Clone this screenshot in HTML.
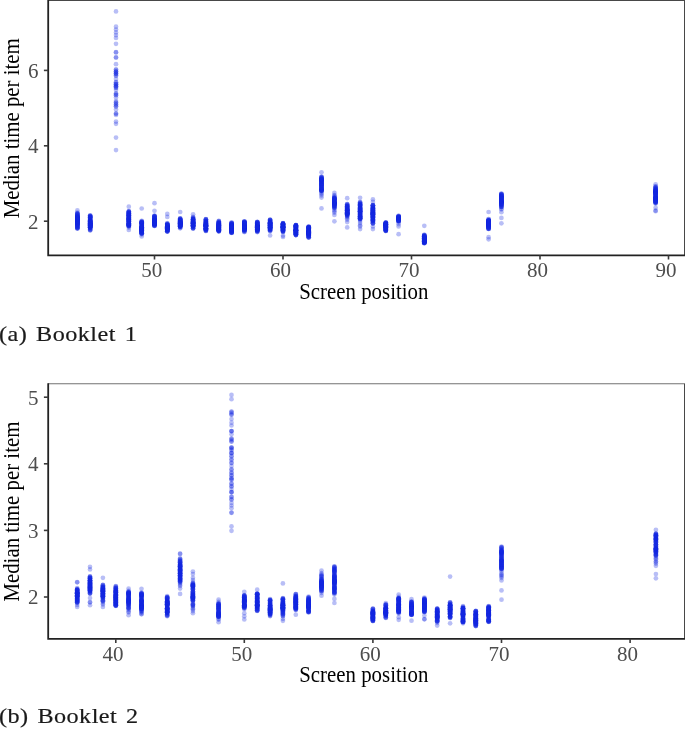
<!DOCTYPE html>
<html><head><meta charset="utf-8"><title>Median time per item by screen position</title>
<style>
html,body{margin:0;padding:0;background:#fff;}
body{width:685px;height:730px;overflow:hidden;position:relative;font-family:"Liberation Serif",serif;}
svg{position:absolute;left:0;top:0;display:block;}
.tk{font-family:"Liberation Serif",serif;font-size:21.65px;fill:#4d4d4d;}
.tt{font-family:"Liberation Serif",serif;font-size:22.6px;fill:#000;}
.cap{position:absolute;left:-1px;font-family:"Liberation Serif","DejaVu Serif",serif;font-size:22px;color:#1a1a1a;white-space:nowrap;line-height:1;-webkit-text-stroke:0.2px #1a1a1a;letter-spacing:0.4px;word-spacing:2.2px;transform:scaleX(1.10);transform-origin:0 0;}
</style></head><body>
<svg width="685" height="730" viewBox="0 0 685 730">
<g fill="#1428e2" fill-opacity="0.3">
<circle cx="77.4" cy="210.4" r="2.35"/>
<circle cx="77.4" cy="228.6" r="2.35"/>
<circle cx="77.4" cy="212.7" r="2.35"/>
<circle cx="77.4" cy="226.1" r="2.35"/>
<circle cx="77.4" cy="228.2" r="2.35"/>
<circle cx="77.4" cy="227.8" r="2.35"/>
<circle cx="77.4" cy="224.3" r="2.35"/>
<circle cx="77.4" cy="219.6" r="2.35"/>
<circle cx="77.4" cy="222.6" r="2.35"/>
<circle cx="77.4" cy="219.3" r="2.35"/>
<circle cx="77.4" cy="220.9" r="2.35"/>
<circle cx="77.4" cy="218.9" r="2.35"/>
<circle cx="77.4" cy="221.9" r="2.35"/>
<circle cx="77.4" cy="226.4" r="2.35"/>
<circle cx="77.4" cy="224.4" r="2.35"/>
<circle cx="77.4" cy="222.5" r="2.35"/>
<circle cx="77.4" cy="218.2" r="2.35"/>
<circle cx="77.4" cy="222.4" r="2.35"/>
<circle cx="77.4" cy="228.6" r="2.35"/>
<circle cx="77.4" cy="218.4" r="2.35"/>
<circle cx="77.4" cy="224.5" r="2.35"/>
<circle cx="77.4" cy="220.2" r="2.35"/>
<circle cx="77.4" cy="224.3" r="2.35"/>
<circle cx="77.4" cy="224.9" r="2.35"/>
<circle cx="77.4" cy="224.5" r="2.35"/>
<circle cx="77.4" cy="222.5" r="2.35"/>
<circle cx="77.4" cy="217.5" r="2.35"/>
<circle cx="77.4" cy="213.4" r="2.35"/>
<circle cx="77.4" cy="216.7" r="2.35"/>
<circle cx="77.4" cy="215.7" r="2.35"/>
<circle cx="77.4" cy="226.5" r="2.35"/>
<circle cx="77.4" cy="223.0" r="2.35"/>
<circle cx="77.4" cy="221.8" r="2.35"/>
<circle cx="77.4" cy="223.5" r="2.35"/>
<circle cx="77.4" cy="216.3" r="2.35"/>
<circle cx="77.4" cy="223.3" r="2.35"/>
<circle cx="77.4" cy="215.3" r="2.35"/>
<circle cx="77.4" cy="217.6" r="2.35"/>
<circle cx="77.4" cy="217.7" r="2.35"/>
<circle cx="77.4" cy="219.6" r="2.35"/>
<circle cx="77.4" cy="216.7" r="2.35"/>
<circle cx="77.4" cy="214.4" r="2.35"/>
<circle cx="77.4" cy="217.7" r="2.35"/>
<circle cx="77.4" cy="228.0" r="2.35"/>
<circle cx="77.4" cy="214.1" r="2.35"/>
<circle cx="77.4" cy="217.0" r="2.35"/>
<circle cx="77.4" cy="225.7" r="2.35"/>
<circle cx="77.4" cy="225.3" r="2.35"/>
<circle cx="77.4" cy="221.2" r="2.35"/>
<circle cx="77.4" cy="217.5" r="2.35"/>
<circle cx="77.4" cy="219.3" r="2.35"/>
<circle cx="77.4" cy="221.1" r="2.35"/>
<circle cx="77.4" cy="215.9" r="2.35"/>
<circle cx="77.4" cy="215.5" r="2.35"/>
<circle cx="77.4" cy="217.3" r="2.35"/>
<circle cx="77.4" cy="214.4" r="2.35"/>
<circle cx="77.4" cy="216.5" r="2.35"/>
<circle cx="77.4" cy="224.2" r="2.35"/>
<circle cx="77.4" cy="227.5" r="2.35"/>
<circle cx="77.4" cy="218.7" r="2.35"/>
<circle cx="77.4" cy="219.9" r="2.35"/>
<circle cx="77.4" cy="219.2" r="2.35"/>
<circle cx="77.4" cy="218.4" r="2.35"/>
<circle cx="77.4" cy="220.5" r="2.35"/>
<circle cx="77.4" cy="219.7" r="2.35"/>
<circle cx="77.4" cy="226.9" r="2.35"/>
<circle cx="77.4" cy="220.4" r="2.35"/>
<circle cx="77.4" cy="219.9" r="2.35"/>
<circle cx="77.4" cy="217.4" r="2.35"/>
<circle cx="77.4" cy="221.9" r="2.35"/>
<circle cx="77.4" cy="222.6" r="2.35"/>
<circle cx="77.4" cy="222.4" r="2.35"/>
<circle cx="77.4" cy="221.4" r="2.35"/>
<circle cx="77.4" cy="217.8" r="2.35"/>
<circle cx="77.4" cy="221.1" r="2.35"/>
<circle cx="77.4" cy="227.1" r="2.35"/>
<circle cx="77.4" cy="222.7" r="2.35"/>
<circle cx="77.4" cy="219.2" r="2.35"/>
<circle cx="77.4" cy="213.7" r="2.35"/>
<circle cx="77.4" cy="223.4" r="2.35"/>
<circle cx="77.4" cy="213.5" r="2.35"/>
<circle cx="90.2" cy="215.3" r="2.35"/>
<circle cx="90.2" cy="230.4" r="2.35"/>
<circle cx="90.2" cy="226.1" r="2.35"/>
<circle cx="90.2" cy="219.2" r="2.35"/>
<circle cx="90.2" cy="217.9" r="2.35"/>
<circle cx="90.2" cy="225.7" r="2.35"/>
<circle cx="90.2" cy="225.0" r="2.35"/>
<circle cx="90.2" cy="225.9" r="2.35"/>
<circle cx="90.2" cy="223.3" r="2.35"/>
<circle cx="90.2" cy="227.2" r="2.35"/>
<circle cx="90.2" cy="223.6" r="2.35"/>
<circle cx="90.2" cy="222.8" r="2.35"/>
<circle cx="90.2" cy="223.4" r="2.35"/>
<circle cx="90.2" cy="217.8" r="2.35"/>
<circle cx="90.2" cy="225.7" r="2.35"/>
<circle cx="90.2" cy="216.8" r="2.35"/>
<circle cx="90.2" cy="220.2" r="2.35"/>
<circle cx="90.2" cy="216.1" r="2.35"/>
<circle cx="90.2" cy="216.1" r="2.35"/>
<circle cx="90.2" cy="216.7" r="2.35"/>
<circle cx="90.2" cy="227.2" r="2.35"/>
<circle cx="90.2" cy="225.2" r="2.35"/>
<circle cx="90.2" cy="224.6" r="2.35"/>
<circle cx="90.2" cy="217.1" r="2.35"/>
<circle cx="90.2" cy="220.6" r="2.35"/>
<circle cx="90.2" cy="224.5" r="2.35"/>
<circle cx="90.2" cy="221.4" r="2.35"/>
<circle cx="90.2" cy="221.2" r="2.35"/>
<circle cx="90.2" cy="226.6" r="2.35"/>
<circle cx="90.2" cy="224.5" r="2.35"/>
<circle cx="90.2" cy="225.7" r="2.35"/>
<circle cx="90.2" cy="227.5" r="2.35"/>
<circle cx="90.2" cy="223.0" r="2.35"/>
<circle cx="90.2" cy="222.9" r="2.35"/>
<circle cx="90.2" cy="224.5" r="2.35"/>
<circle cx="90.2" cy="225.1" r="2.35"/>
<circle cx="90.2" cy="222.0" r="2.35"/>
<circle cx="90.2" cy="223.9" r="2.35"/>
<circle cx="90.2" cy="228.7" r="2.35"/>
<circle cx="90.2" cy="216.9" r="2.35"/>
<circle cx="90.2" cy="225.6" r="2.35"/>
<circle cx="90.2" cy="226.6" r="2.35"/>
<circle cx="90.2" cy="219.5" r="2.35"/>
<circle cx="90.2" cy="227.6" r="2.35"/>
<circle cx="90.2" cy="229.6" r="2.35"/>
<circle cx="90.2" cy="222.6" r="2.35"/>
<circle cx="90.2" cy="220.3" r="2.35"/>
<circle cx="90.2" cy="223.1" r="2.35"/>
<circle cx="90.2" cy="227.3" r="2.35"/>
<circle cx="90.2" cy="226.2" r="2.35"/>
<circle cx="90.2" cy="221.8" r="2.35"/>
<circle cx="90.2" cy="223.5" r="2.35"/>
<circle cx="90.2" cy="224.0" r="2.35"/>
<circle cx="90.2" cy="229.9" r="2.35"/>
<circle cx="90.2" cy="220.6" r="2.35"/>
<circle cx="90.2" cy="227.4" r="2.35"/>
<circle cx="90.2" cy="228.9" r="2.35"/>
<circle cx="90.2" cy="230.1" r="2.35"/>
<circle cx="90.2" cy="224.1" r="2.35"/>
<circle cx="90.2" cy="221.2" r="2.35"/>
<circle cx="90.2" cy="221.3" r="2.35"/>
<circle cx="90.2" cy="218.4" r="2.35"/>
<circle cx="90.2" cy="220.4" r="2.35"/>
<circle cx="90.2" cy="225.6" r="2.35"/>
<circle cx="90.2" cy="223.9" r="2.35"/>
<circle cx="90.2" cy="215.5" r="2.35"/>
<circle cx="90.2" cy="223.8" r="2.35"/>
<circle cx="90.2" cy="217.5" r="2.35"/>
<circle cx="90.2" cy="224.7" r="2.35"/>
<circle cx="90.2" cy="221.7" r="2.35"/>
<circle cx="90.2" cy="226.7" r="2.35"/>
<circle cx="90.2" cy="222.6" r="2.35"/>
<circle cx="90.2" cy="218.5" r="2.35"/>
<circle cx="90.2" cy="217.2" r="2.35"/>
<circle cx="90.2" cy="222.2" r="2.35"/>
<circle cx="90.2" cy="224.3" r="2.35"/>
<circle cx="90.2" cy="223.1" r="2.35"/>
<circle cx="90.2" cy="222.0" r="2.35"/>
<circle cx="90.2" cy="227.4" r="2.35"/>
<circle cx="90.2" cy="217.5" r="2.35"/>
<circle cx="90.2" cy="227.5" r="2.35"/>
<circle cx="90.2" cy="221.7" r="2.35"/>
<circle cx="90.2" cy="220.0" r="2.35"/>
<circle cx="90.2" cy="226.1" r="2.35"/>
<circle cx="90.2" cy="223.4" r="2.35"/>
<circle cx="90.2" cy="226.8" r="2.35"/>
<circle cx="90.2" cy="225.2" r="2.35"/>
<circle cx="90.2" cy="216.1" r="2.35"/>
<circle cx="128.8" cy="211.3" r="2.35"/>
<circle cx="128.8" cy="230.0" r="2.35"/>
<circle cx="128.8" cy="227.6" r="2.35"/>
<circle cx="128.8" cy="212.7" r="2.35"/>
<circle cx="128.8" cy="223.8" r="2.35"/>
<circle cx="128.8" cy="213.3" r="2.35"/>
<circle cx="128.8" cy="219.2" r="2.35"/>
<circle cx="128.8" cy="212.0" r="2.35"/>
<circle cx="128.8" cy="224.0" r="2.35"/>
<circle cx="128.8" cy="213.6" r="2.35"/>
<circle cx="128.8" cy="225.4" r="2.35"/>
<circle cx="128.8" cy="218.0" r="2.35"/>
<circle cx="128.8" cy="218.5" r="2.35"/>
<circle cx="128.8" cy="215.4" r="2.35"/>
<circle cx="128.8" cy="221.7" r="2.35"/>
<circle cx="128.8" cy="221.7" r="2.35"/>
<circle cx="128.8" cy="212.7" r="2.35"/>
<circle cx="128.8" cy="226.3" r="2.35"/>
<circle cx="128.8" cy="218.0" r="2.35"/>
<circle cx="128.8" cy="214.5" r="2.35"/>
<circle cx="128.8" cy="225.5" r="2.35"/>
<circle cx="128.8" cy="219.9" r="2.35"/>
<circle cx="128.8" cy="219.9" r="2.35"/>
<circle cx="128.8" cy="217.5" r="2.35"/>
<circle cx="128.8" cy="216.7" r="2.35"/>
<circle cx="128.8" cy="224.3" r="2.35"/>
<circle cx="128.8" cy="221.1" r="2.35"/>
<circle cx="128.8" cy="215.3" r="2.35"/>
<circle cx="128.8" cy="219.1" r="2.35"/>
<circle cx="128.8" cy="224.4" r="2.35"/>
<circle cx="128.8" cy="219.6" r="2.35"/>
<circle cx="128.8" cy="218.8" r="2.35"/>
<circle cx="128.8" cy="225.7" r="2.35"/>
<circle cx="128.8" cy="214.9" r="2.35"/>
<circle cx="128.8" cy="224.7" r="2.35"/>
<circle cx="128.8" cy="212.3" r="2.35"/>
<circle cx="128.8" cy="225.9" r="2.35"/>
<circle cx="128.8" cy="211.4" r="2.35"/>
<circle cx="128.8" cy="219.1" r="2.35"/>
<circle cx="128.8" cy="217.9" r="2.35"/>
<circle cx="128.8" cy="219.0" r="2.35"/>
<circle cx="128.8" cy="215.4" r="2.35"/>
<circle cx="128.8" cy="220.6" r="2.35"/>
<circle cx="128.8" cy="219.4" r="2.35"/>
<circle cx="128.8" cy="222.5" r="2.35"/>
<circle cx="128.8" cy="225.4" r="2.35"/>
<circle cx="128.8" cy="217.9" r="2.35"/>
<circle cx="128.8" cy="215.7" r="2.35"/>
<circle cx="128.8" cy="225.9" r="2.35"/>
<circle cx="128.8" cy="215.4" r="2.35"/>
<circle cx="128.8" cy="225.5" r="2.35"/>
<circle cx="128.8" cy="224.1" r="2.35"/>
<circle cx="128.8" cy="219.2" r="2.35"/>
<circle cx="128.8" cy="224.2" r="2.35"/>
<circle cx="128.8" cy="220.2" r="2.35"/>
<circle cx="128.8" cy="211.7" r="2.35"/>
<circle cx="128.8" cy="215.1" r="2.35"/>
<circle cx="128.8" cy="224.9" r="2.35"/>
<circle cx="128.8" cy="215.6" r="2.35"/>
<circle cx="128.8" cy="213.5" r="2.35"/>
<circle cx="128.8" cy="214.3" r="2.35"/>
<circle cx="128.8" cy="218.4" r="2.35"/>
<circle cx="128.8" cy="211.7" r="2.35"/>
<circle cx="128.8" cy="221.4" r="2.35"/>
<circle cx="128.8" cy="221.2" r="2.35"/>
<circle cx="128.8" cy="215.1" r="2.35"/>
<circle cx="128.8" cy="223.7" r="2.35"/>
<circle cx="128.8" cy="217.4" r="2.35"/>
<circle cx="128.8" cy="213.7" r="2.35"/>
<circle cx="128.8" cy="221.0" r="2.35"/>
<circle cx="128.8" cy="216.3" r="2.35"/>
<circle cx="128.8" cy="224.0" r="2.35"/>
<circle cx="128.8" cy="223.8" r="2.35"/>
<circle cx="128.8" cy="223.3" r="2.35"/>
<circle cx="128.8" cy="221.2" r="2.35"/>
<circle cx="128.8" cy="223.3" r="2.35"/>
<circle cx="128.8" cy="222.0" r="2.35"/>
<circle cx="128.8" cy="224.8" r="2.35"/>
<circle cx="128.8" cy="217.3" r="2.35"/>
<circle cx="128.8" cy="216.2" r="2.35"/>
<circle cx="128.8" cy="222.1" r="2.35"/>
<circle cx="128.8" cy="213.3" r="2.35"/>
<circle cx="128.8" cy="223.5" r="2.35"/>
<circle cx="128.8" cy="206.7" r="2.35"/>
<circle cx="141.7" cy="220.9" r="2.35"/>
<circle cx="141.7" cy="234.4" r="2.35"/>
<circle cx="141.7" cy="227.0" r="2.35"/>
<circle cx="141.7" cy="230.7" r="2.35"/>
<circle cx="141.7" cy="232.5" r="2.35"/>
<circle cx="141.7" cy="222.8" r="2.35"/>
<circle cx="141.7" cy="227.2" r="2.35"/>
<circle cx="141.7" cy="229.2" r="2.35"/>
<circle cx="141.7" cy="232.1" r="2.35"/>
<circle cx="141.7" cy="227.5" r="2.35"/>
<circle cx="141.7" cy="226.6" r="2.35"/>
<circle cx="141.7" cy="222.2" r="2.35"/>
<circle cx="141.7" cy="225.7" r="2.35"/>
<circle cx="141.7" cy="232.5" r="2.35"/>
<circle cx="141.7" cy="228.2" r="2.35"/>
<circle cx="141.7" cy="223.0" r="2.35"/>
<circle cx="141.7" cy="223.1" r="2.35"/>
<circle cx="141.7" cy="233.8" r="2.35"/>
<circle cx="141.7" cy="231.1" r="2.35"/>
<circle cx="141.7" cy="231.0" r="2.35"/>
<circle cx="141.7" cy="230.2" r="2.35"/>
<circle cx="141.7" cy="230.0" r="2.35"/>
<circle cx="141.7" cy="227.3" r="2.35"/>
<circle cx="141.7" cy="230.5" r="2.35"/>
<circle cx="141.7" cy="233.2" r="2.35"/>
<circle cx="141.7" cy="229.4" r="2.35"/>
<circle cx="141.7" cy="223.9" r="2.35"/>
<circle cx="141.7" cy="224.1" r="2.35"/>
<circle cx="141.7" cy="229.2" r="2.35"/>
<circle cx="141.7" cy="228.6" r="2.35"/>
<circle cx="141.7" cy="225.5" r="2.35"/>
<circle cx="141.7" cy="222.4" r="2.35"/>
<circle cx="141.7" cy="233.3" r="2.35"/>
<circle cx="141.7" cy="221.2" r="2.35"/>
<circle cx="141.7" cy="233.0" r="2.35"/>
<circle cx="141.7" cy="232.0" r="2.35"/>
<circle cx="141.7" cy="222.9" r="2.35"/>
<circle cx="141.7" cy="229.1" r="2.35"/>
<circle cx="141.7" cy="223.6" r="2.35"/>
<circle cx="141.7" cy="227.3" r="2.35"/>
<circle cx="141.7" cy="230.5" r="2.35"/>
<circle cx="141.7" cy="223.7" r="2.35"/>
<circle cx="141.7" cy="227.0" r="2.35"/>
<circle cx="141.7" cy="230.1" r="2.35"/>
<circle cx="141.7" cy="229.7" r="2.35"/>
<circle cx="141.7" cy="231.1" r="2.35"/>
<circle cx="141.7" cy="228.8" r="2.35"/>
<circle cx="141.7" cy="225.9" r="2.35"/>
<circle cx="141.7" cy="231.9" r="2.35"/>
<circle cx="141.7" cy="227.9" r="2.35"/>
<circle cx="141.7" cy="223.2" r="2.35"/>
<circle cx="141.7" cy="224.3" r="2.35"/>
<circle cx="141.7" cy="227.6" r="2.35"/>
<circle cx="141.7" cy="227.1" r="2.35"/>
<circle cx="141.7" cy="228.5" r="2.35"/>
<circle cx="141.7" cy="227.6" r="2.35"/>
<circle cx="141.7" cy="228.6" r="2.35"/>
<circle cx="141.7" cy="226.9" r="2.35"/>
<circle cx="141.7" cy="229.9" r="2.35"/>
<circle cx="141.7" cy="233.3" r="2.35"/>
<circle cx="141.7" cy="230.0" r="2.35"/>
<circle cx="141.7" cy="226.6" r="2.35"/>
<circle cx="141.7" cy="230.1" r="2.35"/>
<circle cx="141.7" cy="222.4" r="2.35"/>
<circle cx="141.7" cy="228.0" r="2.35"/>
<circle cx="141.7" cy="222.6" r="2.35"/>
<circle cx="141.7" cy="231.6" r="2.35"/>
<circle cx="141.7" cy="221.8" r="2.35"/>
<circle cx="141.7" cy="222.0" r="2.35"/>
<circle cx="141.7" cy="225.6" r="2.35"/>
<circle cx="141.7" cy="223.5" r="2.35"/>
<circle cx="141.7" cy="230.5" r="2.35"/>
<circle cx="141.7" cy="230.3" r="2.35"/>
<circle cx="141.7" cy="228.6" r="2.35"/>
<circle cx="141.7" cy="231.5" r="2.35"/>
<circle cx="141.7" cy="227.5" r="2.35"/>
<circle cx="141.7" cy="230.9" r="2.35"/>
<circle cx="141.7" cy="232.9" r="2.35"/>
<circle cx="141.7" cy="233.2" r="2.35"/>
<circle cx="141.7" cy="221.8" r="2.35"/>
<circle cx="141.7" cy="208.5" r="2.35"/>
<circle cx="141.7" cy="236.5" r="2.35"/>
<circle cx="154.5" cy="215.7" r="2.35"/>
<circle cx="154.5" cy="226.0" r="2.35"/>
<circle cx="154.5" cy="220.2" r="2.35"/>
<circle cx="154.5" cy="223.9" r="2.35"/>
<circle cx="154.5" cy="219.6" r="2.35"/>
<circle cx="154.5" cy="225.3" r="2.35"/>
<circle cx="154.5" cy="223.3" r="2.35"/>
<circle cx="154.5" cy="224.6" r="2.35"/>
<circle cx="154.5" cy="220.0" r="2.35"/>
<circle cx="154.5" cy="226.0" r="2.35"/>
<circle cx="154.5" cy="220.0" r="2.35"/>
<circle cx="154.5" cy="221.2" r="2.35"/>
<circle cx="154.5" cy="219.4" r="2.35"/>
<circle cx="154.5" cy="224.5" r="2.35"/>
<circle cx="154.5" cy="224.9" r="2.35"/>
<circle cx="154.5" cy="220.9" r="2.35"/>
<circle cx="154.5" cy="216.0" r="2.35"/>
<circle cx="154.5" cy="221.6" r="2.35"/>
<circle cx="154.5" cy="222.3" r="2.35"/>
<circle cx="154.5" cy="225.5" r="2.35"/>
<circle cx="154.5" cy="224.1" r="2.35"/>
<circle cx="154.5" cy="221.0" r="2.35"/>
<circle cx="154.5" cy="224.4" r="2.35"/>
<circle cx="154.5" cy="223.1" r="2.35"/>
<circle cx="154.5" cy="221.7" r="2.35"/>
<circle cx="154.5" cy="221.1" r="2.35"/>
<circle cx="154.5" cy="219.8" r="2.35"/>
<circle cx="154.5" cy="223.7" r="2.35"/>
<circle cx="154.5" cy="216.5" r="2.35"/>
<circle cx="154.5" cy="218.3" r="2.35"/>
<circle cx="154.5" cy="220.9" r="2.35"/>
<circle cx="154.5" cy="219.1" r="2.35"/>
<circle cx="154.5" cy="218.0" r="2.35"/>
<circle cx="154.5" cy="223.2" r="2.35"/>
<circle cx="154.5" cy="223.2" r="2.35"/>
<circle cx="154.5" cy="220.6" r="2.35"/>
<circle cx="154.5" cy="219.9" r="2.35"/>
<circle cx="154.5" cy="223.0" r="2.35"/>
<circle cx="154.5" cy="225.4" r="2.35"/>
<circle cx="154.5" cy="217.2" r="2.35"/>
<circle cx="154.5" cy="220.1" r="2.35"/>
<circle cx="154.5" cy="224.1" r="2.35"/>
<circle cx="154.5" cy="224.7" r="2.35"/>
<circle cx="154.5" cy="220.6" r="2.35"/>
<circle cx="154.5" cy="223.4" r="2.35"/>
<circle cx="154.5" cy="216.5" r="2.35"/>
<circle cx="154.5" cy="218.3" r="2.35"/>
<circle cx="154.5" cy="221.0" r="2.35"/>
<circle cx="154.5" cy="221.9" r="2.35"/>
<circle cx="154.5" cy="223.5" r="2.35"/>
<circle cx="154.5" cy="223.7" r="2.35"/>
<circle cx="154.5" cy="225.6" r="2.35"/>
<circle cx="154.5" cy="218.8" r="2.35"/>
<circle cx="154.5" cy="216.5" r="2.35"/>
<circle cx="154.5" cy="216.4" r="2.35"/>
<circle cx="154.5" cy="220.5" r="2.35"/>
<circle cx="154.5" cy="220.9" r="2.35"/>
<circle cx="154.5" cy="222.9" r="2.35"/>
<circle cx="154.5" cy="215.8" r="2.35"/>
<circle cx="154.5" cy="220.8" r="2.35"/>
<circle cx="154.5" cy="220.0" r="2.35"/>
<circle cx="154.5" cy="219.6" r="2.35"/>
<circle cx="154.5" cy="220.6" r="2.35"/>
<circle cx="154.5" cy="217.7" r="2.35"/>
<circle cx="154.5" cy="223.7" r="2.35"/>
<circle cx="154.5" cy="222.3" r="2.35"/>
<circle cx="154.5" cy="220.5" r="2.35"/>
<circle cx="154.5" cy="218.1" r="2.35"/>
<circle cx="154.5" cy="220.1" r="2.35"/>
<circle cx="154.5" cy="216.8" r="2.35"/>
<circle cx="154.5" cy="221.0" r="2.35"/>
<circle cx="154.5" cy="221.7" r="2.35"/>
<circle cx="154.5" cy="203.2" r="2.35"/>
<circle cx="154.5" cy="210.8" r="2.35"/>
<circle cx="167.3" cy="223.2" r="2.35"/>
<circle cx="167.3" cy="231.6" r="2.35"/>
<circle cx="167.3" cy="227.9" r="2.35"/>
<circle cx="167.3" cy="226.6" r="2.35"/>
<circle cx="167.3" cy="226.3" r="2.35"/>
<circle cx="167.3" cy="228.9" r="2.35"/>
<circle cx="167.3" cy="229.5" r="2.35"/>
<circle cx="167.3" cy="227.3" r="2.35"/>
<circle cx="167.3" cy="224.5" r="2.35"/>
<circle cx="167.3" cy="226.9" r="2.35"/>
<circle cx="167.3" cy="227.2" r="2.35"/>
<circle cx="167.3" cy="229.9" r="2.35"/>
<circle cx="167.3" cy="228.4" r="2.35"/>
<circle cx="167.3" cy="225.0" r="2.35"/>
<circle cx="167.3" cy="226.1" r="2.35"/>
<circle cx="167.3" cy="224.9" r="2.35"/>
<circle cx="167.3" cy="223.7" r="2.35"/>
<circle cx="167.3" cy="227.0" r="2.35"/>
<circle cx="167.3" cy="225.8" r="2.35"/>
<circle cx="167.3" cy="227.8" r="2.35"/>
<circle cx="167.3" cy="229.2" r="2.35"/>
<circle cx="167.3" cy="226.0" r="2.35"/>
<circle cx="167.3" cy="226.3" r="2.35"/>
<circle cx="167.3" cy="231.1" r="2.35"/>
<circle cx="167.3" cy="227.8" r="2.35"/>
<circle cx="167.3" cy="231.2" r="2.35"/>
<circle cx="167.3" cy="224.9" r="2.35"/>
<circle cx="167.3" cy="228.2" r="2.35"/>
<circle cx="167.3" cy="229.4" r="2.35"/>
<circle cx="167.3" cy="228.5" r="2.35"/>
<circle cx="167.3" cy="230.0" r="2.35"/>
<circle cx="167.3" cy="230.6" r="2.35"/>
<circle cx="167.3" cy="229.1" r="2.35"/>
<circle cx="167.3" cy="226.9" r="2.35"/>
<circle cx="167.3" cy="229.1" r="2.35"/>
<circle cx="167.3" cy="223.8" r="2.35"/>
<circle cx="167.3" cy="231.4" r="2.35"/>
<circle cx="167.3" cy="224.0" r="2.35"/>
<circle cx="167.3" cy="228.2" r="2.35"/>
<circle cx="167.3" cy="226.6" r="2.35"/>
<circle cx="167.3" cy="227.5" r="2.35"/>
<circle cx="167.3" cy="231.3" r="2.35"/>
<circle cx="167.3" cy="227.5" r="2.35"/>
<circle cx="167.3" cy="224.7" r="2.35"/>
<circle cx="167.3" cy="228.3" r="2.35"/>
<circle cx="167.3" cy="229.4" r="2.35"/>
<circle cx="167.3" cy="229.8" r="2.35"/>
<circle cx="167.3" cy="224.8" r="2.35"/>
<circle cx="167.3" cy="227.5" r="2.35"/>
<circle cx="167.3" cy="228.3" r="2.35"/>
<circle cx="167.3" cy="226.0" r="2.35"/>
<circle cx="167.3" cy="225.0" r="2.35"/>
<circle cx="167.3" cy="229.7" r="2.35"/>
<circle cx="167.3" cy="225.8" r="2.35"/>
<circle cx="167.3" cy="225.1" r="2.35"/>
<circle cx="167.3" cy="229.8" r="2.35"/>
<circle cx="167.3" cy="227.4" r="2.35"/>
<circle cx="167.3" cy="225.1" r="2.35"/>
<circle cx="167.3" cy="230.1" r="2.35"/>
<circle cx="167.3" cy="227.2" r="2.35"/>
<circle cx="167.3" cy="228.4" r="2.35"/>
<circle cx="167.3" cy="231.2" r="2.35"/>
<circle cx="167.3" cy="225.7" r="2.35"/>
<circle cx="167.3" cy="227.4" r="2.35"/>
<circle cx="167.3" cy="213.9" r="2.35"/>
<circle cx="167.3" cy="216.9" r="2.35"/>
<circle cx="180.2" cy="218.3" r="2.35"/>
<circle cx="180.2" cy="228.3" r="2.35"/>
<circle cx="180.2" cy="226.4" r="2.35"/>
<circle cx="180.2" cy="220.7" r="2.35"/>
<circle cx="180.2" cy="223.1" r="2.35"/>
<circle cx="180.2" cy="218.4" r="2.35"/>
<circle cx="180.2" cy="228.0" r="2.35"/>
<circle cx="180.2" cy="221.5" r="2.35"/>
<circle cx="180.2" cy="223.1" r="2.35"/>
<circle cx="180.2" cy="222.0" r="2.35"/>
<circle cx="180.2" cy="222.8" r="2.35"/>
<circle cx="180.2" cy="218.9" r="2.35"/>
<circle cx="180.2" cy="223.4" r="2.35"/>
<circle cx="180.2" cy="223.0" r="2.35"/>
<circle cx="180.2" cy="224.5" r="2.35"/>
<circle cx="180.2" cy="225.2" r="2.35"/>
<circle cx="180.2" cy="222.4" r="2.35"/>
<circle cx="180.2" cy="219.7" r="2.35"/>
<circle cx="180.2" cy="223.9" r="2.35"/>
<circle cx="180.2" cy="221.4" r="2.35"/>
<circle cx="180.2" cy="226.4" r="2.35"/>
<circle cx="180.2" cy="222.8" r="2.35"/>
<circle cx="180.2" cy="221.4" r="2.35"/>
<circle cx="180.2" cy="220.5" r="2.35"/>
<circle cx="180.2" cy="219.6" r="2.35"/>
<circle cx="180.2" cy="221.9" r="2.35"/>
<circle cx="180.2" cy="224.5" r="2.35"/>
<circle cx="180.2" cy="225.4" r="2.35"/>
<circle cx="180.2" cy="225.6" r="2.35"/>
<circle cx="180.2" cy="220.5" r="2.35"/>
<circle cx="180.2" cy="223.4" r="2.35"/>
<circle cx="180.2" cy="221.2" r="2.35"/>
<circle cx="180.2" cy="224.0" r="2.35"/>
<circle cx="180.2" cy="223.9" r="2.35"/>
<circle cx="180.2" cy="224.9" r="2.35"/>
<circle cx="180.2" cy="222.3" r="2.35"/>
<circle cx="180.2" cy="224.8" r="2.35"/>
<circle cx="180.2" cy="223.5" r="2.35"/>
<circle cx="180.2" cy="226.4" r="2.35"/>
<circle cx="180.2" cy="219.8" r="2.35"/>
<circle cx="180.2" cy="223.3" r="2.35"/>
<circle cx="180.2" cy="219.2" r="2.35"/>
<circle cx="180.2" cy="219.1" r="2.35"/>
<circle cx="180.2" cy="225.8" r="2.35"/>
<circle cx="180.2" cy="220.7" r="2.35"/>
<circle cx="180.2" cy="225.8" r="2.35"/>
<circle cx="180.2" cy="226.3" r="2.35"/>
<circle cx="180.2" cy="224.5" r="2.35"/>
<circle cx="180.2" cy="225.3" r="2.35"/>
<circle cx="180.2" cy="222.9" r="2.35"/>
<circle cx="180.2" cy="223.2" r="2.35"/>
<circle cx="180.2" cy="225.1" r="2.35"/>
<circle cx="180.2" cy="221.2" r="2.35"/>
<circle cx="180.2" cy="222.9" r="2.35"/>
<circle cx="180.2" cy="226.3" r="2.35"/>
<circle cx="180.2" cy="219.8" r="2.35"/>
<circle cx="180.2" cy="225.9" r="2.35"/>
<circle cx="180.2" cy="221.1" r="2.35"/>
<circle cx="180.2" cy="223.9" r="2.35"/>
<circle cx="180.2" cy="222.7" r="2.35"/>
<circle cx="180.2" cy="224.6" r="2.35"/>
<circle cx="180.2" cy="226.9" r="2.35"/>
<circle cx="180.2" cy="220.5" r="2.35"/>
<circle cx="180.2" cy="223.2" r="2.35"/>
<circle cx="180.2" cy="223.3" r="2.35"/>
<circle cx="180.2" cy="226.9" r="2.35"/>
<circle cx="180.2" cy="226.3" r="2.35"/>
<circle cx="180.2" cy="222.8" r="2.35"/>
<circle cx="180.2" cy="225.1" r="2.35"/>
<circle cx="180.2" cy="224.8" r="2.35"/>
<circle cx="180.2" cy="222.5" r="2.35"/>
<circle cx="180.2" cy="221.0" r="2.35"/>
<circle cx="180.2" cy="212.0" r="2.35"/>
<circle cx="193.1" cy="214.3" r="2.35"/>
<circle cx="193.1" cy="228.6" r="2.35"/>
<circle cx="193.1" cy="216.8" r="2.35"/>
<circle cx="193.1" cy="223.4" r="2.35"/>
<circle cx="193.1" cy="218.0" r="2.35"/>
<circle cx="193.1" cy="221.7" r="2.35"/>
<circle cx="193.1" cy="222.5" r="2.35"/>
<circle cx="193.1" cy="223.6" r="2.35"/>
<circle cx="193.1" cy="219.7" r="2.35"/>
<circle cx="193.1" cy="219.8" r="2.35"/>
<circle cx="193.1" cy="222.2" r="2.35"/>
<circle cx="193.1" cy="225.2" r="2.35"/>
<circle cx="193.1" cy="222.9" r="2.35"/>
<circle cx="193.1" cy="222.3" r="2.35"/>
<circle cx="193.1" cy="220.9" r="2.35"/>
<circle cx="193.1" cy="227.9" r="2.35"/>
<circle cx="193.1" cy="225.3" r="2.35"/>
<circle cx="193.1" cy="219.1" r="2.35"/>
<circle cx="193.1" cy="220.7" r="2.35"/>
<circle cx="193.1" cy="224.0" r="2.35"/>
<circle cx="193.1" cy="226.8" r="2.35"/>
<circle cx="193.1" cy="223.2" r="2.35"/>
<circle cx="193.1" cy="225.7" r="2.35"/>
<circle cx="193.1" cy="219.7" r="2.35"/>
<circle cx="193.1" cy="223.5" r="2.35"/>
<circle cx="193.1" cy="223.2" r="2.35"/>
<circle cx="193.1" cy="221.9" r="2.35"/>
<circle cx="193.1" cy="219.2" r="2.35"/>
<circle cx="193.1" cy="228.2" r="2.35"/>
<circle cx="193.1" cy="223.7" r="2.35"/>
<circle cx="193.1" cy="220.8" r="2.35"/>
<circle cx="193.1" cy="218.8" r="2.35"/>
<circle cx="193.1" cy="222.6" r="2.35"/>
<circle cx="193.1" cy="225.8" r="2.35"/>
<circle cx="193.1" cy="221.5" r="2.35"/>
<circle cx="193.1" cy="227.0" r="2.35"/>
<circle cx="193.1" cy="223.8" r="2.35"/>
<circle cx="193.1" cy="226.2" r="2.35"/>
<circle cx="193.1" cy="225.5" r="2.35"/>
<circle cx="193.1" cy="222.6" r="2.35"/>
<circle cx="193.1" cy="217.6" r="2.35"/>
<circle cx="193.1" cy="226.3" r="2.35"/>
<circle cx="193.1" cy="219.8" r="2.35"/>
<circle cx="193.1" cy="223.3" r="2.35"/>
<circle cx="193.1" cy="226.1" r="2.35"/>
<circle cx="193.1" cy="223.2" r="2.35"/>
<circle cx="193.1" cy="219.2" r="2.35"/>
<circle cx="193.1" cy="228.0" r="2.35"/>
<circle cx="193.1" cy="221.4" r="2.35"/>
<circle cx="193.1" cy="224.2" r="2.35"/>
<circle cx="193.1" cy="225.9" r="2.35"/>
<circle cx="193.1" cy="226.3" r="2.35"/>
<circle cx="193.1" cy="225.4" r="2.35"/>
<circle cx="193.1" cy="222.1" r="2.35"/>
<circle cx="193.1" cy="220.5" r="2.35"/>
<circle cx="193.1" cy="224.9" r="2.35"/>
<circle cx="193.1" cy="225.4" r="2.35"/>
<circle cx="193.1" cy="222.5" r="2.35"/>
<circle cx="193.1" cy="224.5" r="2.35"/>
<circle cx="193.1" cy="223.5" r="2.35"/>
<circle cx="193.1" cy="228.4" r="2.35"/>
<circle cx="193.1" cy="218.0" r="2.35"/>
<circle cx="193.1" cy="222.8" r="2.35"/>
<circle cx="193.1" cy="221.6" r="2.35"/>
<circle cx="193.1" cy="225.5" r="2.35"/>
<circle cx="193.1" cy="220.0" r="2.35"/>
<circle cx="193.1" cy="224.3" r="2.35"/>
<circle cx="193.1" cy="219.8" r="2.35"/>
<circle cx="193.1" cy="226.0" r="2.35"/>
<circle cx="193.1" cy="221.6" r="2.35"/>
<circle cx="193.1" cy="225.3" r="2.35"/>
<circle cx="205.9" cy="219.2" r="2.35"/>
<circle cx="205.9" cy="230.9" r="2.35"/>
<circle cx="205.9" cy="228.8" r="2.35"/>
<circle cx="205.9" cy="225.1" r="2.35"/>
<circle cx="205.9" cy="226.2" r="2.35"/>
<circle cx="205.9" cy="229.3" r="2.35"/>
<circle cx="205.9" cy="228.8" r="2.35"/>
<circle cx="205.9" cy="223.7" r="2.35"/>
<circle cx="205.9" cy="225.7" r="2.35"/>
<circle cx="205.9" cy="220.6" r="2.35"/>
<circle cx="205.9" cy="225.8" r="2.35"/>
<circle cx="205.9" cy="227.7" r="2.35"/>
<circle cx="205.9" cy="223.6" r="2.35"/>
<circle cx="205.9" cy="229.8" r="2.35"/>
<circle cx="205.9" cy="226.0" r="2.35"/>
<circle cx="205.9" cy="228.1" r="2.35"/>
<circle cx="205.9" cy="226.3" r="2.35"/>
<circle cx="205.9" cy="225.4" r="2.35"/>
<circle cx="205.9" cy="229.1" r="2.35"/>
<circle cx="205.9" cy="224.7" r="2.35"/>
<circle cx="205.9" cy="228.5" r="2.35"/>
<circle cx="205.9" cy="222.5" r="2.35"/>
<circle cx="205.9" cy="223.4" r="2.35"/>
<circle cx="205.9" cy="222.3" r="2.35"/>
<circle cx="205.9" cy="222.6" r="2.35"/>
<circle cx="205.9" cy="224.2" r="2.35"/>
<circle cx="205.9" cy="221.1" r="2.35"/>
<circle cx="205.9" cy="225.0" r="2.35"/>
<circle cx="205.9" cy="225.5" r="2.35"/>
<circle cx="205.9" cy="225.4" r="2.35"/>
<circle cx="205.9" cy="228.4" r="2.35"/>
<circle cx="205.9" cy="225.6" r="2.35"/>
<circle cx="205.9" cy="226.9" r="2.35"/>
<circle cx="205.9" cy="229.5" r="2.35"/>
<circle cx="205.9" cy="223.7" r="2.35"/>
<circle cx="205.9" cy="225.0" r="2.35"/>
<circle cx="205.9" cy="230.0" r="2.35"/>
<circle cx="205.9" cy="225.5" r="2.35"/>
<circle cx="205.9" cy="228.5" r="2.35"/>
<circle cx="205.9" cy="224.4" r="2.35"/>
<circle cx="205.9" cy="226.0" r="2.35"/>
<circle cx="205.9" cy="223.1" r="2.35"/>
<circle cx="205.9" cy="228.7" r="2.35"/>
<circle cx="205.9" cy="219.8" r="2.35"/>
<circle cx="205.9" cy="227.8" r="2.35"/>
<circle cx="205.9" cy="226.5" r="2.35"/>
<circle cx="205.9" cy="225.1" r="2.35"/>
<circle cx="205.9" cy="221.5" r="2.35"/>
<circle cx="205.9" cy="226.2" r="2.35"/>
<circle cx="205.9" cy="225.5" r="2.35"/>
<circle cx="205.9" cy="221.1" r="2.35"/>
<circle cx="205.9" cy="223.7" r="2.35"/>
<circle cx="205.9" cy="223.8" r="2.35"/>
<circle cx="205.9" cy="228.7" r="2.35"/>
<circle cx="205.9" cy="224.8" r="2.35"/>
<circle cx="205.9" cy="226.9" r="2.35"/>
<circle cx="205.9" cy="226.1" r="2.35"/>
<circle cx="205.9" cy="225.1" r="2.35"/>
<circle cx="205.9" cy="221.8" r="2.35"/>
<circle cx="205.9" cy="226.2" r="2.35"/>
<circle cx="205.9" cy="219.4" r="2.35"/>
<circle cx="205.9" cy="228.3" r="2.35"/>
<circle cx="205.9" cy="221.5" r="2.35"/>
<circle cx="205.9" cy="229.0" r="2.35"/>
<circle cx="205.9" cy="219.4" r="2.35"/>
<circle cx="205.9" cy="223.4" r="2.35"/>
<circle cx="205.9" cy="230.9" r="2.35"/>
<circle cx="205.9" cy="219.7" r="2.35"/>
<circle cx="205.9" cy="230.5" r="2.35"/>
<circle cx="205.9" cy="226.2" r="2.35"/>
<circle cx="205.9" cy="228.4" r="2.35"/>
<circle cx="205.9" cy="225.1" r="2.35"/>
<circle cx="205.9" cy="227.7" r="2.35"/>
<circle cx="205.9" cy="229.6" r="2.35"/>
<circle cx="205.9" cy="221.0" r="2.35"/>
<circle cx="205.9" cy="222.9" r="2.35"/>
<circle cx="205.9" cy="229.2" r="2.35"/>
<circle cx="205.9" cy="230.6" r="2.35"/>
<circle cx="205.9" cy="224.8" r="2.35"/>
<circle cx="205.9" cy="226.0" r="2.35"/>
<circle cx="218.8" cy="220.9" r="2.35"/>
<circle cx="218.8" cy="231.6" r="2.35"/>
<circle cx="218.8" cy="230.1" r="2.35"/>
<circle cx="218.8" cy="229.2" r="2.35"/>
<circle cx="218.8" cy="229.7" r="2.35"/>
<circle cx="218.8" cy="227.3" r="2.35"/>
<circle cx="218.8" cy="225.6" r="2.35"/>
<circle cx="218.8" cy="225.7" r="2.35"/>
<circle cx="218.8" cy="228.3" r="2.35"/>
<circle cx="218.8" cy="230.5" r="2.35"/>
<circle cx="218.8" cy="221.3" r="2.35"/>
<circle cx="218.8" cy="223.1" r="2.35"/>
<circle cx="218.8" cy="227.3" r="2.35"/>
<circle cx="218.8" cy="228.0" r="2.35"/>
<circle cx="218.8" cy="230.8" r="2.35"/>
<circle cx="218.8" cy="229.8" r="2.35"/>
<circle cx="218.8" cy="224.1" r="2.35"/>
<circle cx="218.8" cy="224.2" r="2.35"/>
<circle cx="218.8" cy="224.6" r="2.35"/>
<circle cx="218.8" cy="228.0" r="2.35"/>
<circle cx="218.8" cy="227.2" r="2.35"/>
<circle cx="218.8" cy="229.4" r="2.35"/>
<circle cx="218.8" cy="221.2" r="2.35"/>
<circle cx="218.8" cy="222.6" r="2.35"/>
<circle cx="218.8" cy="226.4" r="2.35"/>
<circle cx="218.8" cy="226.9" r="2.35"/>
<circle cx="218.8" cy="223.2" r="2.35"/>
<circle cx="218.8" cy="227.7" r="2.35"/>
<circle cx="218.8" cy="229.6" r="2.35"/>
<circle cx="218.8" cy="228.4" r="2.35"/>
<circle cx="218.8" cy="224.8" r="2.35"/>
<circle cx="218.8" cy="225.8" r="2.35"/>
<circle cx="218.8" cy="229.7" r="2.35"/>
<circle cx="218.8" cy="228.8" r="2.35"/>
<circle cx="218.8" cy="224.4" r="2.35"/>
<circle cx="218.8" cy="228.4" r="2.35"/>
<circle cx="218.8" cy="227.6" r="2.35"/>
<circle cx="218.8" cy="224.8" r="2.35"/>
<circle cx="218.8" cy="222.1" r="2.35"/>
<circle cx="218.8" cy="225.5" r="2.35"/>
<circle cx="218.8" cy="229.8" r="2.35"/>
<circle cx="218.8" cy="229.8" r="2.35"/>
<circle cx="218.8" cy="225.2" r="2.35"/>
<circle cx="218.8" cy="222.6" r="2.35"/>
<circle cx="218.8" cy="224.6" r="2.35"/>
<circle cx="218.8" cy="230.5" r="2.35"/>
<circle cx="218.8" cy="230.3" r="2.35"/>
<circle cx="218.8" cy="226.2" r="2.35"/>
<circle cx="218.8" cy="228.5" r="2.35"/>
<circle cx="218.8" cy="226.4" r="2.35"/>
<circle cx="218.8" cy="226.7" r="2.35"/>
<circle cx="218.8" cy="229.9" r="2.35"/>
<circle cx="218.8" cy="223.6" r="2.35"/>
<circle cx="218.8" cy="228.1" r="2.35"/>
<circle cx="218.8" cy="222.3" r="2.35"/>
<circle cx="218.8" cy="229.8" r="2.35"/>
<circle cx="218.8" cy="223.1" r="2.35"/>
<circle cx="218.8" cy="226.6" r="2.35"/>
<circle cx="218.8" cy="226.9" r="2.35"/>
<circle cx="218.8" cy="224.3" r="2.35"/>
<circle cx="218.8" cy="227.8" r="2.35"/>
<circle cx="218.8" cy="225.3" r="2.35"/>
<circle cx="218.8" cy="223.3" r="2.35"/>
<circle cx="218.8" cy="223.4" r="2.35"/>
<circle cx="218.8" cy="223.8" r="2.35"/>
<circle cx="218.8" cy="226.2" r="2.35"/>
<circle cx="218.8" cy="225.2" r="2.35"/>
<circle cx="218.8" cy="231.3" r="2.35"/>
<circle cx="218.8" cy="228.1" r="2.35"/>
<circle cx="218.8" cy="225.3" r="2.35"/>
<circle cx="218.8" cy="226.7" r="2.35"/>
<circle cx="218.8" cy="229.0" r="2.35"/>
<circle cx="218.8" cy="225.7" r="2.35"/>
<circle cx="218.8" cy="231.1" r="2.35"/>
<circle cx="218.8" cy="225.5" r="2.35"/>
<circle cx="218.8" cy="229.5" r="2.35"/>
<circle cx="218.8" cy="230.3" r="2.35"/>
<circle cx="218.8" cy="227.0" r="2.35"/>
<circle cx="218.8" cy="230.5" r="2.35"/>
<circle cx="218.8" cy="230.8" r="2.35"/>
<circle cx="231.6" cy="222.7" r="2.35"/>
<circle cx="231.6" cy="233.0" r="2.35"/>
<circle cx="231.6" cy="229.0" r="2.35"/>
<circle cx="231.6" cy="230.5" r="2.35"/>
<circle cx="231.6" cy="223.8" r="2.35"/>
<circle cx="231.6" cy="230.8" r="2.35"/>
<circle cx="231.6" cy="226.3" r="2.35"/>
<circle cx="231.6" cy="229.3" r="2.35"/>
<circle cx="231.6" cy="228.0" r="2.35"/>
<circle cx="231.6" cy="228.8" r="2.35"/>
<circle cx="231.6" cy="227.1" r="2.35"/>
<circle cx="231.6" cy="225.2" r="2.35"/>
<circle cx="231.6" cy="229.7" r="2.35"/>
<circle cx="231.6" cy="232.0" r="2.35"/>
<circle cx="231.6" cy="231.6" r="2.35"/>
<circle cx="231.6" cy="226.1" r="2.35"/>
<circle cx="231.6" cy="226.4" r="2.35"/>
<circle cx="231.6" cy="231.9" r="2.35"/>
<circle cx="231.6" cy="224.1" r="2.35"/>
<circle cx="231.6" cy="225.7" r="2.35"/>
<circle cx="231.6" cy="225.4" r="2.35"/>
<circle cx="231.6" cy="224.1" r="2.35"/>
<circle cx="231.6" cy="227.0" r="2.35"/>
<circle cx="231.6" cy="228.2" r="2.35"/>
<circle cx="231.6" cy="224.3" r="2.35"/>
<circle cx="231.6" cy="224.6" r="2.35"/>
<circle cx="231.6" cy="228.5" r="2.35"/>
<circle cx="231.6" cy="228.7" r="2.35"/>
<circle cx="231.6" cy="223.4" r="2.35"/>
<circle cx="231.6" cy="229.8" r="2.35"/>
<circle cx="231.6" cy="232.1" r="2.35"/>
<circle cx="231.6" cy="229.5" r="2.35"/>
<circle cx="231.6" cy="229.2" r="2.35"/>
<circle cx="231.6" cy="226.2" r="2.35"/>
<circle cx="231.6" cy="228.6" r="2.35"/>
<circle cx="231.6" cy="223.3" r="2.35"/>
<circle cx="231.6" cy="229.6" r="2.35"/>
<circle cx="231.6" cy="229.3" r="2.35"/>
<circle cx="231.6" cy="231.2" r="2.35"/>
<circle cx="231.6" cy="228.7" r="2.35"/>
<circle cx="231.6" cy="223.0" r="2.35"/>
<circle cx="231.6" cy="232.4" r="2.35"/>
<circle cx="231.6" cy="229.5" r="2.35"/>
<circle cx="231.6" cy="227.7" r="2.35"/>
<circle cx="231.6" cy="228.9" r="2.35"/>
<circle cx="231.6" cy="225.4" r="2.35"/>
<circle cx="231.6" cy="232.6" r="2.35"/>
<circle cx="231.6" cy="227.3" r="2.35"/>
<circle cx="231.6" cy="225.4" r="2.35"/>
<circle cx="231.6" cy="231.5" r="2.35"/>
<circle cx="231.6" cy="229.2" r="2.35"/>
<circle cx="231.6" cy="227.2" r="2.35"/>
<circle cx="231.6" cy="223.7" r="2.35"/>
<circle cx="231.6" cy="232.6" r="2.35"/>
<circle cx="231.6" cy="226.7" r="2.35"/>
<circle cx="231.6" cy="230.9" r="2.35"/>
<circle cx="231.6" cy="231.7" r="2.35"/>
<circle cx="231.6" cy="230.3" r="2.35"/>
<circle cx="231.6" cy="226.5" r="2.35"/>
<circle cx="231.6" cy="227.5" r="2.35"/>
<circle cx="231.6" cy="232.7" r="2.35"/>
<circle cx="231.6" cy="227.4" r="2.35"/>
<circle cx="231.6" cy="228.9" r="2.35"/>
<circle cx="231.6" cy="228.9" r="2.35"/>
<circle cx="231.6" cy="230.1" r="2.35"/>
<circle cx="231.6" cy="225.4" r="2.35"/>
<circle cx="231.6" cy="229.8" r="2.35"/>
<circle cx="231.6" cy="226.3" r="2.35"/>
<circle cx="231.6" cy="228.3" r="2.35"/>
<circle cx="231.6" cy="225.9" r="2.35"/>
<circle cx="231.6" cy="226.7" r="2.35"/>
<circle cx="231.6" cy="222.7" r="2.35"/>
<circle cx="231.6" cy="226.0" r="2.35"/>
<circle cx="231.6" cy="229.3" r="2.35"/>
<circle cx="231.6" cy="226.5" r="2.35"/>
<circle cx="231.6" cy="227.6" r="2.35"/>
<circle cx="231.6" cy="232.4" r="2.35"/>
<circle cx="231.6" cy="226.7" r="2.35"/>
<circle cx="231.6" cy="224.4" r="2.35"/>
<circle cx="231.6" cy="226.0" r="2.35"/>
<circle cx="244.4" cy="221.3" r="2.35"/>
<circle cx="244.4" cy="232.1" r="2.35"/>
<circle cx="244.4" cy="227.1" r="2.35"/>
<circle cx="244.4" cy="222.1" r="2.35"/>
<circle cx="244.4" cy="229.9" r="2.35"/>
<circle cx="244.4" cy="229.1" r="2.35"/>
<circle cx="244.4" cy="226.6" r="2.35"/>
<circle cx="244.4" cy="226.1" r="2.35"/>
<circle cx="244.4" cy="224.8" r="2.35"/>
<circle cx="244.4" cy="223.5" r="2.35"/>
<circle cx="244.4" cy="227.8" r="2.35"/>
<circle cx="244.4" cy="226.7" r="2.35"/>
<circle cx="244.4" cy="230.2" r="2.35"/>
<circle cx="244.4" cy="231.5" r="2.35"/>
<circle cx="244.4" cy="222.0" r="2.35"/>
<circle cx="244.4" cy="228.8" r="2.35"/>
<circle cx="244.4" cy="228.5" r="2.35"/>
<circle cx="244.4" cy="225.3" r="2.35"/>
<circle cx="244.4" cy="227.6" r="2.35"/>
<circle cx="244.4" cy="227.0" r="2.35"/>
<circle cx="244.4" cy="226.7" r="2.35"/>
<circle cx="244.4" cy="225.4" r="2.35"/>
<circle cx="244.4" cy="228.3" r="2.35"/>
<circle cx="244.4" cy="224.8" r="2.35"/>
<circle cx="244.4" cy="229.1" r="2.35"/>
<circle cx="244.4" cy="221.7" r="2.35"/>
<circle cx="244.4" cy="223.8" r="2.35"/>
<circle cx="244.4" cy="228.4" r="2.35"/>
<circle cx="244.4" cy="224.4" r="2.35"/>
<circle cx="244.4" cy="227.1" r="2.35"/>
<circle cx="244.4" cy="229.7" r="2.35"/>
<circle cx="244.4" cy="225.4" r="2.35"/>
<circle cx="244.4" cy="227.8" r="2.35"/>
<circle cx="244.4" cy="228.3" r="2.35"/>
<circle cx="244.4" cy="227.6" r="2.35"/>
<circle cx="244.4" cy="222.4" r="2.35"/>
<circle cx="244.4" cy="226.6" r="2.35"/>
<circle cx="244.4" cy="227.4" r="2.35"/>
<circle cx="244.4" cy="223.3" r="2.35"/>
<circle cx="244.4" cy="222.3" r="2.35"/>
<circle cx="244.4" cy="223.0" r="2.35"/>
<circle cx="244.4" cy="231.7" r="2.35"/>
<circle cx="244.4" cy="230.2" r="2.35"/>
<circle cx="244.4" cy="226.4" r="2.35"/>
<circle cx="244.4" cy="223.5" r="2.35"/>
<circle cx="244.4" cy="227.8" r="2.35"/>
<circle cx="244.4" cy="226.0" r="2.35"/>
<circle cx="244.4" cy="222.4" r="2.35"/>
<circle cx="244.4" cy="225.8" r="2.35"/>
<circle cx="244.4" cy="226.8" r="2.35"/>
<circle cx="244.4" cy="228.2" r="2.35"/>
<circle cx="244.4" cy="226.8" r="2.35"/>
<circle cx="244.4" cy="226.0" r="2.35"/>
<circle cx="244.4" cy="223.5" r="2.35"/>
<circle cx="244.4" cy="228.5" r="2.35"/>
<circle cx="244.4" cy="228.9" r="2.35"/>
<circle cx="244.4" cy="222.7" r="2.35"/>
<circle cx="244.4" cy="223.5" r="2.35"/>
<circle cx="244.4" cy="221.7" r="2.35"/>
<circle cx="244.4" cy="228.4" r="2.35"/>
<circle cx="244.4" cy="230.0" r="2.35"/>
<circle cx="244.4" cy="226.3" r="2.35"/>
<circle cx="244.4" cy="228.0" r="2.35"/>
<circle cx="244.4" cy="221.9" r="2.35"/>
<circle cx="244.4" cy="226.6" r="2.35"/>
<circle cx="244.4" cy="226.2" r="2.35"/>
<circle cx="244.4" cy="230.7" r="2.35"/>
<circle cx="244.4" cy="228.2" r="2.35"/>
<circle cx="244.4" cy="223.7" r="2.35"/>
<circle cx="244.4" cy="227.6" r="2.35"/>
<circle cx="244.4" cy="229.2" r="2.35"/>
<circle cx="244.4" cy="228.6" r="2.35"/>
<circle cx="244.4" cy="230.5" r="2.35"/>
<circle cx="244.4" cy="227.6" r="2.35"/>
<circle cx="244.4" cy="226.7" r="2.35"/>
<circle cx="244.4" cy="230.5" r="2.35"/>
<circle cx="244.4" cy="226.1" r="2.35"/>
<circle cx="244.4" cy="229.7" r="2.35"/>
<circle cx="244.4" cy="223.3" r="2.35"/>
<circle cx="244.4" cy="226.2" r="2.35"/>
<circle cx="257.3" cy="221.8" r="2.35"/>
<circle cx="257.3" cy="232.1" r="2.35"/>
<circle cx="257.3" cy="228.7" r="2.35"/>
<circle cx="257.3" cy="230.1" r="2.35"/>
<circle cx="257.3" cy="227.3" r="2.35"/>
<circle cx="257.3" cy="227.5" r="2.35"/>
<circle cx="257.3" cy="224.6" r="2.35"/>
<circle cx="257.3" cy="223.0" r="2.35"/>
<circle cx="257.3" cy="225.5" r="2.35"/>
<circle cx="257.3" cy="229.6" r="2.35"/>
<circle cx="257.3" cy="231.8" r="2.35"/>
<circle cx="257.3" cy="223.8" r="2.35"/>
<circle cx="257.3" cy="224.8" r="2.35"/>
<circle cx="257.3" cy="231.5" r="2.35"/>
<circle cx="257.3" cy="226.3" r="2.35"/>
<circle cx="257.3" cy="230.4" r="2.35"/>
<circle cx="257.3" cy="229.7" r="2.35"/>
<circle cx="257.3" cy="223.5" r="2.35"/>
<circle cx="257.3" cy="226.1" r="2.35"/>
<circle cx="257.3" cy="225.9" r="2.35"/>
<circle cx="257.3" cy="229.6" r="2.35"/>
<circle cx="257.3" cy="225.8" r="2.35"/>
<circle cx="257.3" cy="225.8" r="2.35"/>
<circle cx="257.3" cy="228.9" r="2.35"/>
<circle cx="257.3" cy="225.7" r="2.35"/>
<circle cx="257.3" cy="228.9" r="2.35"/>
<circle cx="257.3" cy="227.3" r="2.35"/>
<circle cx="257.3" cy="230.4" r="2.35"/>
<circle cx="257.3" cy="225.3" r="2.35"/>
<circle cx="257.3" cy="227.6" r="2.35"/>
<circle cx="257.3" cy="227.7" r="2.35"/>
<circle cx="257.3" cy="228.6" r="2.35"/>
<circle cx="257.3" cy="222.7" r="2.35"/>
<circle cx="257.3" cy="222.2" r="2.35"/>
<circle cx="257.3" cy="226.8" r="2.35"/>
<circle cx="257.3" cy="225.4" r="2.35"/>
<circle cx="257.3" cy="223.7" r="2.35"/>
<circle cx="257.3" cy="224.8" r="2.35"/>
<circle cx="257.3" cy="230.1" r="2.35"/>
<circle cx="257.3" cy="228.1" r="2.35"/>
<circle cx="257.3" cy="226.0" r="2.35"/>
<circle cx="257.3" cy="228.8" r="2.35"/>
<circle cx="257.3" cy="226.3" r="2.35"/>
<circle cx="257.3" cy="227.5" r="2.35"/>
<circle cx="257.3" cy="228.9" r="2.35"/>
<circle cx="257.3" cy="228.7" r="2.35"/>
<circle cx="257.3" cy="229.2" r="2.35"/>
<circle cx="257.3" cy="229.6" r="2.35"/>
<circle cx="257.3" cy="226.5" r="2.35"/>
<circle cx="257.3" cy="228.8" r="2.35"/>
<circle cx="257.3" cy="230.9" r="2.35"/>
<circle cx="257.3" cy="228.0" r="2.35"/>
<circle cx="257.3" cy="230.4" r="2.35"/>
<circle cx="257.3" cy="226.2" r="2.35"/>
<circle cx="257.3" cy="227.3" r="2.35"/>
<circle cx="257.3" cy="226.8" r="2.35"/>
<circle cx="257.3" cy="230.3" r="2.35"/>
<circle cx="257.3" cy="226.1" r="2.35"/>
<circle cx="257.3" cy="223.1" r="2.35"/>
<circle cx="257.3" cy="222.4" r="2.35"/>
<circle cx="257.3" cy="226.8" r="2.35"/>
<circle cx="257.3" cy="226.2" r="2.35"/>
<circle cx="257.3" cy="226.3" r="2.35"/>
<circle cx="257.3" cy="223.2" r="2.35"/>
<circle cx="257.3" cy="229.2" r="2.35"/>
<circle cx="257.3" cy="227.5" r="2.35"/>
<circle cx="257.3" cy="223.2" r="2.35"/>
<circle cx="257.3" cy="225.5" r="2.35"/>
<circle cx="257.3" cy="222.0" r="2.35"/>
<circle cx="257.3" cy="228.7" r="2.35"/>
<circle cx="257.3" cy="231.1" r="2.35"/>
<circle cx="257.3" cy="227.1" r="2.35"/>
<circle cx="257.3" cy="227.1" r="2.35"/>
<circle cx="257.3" cy="229.0" r="2.35"/>
<circle cx="257.3" cy="227.3" r="2.35"/>
<circle cx="257.3" cy="226.9" r="2.35"/>
<circle cx="257.3" cy="222.2" r="2.35"/>
<circle cx="257.3" cy="227.2" r="2.35"/>
<circle cx="257.3" cy="227.7" r="2.35"/>
<circle cx="257.3" cy="224.4" r="2.35"/>
<circle cx="270.1" cy="219.7" r="2.35"/>
<circle cx="270.1" cy="231.3" r="2.35"/>
<circle cx="270.1" cy="221.2" r="2.35"/>
<circle cx="270.1" cy="225.6" r="2.35"/>
<circle cx="270.1" cy="227.3" r="2.35"/>
<circle cx="270.1" cy="222.4" r="2.35"/>
<circle cx="270.1" cy="229.1" r="2.35"/>
<circle cx="270.1" cy="224.2" r="2.35"/>
<circle cx="270.1" cy="227.1" r="2.35"/>
<circle cx="270.1" cy="223.3" r="2.35"/>
<circle cx="270.1" cy="225.5" r="2.35"/>
<circle cx="270.1" cy="224.3" r="2.35"/>
<circle cx="270.1" cy="224.1" r="2.35"/>
<circle cx="270.1" cy="227.2" r="2.35"/>
<circle cx="270.1" cy="227.0" r="2.35"/>
<circle cx="270.1" cy="222.6" r="2.35"/>
<circle cx="270.1" cy="229.2" r="2.35"/>
<circle cx="270.1" cy="230.5" r="2.35"/>
<circle cx="270.1" cy="228.6" r="2.35"/>
<circle cx="270.1" cy="226.0" r="2.35"/>
<circle cx="270.1" cy="224.7" r="2.35"/>
<circle cx="270.1" cy="221.0" r="2.35"/>
<circle cx="270.1" cy="225.5" r="2.35"/>
<circle cx="270.1" cy="228.0" r="2.35"/>
<circle cx="270.1" cy="223.2" r="2.35"/>
<circle cx="270.1" cy="220.0" r="2.35"/>
<circle cx="270.1" cy="226.9" r="2.35"/>
<circle cx="270.1" cy="225.7" r="2.35"/>
<circle cx="270.1" cy="222.9" r="2.35"/>
<circle cx="270.1" cy="222.1" r="2.35"/>
<circle cx="270.1" cy="224.3" r="2.35"/>
<circle cx="270.1" cy="227.9" r="2.35"/>
<circle cx="270.1" cy="229.3" r="2.35"/>
<circle cx="270.1" cy="219.8" r="2.35"/>
<circle cx="270.1" cy="225.4" r="2.35"/>
<circle cx="270.1" cy="222.7" r="2.35"/>
<circle cx="270.1" cy="228.5" r="2.35"/>
<circle cx="270.1" cy="223.4" r="2.35"/>
<circle cx="270.1" cy="224.4" r="2.35"/>
<circle cx="270.1" cy="227.8" r="2.35"/>
<circle cx="270.1" cy="225.7" r="2.35"/>
<circle cx="270.1" cy="228.5" r="2.35"/>
<circle cx="270.1" cy="223.2" r="2.35"/>
<circle cx="270.1" cy="227.0" r="2.35"/>
<circle cx="270.1" cy="223.3" r="2.35"/>
<circle cx="270.1" cy="227.4" r="2.35"/>
<circle cx="270.1" cy="228.4" r="2.35"/>
<circle cx="270.1" cy="222.9" r="2.35"/>
<circle cx="270.1" cy="230.5" r="2.35"/>
<circle cx="270.1" cy="227.7" r="2.35"/>
<circle cx="270.1" cy="229.0" r="2.35"/>
<circle cx="270.1" cy="230.2" r="2.35"/>
<circle cx="270.1" cy="225.2" r="2.35"/>
<circle cx="270.1" cy="223.4" r="2.35"/>
<circle cx="270.1" cy="227.6" r="2.35"/>
<circle cx="270.1" cy="225.0" r="2.35"/>
<circle cx="270.1" cy="227.6" r="2.35"/>
<circle cx="270.1" cy="222.7" r="2.35"/>
<circle cx="270.1" cy="226.7" r="2.35"/>
<circle cx="270.1" cy="224.1" r="2.35"/>
<circle cx="270.1" cy="223.8" r="2.35"/>
<circle cx="270.1" cy="226.7" r="2.35"/>
<circle cx="270.1" cy="229.9" r="2.35"/>
<circle cx="270.1" cy="230.1" r="2.35"/>
<circle cx="270.1" cy="226.5" r="2.35"/>
<circle cx="270.1" cy="227.3" r="2.35"/>
<circle cx="270.1" cy="225.5" r="2.35"/>
<circle cx="270.1" cy="223.0" r="2.35"/>
<circle cx="270.1" cy="226.1" r="2.35"/>
<circle cx="270.1" cy="221.7" r="2.35"/>
<circle cx="270.1" cy="222.6" r="2.35"/>
<circle cx="270.1" cy="224.9" r="2.35"/>
<circle cx="270.1" cy="220.0" r="2.35"/>
<circle cx="270.1" cy="228.1" r="2.35"/>
<circle cx="270.1" cy="225.5" r="2.35"/>
<circle cx="270.1" cy="220.6" r="2.35"/>
<circle cx="270.1" cy="226.5" r="2.35"/>
<circle cx="270.1" cy="220.0" r="2.35"/>
<circle cx="270.1" cy="222.7" r="2.35"/>
<circle cx="270.1" cy="222.7" r="2.35"/>
<circle cx="270.1" cy="235.5" r="2.35"/>
<circle cx="283.0" cy="223.2" r="2.35"/>
<circle cx="283.0" cy="232.1" r="2.35"/>
<circle cx="283.0" cy="224.7" r="2.35"/>
<circle cx="283.0" cy="228.5" r="2.35"/>
<circle cx="283.0" cy="226.5" r="2.35"/>
<circle cx="283.0" cy="226.5" r="2.35"/>
<circle cx="283.0" cy="230.7" r="2.35"/>
<circle cx="283.0" cy="226.5" r="2.35"/>
<circle cx="283.0" cy="227.6" r="2.35"/>
<circle cx="283.0" cy="231.4" r="2.35"/>
<circle cx="283.0" cy="229.0" r="2.35"/>
<circle cx="283.0" cy="230.5" r="2.35"/>
<circle cx="283.0" cy="229.7" r="2.35"/>
<circle cx="283.0" cy="226.7" r="2.35"/>
<circle cx="283.0" cy="224.2" r="2.35"/>
<circle cx="283.0" cy="224.5" r="2.35"/>
<circle cx="283.0" cy="230.3" r="2.35"/>
<circle cx="283.0" cy="228.6" r="2.35"/>
<circle cx="283.0" cy="227.5" r="2.35"/>
<circle cx="283.0" cy="225.6" r="2.35"/>
<circle cx="283.0" cy="227.1" r="2.35"/>
<circle cx="283.0" cy="229.3" r="2.35"/>
<circle cx="283.0" cy="226.0" r="2.35"/>
<circle cx="283.0" cy="227.5" r="2.35"/>
<circle cx="283.0" cy="223.7" r="2.35"/>
<circle cx="283.0" cy="225.6" r="2.35"/>
<circle cx="283.0" cy="226.8" r="2.35"/>
<circle cx="283.0" cy="223.5" r="2.35"/>
<circle cx="283.0" cy="223.4" r="2.35"/>
<circle cx="283.0" cy="224.0" r="2.35"/>
<circle cx="283.0" cy="227.2" r="2.35"/>
<circle cx="283.0" cy="230.0" r="2.35"/>
<circle cx="283.0" cy="226.9" r="2.35"/>
<circle cx="283.0" cy="226.2" r="2.35"/>
<circle cx="283.0" cy="224.4" r="2.35"/>
<circle cx="283.0" cy="227.8" r="2.35"/>
<circle cx="283.0" cy="225.8" r="2.35"/>
<circle cx="283.0" cy="231.0" r="2.35"/>
<circle cx="283.0" cy="227.3" r="2.35"/>
<circle cx="283.0" cy="230.3" r="2.35"/>
<circle cx="283.0" cy="228.6" r="2.35"/>
<circle cx="283.0" cy="227.2" r="2.35"/>
<circle cx="283.0" cy="228.0" r="2.35"/>
<circle cx="283.0" cy="224.4" r="2.35"/>
<circle cx="283.0" cy="229.5" r="2.35"/>
<circle cx="283.0" cy="226.6" r="2.35"/>
<circle cx="283.0" cy="224.5" r="2.35"/>
<circle cx="283.0" cy="227.4" r="2.35"/>
<circle cx="283.0" cy="230.2" r="2.35"/>
<circle cx="283.0" cy="227.2" r="2.35"/>
<circle cx="283.0" cy="225.2" r="2.35"/>
<circle cx="283.0" cy="227.2" r="2.35"/>
<circle cx="283.0" cy="228.8" r="2.35"/>
<circle cx="283.0" cy="224.3" r="2.35"/>
<circle cx="283.0" cy="228.1" r="2.35"/>
<circle cx="283.0" cy="229.5" r="2.35"/>
<circle cx="283.0" cy="228.7" r="2.35"/>
<circle cx="283.0" cy="225.0" r="2.35"/>
<circle cx="283.0" cy="224.7" r="2.35"/>
<circle cx="283.0" cy="225.3" r="2.35"/>
<circle cx="283.0" cy="226.7" r="2.35"/>
<circle cx="283.0" cy="230.9" r="2.35"/>
<circle cx="283.0" cy="226.9" r="2.35"/>
<circle cx="283.0" cy="223.4" r="2.35"/>
<circle cx="283.0" cy="229.3" r="2.35"/>
<circle cx="283.0" cy="224.0" r="2.35"/>
<circle cx="283.0" cy="226.4" r="2.35"/>
<circle cx="283.0" cy="232.0" r="2.35"/>
<circle cx="283.0" cy="223.4" r="2.35"/>
<circle cx="283.0" cy="227.3" r="2.35"/>
<circle cx="283.0" cy="231.1" r="2.35"/>
<circle cx="283.0" cy="227.6" r="2.35"/>
<circle cx="283.0" cy="235.6" r="2.35"/>
<circle cx="283.0" cy="237.0" r="2.35"/>
<circle cx="295.9" cy="225.1" r="2.35"/>
<circle cx="295.9" cy="235.1" r="2.35"/>
<circle cx="295.9" cy="234.3" r="2.35"/>
<circle cx="295.9" cy="230.2" r="2.35"/>
<circle cx="295.9" cy="230.4" r="2.35"/>
<circle cx="295.9" cy="229.5" r="2.35"/>
<circle cx="295.9" cy="226.9" r="2.35"/>
<circle cx="295.9" cy="230.2" r="2.35"/>
<circle cx="295.9" cy="233.5" r="2.35"/>
<circle cx="295.9" cy="225.9" r="2.35"/>
<circle cx="295.9" cy="230.6" r="2.35"/>
<circle cx="295.9" cy="226.3" r="2.35"/>
<circle cx="295.9" cy="225.6" r="2.35"/>
<circle cx="295.9" cy="230.9" r="2.35"/>
<circle cx="295.9" cy="229.0" r="2.35"/>
<circle cx="295.9" cy="234.2" r="2.35"/>
<circle cx="295.9" cy="230.6" r="2.35"/>
<circle cx="295.9" cy="227.9" r="2.35"/>
<circle cx="295.9" cy="232.9" r="2.35"/>
<circle cx="295.9" cy="225.2" r="2.35"/>
<circle cx="295.9" cy="230.7" r="2.35"/>
<circle cx="295.9" cy="230.2" r="2.35"/>
<circle cx="295.9" cy="228.4" r="2.35"/>
<circle cx="295.9" cy="230.1" r="2.35"/>
<circle cx="295.9" cy="232.0" r="2.35"/>
<circle cx="295.9" cy="231.9" r="2.35"/>
<circle cx="295.9" cy="232.4" r="2.35"/>
<circle cx="295.9" cy="230.7" r="2.35"/>
<circle cx="295.9" cy="226.5" r="2.35"/>
<circle cx="295.9" cy="235.1" r="2.35"/>
<circle cx="295.9" cy="230.7" r="2.35"/>
<circle cx="295.9" cy="227.8" r="2.35"/>
<circle cx="295.9" cy="234.3" r="2.35"/>
<circle cx="295.9" cy="226.6" r="2.35"/>
<circle cx="295.9" cy="231.3" r="2.35"/>
<circle cx="295.9" cy="225.7" r="2.35"/>
<circle cx="295.9" cy="231.5" r="2.35"/>
<circle cx="295.9" cy="227.8" r="2.35"/>
<circle cx="295.9" cy="228.4" r="2.35"/>
<circle cx="295.9" cy="225.5" r="2.35"/>
<circle cx="295.9" cy="229.9" r="2.35"/>
<circle cx="295.9" cy="225.8" r="2.35"/>
<circle cx="295.9" cy="233.9" r="2.35"/>
<circle cx="295.9" cy="226.7" r="2.35"/>
<circle cx="295.9" cy="229.8" r="2.35"/>
<circle cx="295.9" cy="233.0" r="2.35"/>
<circle cx="295.9" cy="233.1" r="2.35"/>
<circle cx="295.9" cy="233.7" r="2.35"/>
<circle cx="295.9" cy="234.3" r="2.35"/>
<circle cx="295.9" cy="231.7" r="2.35"/>
<circle cx="295.9" cy="233.0" r="2.35"/>
<circle cx="295.9" cy="233.8" r="2.35"/>
<circle cx="295.9" cy="225.1" r="2.35"/>
<circle cx="295.9" cy="230.2" r="2.35"/>
<circle cx="295.9" cy="230.4" r="2.35"/>
<circle cx="295.9" cy="229.8" r="2.35"/>
<circle cx="295.9" cy="232.5" r="2.35"/>
<circle cx="295.9" cy="226.3" r="2.35"/>
<circle cx="295.9" cy="227.8" r="2.35"/>
<circle cx="295.9" cy="232.2" r="2.35"/>
<circle cx="295.9" cy="226.8" r="2.35"/>
<circle cx="295.9" cy="235.1" r="2.35"/>
<circle cx="295.9" cy="232.7" r="2.35"/>
<circle cx="295.9" cy="229.5" r="2.35"/>
<circle cx="295.9" cy="229.4" r="2.35"/>
<circle cx="295.9" cy="225.4" r="2.35"/>
<circle cx="295.9" cy="226.2" r="2.35"/>
<circle cx="295.9" cy="233.4" r="2.35"/>
<circle cx="295.9" cy="228.6" r="2.35"/>
<circle cx="295.9" cy="234.9" r="2.35"/>
<circle cx="295.9" cy="229.6" r="2.35"/>
<circle cx="295.9" cy="230.9" r="2.35"/>
<circle cx="295.9" cy="231.4" r="2.35"/>
<circle cx="295.9" cy="227.5" r="2.35"/>
<circle cx="295.9" cy="227.5" r="2.35"/>
<circle cx="295.9" cy="232.6" r="2.35"/>
<circle cx="295.9" cy="227.2" r="2.35"/>
<circle cx="295.9" cy="225.3" r="2.35"/>
<circle cx="295.9" cy="230.9" r="2.35"/>
<circle cx="295.9" cy="230.5" r="2.35"/>
<circle cx="308.7" cy="226.6" r="2.35"/>
<circle cx="308.7" cy="237.5" r="2.35"/>
<circle cx="308.7" cy="229.1" r="2.35"/>
<circle cx="308.7" cy="227.9" r="2.35"/>
<circle cx="308.7" cy="233.9" r="2.35"/>
<circle cx="308.7" cy="229.3" r="2.35"/>
<circle cx="308.7" cy="229.9" r="2.35"/>
<circle cx="308.7" cy="227.8" r="2.35"/>
<circle cx="308.7" cy="235.0" r="2.35"/>
<circle cx="308.7" cy="231.3" r="2.35"/>
<circle cx="308.7" cy="237.2" r="2.35"/>
<circle cx="308.7" cy="231.1" r="2.35"/>
<circle cx="308.7" cy="233.1" r="2.35"/>
<circle cx="308.7" cy="228.3" r="2.35"/>
<circle cx="308.7" cy="230.5" r="2.35"/>
<circle cx="308.7" cy="235.4" r="2.35"/>
<circle cx="308.7" cy="226.8" r="2.35"/>
<circle cx="308.7" cy="228.9" r="2.35"/>
<circle cx="308.7" cy="232.3" r="2.35"/>
<circle cx="308.7" cy="230.8" r="2.35"/>
<circle cx="308.7" cy="230.5" r="2.35"/>
<circle cx="308.7" cy="230.7" r="2.35"/>
<circle cx="308.7" cy="231.7" r="2.35"/>
<circle cx="308.7" cy="231.9" r="2.35"/>
<circle cx="308.7" cy="232.5" r="2.35"/>
<circle cx="308.7" cy="235.7" r="2.35"/>
<circle cx="308.7" cy="227.1" r="2.35"/>
<circle cx="308.7" cy="228.0" r="2.35"/>
<circle cx="308.7" cy="234.4" r="2.35"/>
<circle cx="308.7" cy="227.4" r="2.35"/>
<circle cx="308.7" cy="228.2" r="2.35"/>
<circle cx="308.7" cy="227.3" r="2.35"/>
<circle cx="308.7" cy="227.2" r="2.35"/>
<circle cx="308.7" cy="226.6" r="2.35"/>
<circle cx="308.7" cy="228.3" r="2.35"/>
<circle cx="308.7" cy="233.6" r="2.35"/>
<circle cx="308.7" cy="234.0" r="2.35"/>
<circle cx="308.7" cy="234.3" r="2.35"/>
<circle cx="308.7" cy="233.7" r="2.35"/>
<circle cx="308.7" cy="233.8" r="2.35"/>
<circle cx="308.7" cy="228.8" r="2.35"/>
<circle cx="308.7" cy="233.3" r="2.35"/>
<circle cx="308.7" cy="231.9" r="2.35"/>
<circle cx="308.7" cy="235.7" r="2.35"/>
<circle cx="308.7" cy="228.7" r="2.35"/>
<circle cx="308.7" cy="233.9" r="2.35"/>
<circle cx="308.7" cy="234.7" r="2.35"/>
<circle cx="308.7" cy="233.4" r="2.35"/>
<circle cx="308.7" cy="231.5" r="2.35"/>
<circle cx="308.7" cy="230.9" r="2.35"/>
<circle cx="308.7" cy="231.5" r="2.35"/>
<circle cx="308.7" cy="237.5" r="2.35"/>
<circle cx="308.7" cy="227.6" r="2.35"/>
<circle cx="308.7" cy="231.4" r="2.35"/>
<circle cx="308.7" cy="232.3" r="2.35"/>
<circle cx="308.7" cy="227.6" r="2.35"/>
<circle cx="308.7" cy="235.9" r="2.35"/>
<circle cx="308.7" cy="227.4" r="2.35"/>
<circle cx="308.7" cy="227.6" r="2.35"/>
<circle cx="308.7" cy="232.7" r="2.35"/>
<circle cx="308.7" cy="237.1" r="2.35"/>
<circle cx="308.7" cy="235.8" r="2.35"/>
<circle cx="308.7" cy="232.6" r="2.35"/>
<circle cx="308.7" cy="234.5" r="2.35"/>
<circle cx="308.7" cy="232.5" r="2.35"/>
<circle cx="308.7" cy="232.1" r="2.35"/>
<circle cx="308.7" cy="231.2" r="2.35"/>
<circle cx="308.7" cy="230.0" r="2.35"/>
<circle cx="308.7" cy="233.9" r="2.35"/>
<circle cx="308.7" cy="231.7" r="2.35"/>
<circle cx="308.7" cy="233.6" r="2.35"/>
<circle cx="308.7" cy="230.4" r="2.35"/>
<circle cx="308.7" cy="232.8" r="2.35"/>
<circle cx="308.7" cy="232.4" r="2.35"/>
<circle cx="308.7" cy="232.6" r="2.35"/>
<circle cx="308.7" cy="233.3" r="2.35"/>
<circle cx="308.7" cy="233.1" r="2.35"/>
<circle cx="308.7" cy="236.4" r="2.35"/>
<circle cx="308.7" cy="237.3" r="2.35"/>
<circle cx="308.7" cy="235.2" r="2.35"/>
<circle cx="321.5" cy="176.6" r="2.35"/>
<circle cx="321.5" cy="197.6" r="2.35"/>
<circle cx="321.5" cy="195.4" r="2.35"/>
<circle cx="321.5" cy="193.9" r="2.35"/>
<circle cx="321.5" cy="193.0" r="2.35"/>
<circle cx="321.5" cy="183.7" r="2.35"/>
<circle cx="321.5" cy="183.9" r="2.35"/>
<circle cx="321.5" cy="183.2" r="2.35"/>
<circle cx="321.5" cy="184.9" r="2.35"/>
<circle cx="321.5" cy="185.1" r="2.35"/>
<circle cx="321.5" cy="181.9" r="2.35"/>
<circle cx="321.5" cy="180.5" r="2.35"/>
<circle cx="321.5" cy="190.1" r="2.35"/>
<circle cx="321.5" cy="182.0" r="2.35"/>
<circle cx="321.5" cy="184.3" r="2.35"/>
<circle cx="321.5" cy="178.8" r="2.35"/>
<circle cx="321.5" cy="189.9" r="2.35"/>
<circle cx="321.5" cy="187.5" r="2.35"/>
<circle cx="321.5" cy="190.7" r="2.35"/>
<circle cx="321.5" cy="178.5" r="2.35"/>
<circle cx="321.5" cy="190.6" r="2.35"/>
<circle cx="321.5" cy="179.8" r="2.35"/>
<circle cx="321.5" cy="179.6" r="2.35"/>
<circle cx="321.5" cy="191.0" r="2.35"/>
<circle cx="321.5" cy="180.5" r="2.35"/>
<circle cx="321.5" cy="179.5" r="2.35"/>
<circle cx="321.5" cy="182.1" r="2.35"/>
<circle cx="321.5" cy="190.1" r="2.35"/>
<circle cx="321.5" cy="180.8" r="2.35"/>
<circle cx="321.5" cy="180.1" r="2.35"/>
<circle cx="321.5" cy="191.2" r="2.35"/>
<circle cx="321.5" cy="182.5" r="2.35"/>
<circle cx="321.5" cy="180.0" r="2.35"/>
<circle cx="321.5" cy="181.0" r="2.35"/>
<circle cx="321.5" cy="189.5" r="2.35"/>
<circle cx="321.5" cy="177.6" r="2.35"/>
<circle cx="321.5" cy="190.5" r="2.35"/>
<circle cx="321.5" cy="185.8" r="2.35"/>
<circle cx="321.5" cy="179.5" r="2.35"/>
<circle cx="321.5" cy="188.8" r="2.35"/>
<circle cx="321.5" cy="184.1" r="2.35"/>
<circle cx="321.5" cy="177.1" r="2.35"/>
<circle cx="321.5" cy="187.8" r="2.35"/>
<circle cx="321.5" cy="189.2" r="2.35"/>
<circle cx="321.5" cy="187.1" r="2.35"/>
<circle cx="321.5" cy="188.7" r="2.35"/>
<circle cx="321.5" cy="179.8" r="2.35"/>
<circle cx="321.5" cy="182.0" r="2.35"/>
<circle cx="321.5" cy="190.6" r="2.35"/>
<circle cx="321.5" cy="178.8" r="2.35"/>
<circle cx="321.5" cy="182.7" r="2.35"/>
<circle cx="321.5" cy="186.2" r="2.35"/>
<circle cx="321.5" cy="180.6" r="2.35"/>
<circle cx="321.5" cy="187.2" r="2.35"/>
<circle cx="321.5" cy="188.1" r="2.35"/>
<circle cx="321.5" cy="182.3" r="2.35"/>
<circle cx="321.5" cy="177.0" r="2.35"/>
<circle cx="321.5" cy="178.5" r="2.35"/>
<circle cx="321.5" cy="180.1" r="2.35"/>
<circle cx="321.5" cy="185.0" r="2.35"/>
<circle cx="321.5" cy="183.8" r="2.35"/>
<circle cx="321.5" cy="185.8" r="2.35"/>
<circle cx="321.5" cy="177.7" r="2.35"/>
<circle cx="321.5" cy="189.8" r="2.35"/>
<circle cx="321.5" cy="184.7" r="2.35"/>
<circle cx="321.5" cy="179.8" r="2.35"/>
<circle cx="321.5" cy="178.0" r="2.35"/>
<circle cx="321.5" cy="189.6" r="2.35"/>
<circle cx="321.5" cy="179.3" r="2.35"/>
<circle cx="321.5" cy="185.3" r="2.35"/>
<circle cx="321.5" cy="185.6" r="2.35"/>
<circle cx="321.5" cy="187.7" r="2.35"/>
<circle cx="321.5" cy="188.0" r="2.35"/>
<circle cx="321.5" cy="172.3" r="2.35"/>
<circle cx="321.5" cy="208.4" r="2.35"/>
<circle cx="334.4" cy="192.9" r="2.35"/>
<circle cx="334.4" cy="215.0" r="2.35"/>
<circle cx="334.4" cy="195.2" r="2.35"/>
<circle cx="334.4" cy="212.7" r="2.35"/>
<circle cx="334.4" cy="211.3" r="2.35"/>
<circle cx="334.4" cy="210.1" r="2.35"/>
<circle cx="334.4" cy="203.4" r="2.35"/>
<circle cx="334.4" cy="203.7" r="2.35"/>
<circle cx="334.4" cy="207.5" r="2.35"/>
<circle cx="334.4" cy="202.4" r="2.35"/>
<circle cx="334.4" cy="208.3" r="2.35"/>
<circle cx="334.4" cy="207.0" r="2.35"/>
<circle cx="334.4" cy="203.2" r="2.35"/>
<circle cx="334.4" cy="199.5" r="2.35"/>
<circle cx="334.4" cy="198.5" r="2.35"/>
<circle cx="334.4" cy="199.7" r="2.35"/>
<circle cx="334.4" cy="201.4" r="2.35"/>
<circle cx="334.4" cy="202.3" r="2.35"/>
<circle cx="334.4" cy="205.8" r="2.35"/>
<circle cx="334.4" cy="206.5" r="2.35"/>
<circle cx="334.4" cy="197.9" r="2.35"/>
<circle cx="334.4" cy="198.7" r="2.35"/>
<circle cx="334.4" cy="200.8" r="2.35"/>
<circle cx="334.4" cy="203.5" r="2.35"/>
<circle cx="334.4" cy="197.0" r="2.35"/>
<circle cx="334.4" cy="199.5" r="2.35"/>
<circle cx="334.4" cy="208.1" r="2.35"/>
<circle cx="334.4" cy="202.4" r="2.35"/>
<circle cx="334.4" cy="203.9" r="2.35"/>
<circle cx="334.4" cy="203.5" r="2.35"/>
<circle cx="334.4" cy="205.6" r="2.35"/>
<circle cx="334.4" cy="203.9" r="2.35"/>
<circle cx="334.4" cy="203.3" r="2.35"/>
<circle cx="334.4" cy="198.7" r="2.35"/>
<circle cx="334.4" cy="205.7" r="2.35"/>
<circle cx="334.4" cy="204.1" r="2.35"/>
<circle cx="334.4" cy="201.4" r="2.35"/>
<circle cx="334.4" cy="198.1" r="2.35"/>
<circle cx="334.4" cy="199.4" r="2.35"/>
<circle cx="334.4" cy="202.1" r="2.35"/>
<circle cx="334.4" cy="199.9" r="2.35"/>
<circle cx="334.4" cy="197.9" r="2.35"/>
<circle cx="334.4" cy="199.5" r="2.35"/>
<circle cx="334.4" cy="203.4" r="2.35"/>
<circle cx="334.4" cy="199.0" r="2.35"/>
<circle cx="334.4" cy="202.7" r="2.35"/>
<circle cx="334.4" cy="203.9" r="2.35"/>
<circle cx="334.4" cy="202.3" r="2.35"/>
<circle cx="334.4" cy="207.3" r="2.35"/>
<circle cx="334.4" cy="195.9" r="2.35"/>
<circle cx="334.4" cy="203.3" r="2.35"/>
<circle cx="334.4" cy="201.1" r="2.35"/>
<circle cx="334.4" cy="204.3" r="2.35"/>
<circle cx="334.4" cy="205.2" r="2.35"/>
<circle cx="334.4" cy="203.5" r="2.35"/>
<circle cx="334.4" cy="202.8" r="2.35"/>
<circle cx="334.4" cy="200.5" r="2.35"/>
<circle cx="334.4" cy="198.5" r="2.35"/>
<circle cx="334.4" cy="197.7" r="2.35"/>
<circle cx="334.4" cy="206.1" r="2.35"/>
<circle cx="334.4" cy="205.3" r="2.35"/>
<circle cx="334.4" cy="202.3" r="2.35"/>
<circle cx="334.4" cy="205.1" r="2.35"/>
<circle cx="334.4" cy="221.3" r="2.35"/>
<circle cx="347.2" cy="204.1" r="2.35"/>
<circle cx="347.2" cy="222.1" r="2.35"/>
<circle cx="347.2" cy="219.7" r="2.35"/>
<circle cx="347.2" cy="218.2" r="2.35"/>
<circle cx="347.2" cy="210.8" r="2.35"/>
<circle cx="347.2" cy="213.5" r="2.35"/>
<circle cx="347.2" cy="210.2" r="2.35"/>
<circle cx="347.2" cy="209.9" r="2.35"/>
<circle cx="347.2" cy="209.9" r="2.35"/>
<circle cx="347.2" cy="207.2" r="2.35"/>
<circle cx="347.2" cy="213.3" r="2.35"/>
<circle cx="347.2" cy="212.8" r="2.35"/>
<circle cx="347.2" cy="214.2" r="2.35"/>
<circle cx="347.2" cy="215.0" r="2.35"/>
<circle cx="347.2" cy="214.6" r="2.35"/>
<circle cx="347.2" cy="204.5" r="2.35"/>
<circle cx="347.2" cy="206.1" r="2.35"/>
<circle cx="347.2" cy="212.0" r="2.35"/>
<circle cx="347.2" cy="213.2" r="2.35"/>
<circle cx="347.2" cy="205.3" r="2.35"/>
<circle cx="347.2" cy="208.6" r="2.35"/>
<circle cx="347.2" cy="208.5" r="2.35"/>
<circle cx="347.2" cy="210.9" r="2.35"/>
<circle cx="347.2" cy="212.3" r="2.35"/>
<circle cx="347.2" cy="209.1" r="2.35"/>
<circle cx="347.2" cy="204.2" r="2.35"/>
<circle cx="347.2" cy="217.1" r="2.35"/>
<circle cx="347.2" cy="210.0" r="2.35"/>
<circle cx="347.2" cy="215.9" r="2.35"/>
<circle cx="347.2" cy="212.9" r="2.35"/>
<circle cx="347.2" cy="214.0" r="2.35"/>
<circle cx="347.2" cy="213.1" r="2.35"/>
<circle cx="347.2" cy="206.6" r="2.35"/>
<circle cx="347.2" cy="213.6" r="2.35"/>
<circle cx="347.2" cy="215.9" r="2.35"/>
<circle cx="347.2" cy="205.9" r="2.35"/>
<circle cx="347.2" cy="214.5" r="2.35"/>
<circle cx="347.2" cy="208.8" r="2.35"/>
<circle cx="347.2" cy="207.5" r="2.35"/>
<circle cx="347.2" cy="206.4" r="2.35"/>
<circle cx="347.2" cy="211.2" r="2.35"/>
<circle cx="347.2" cy="210.4" r="2.35"/>
<circle cx="347.2" cy="214.1" r="2.35"/>
<circle cx="347.2" cy="210.5" r="2.35"/>
<circle cx="347.2" cy="214.1" r="2.35"/>
<circle cx="347.2" cy="213.1" r="2.35"/>
<circle cx="347.2" cy="212.0" r="2.35"/>
<circle cx="347.2" cy="209.5" r="2.35"/>
<circle cx="347.2" cy="210.0" r="2.35"/>
<circle cx="347.2" cy="206.3" r="2.35"/>
<circle cx="347.2" cy="211.5" r="2.35"/>
<circle cx="347.2" cy="210.5" r="2.35"/>
<circle cx="347.2" cy="212.3" r="2.35"/>
<circle cx="347.2" cy="206.2" r="2.35"/>
<circle cx="347.2" cy="210.8" r="2.35"/>
<circle cx="347.2" cy="210.8" r="2.35"/>
<circle cx="347.2" cy="213.7" r="2.35"/>
<circle cx="347.2" cy="205.1" r="2.35"/>
<circle cx="347.2" cy="212.8" r="2.35"/>
<circle cx="347.2" cy="215.7" r="2.35"/>
<circle cx="347.2" cy="213.7" r="2.35"/>
<circle cx="347.2" cy="208.7" r="2.35"/>
<circle cx="347.2" cy="208.0" r="2.35"/>
<circle cx="347.2" cy="209.4" r="2.35"/>
<circle cx="347.2" cy="214.4" r="2.35"/>
<circle cx="347.2" cy="209.8" r="2.35"/>
<circle cx="347.2" cy="207.3" r="2.35"/>
<circle cx="347.2" cy="212.6" r="2.35"/>
<circle cx="347.2" cy="198.2" r="2.35"/>
<circle cx="347.2" cy="227.4" r="2.35"/>
<circle cx="360.1" cy="202.1" r="2.35"/>
<circle cx="360.1" cy="225.2" r="2.35"/>
<circle cx="360.1" cy="222.9" r="2.35"/>
<circle cx="360.1" cy="213.2" r="2.35"/>
<circle cx="360.1" cy="205.5" r="2.35"/>
<circle cx="360.1" cy="211.8" r="2.35"/>
<circle cx="360.1" cy="214.5" r="2.35"/>
<circle cx="360.1" cy="208.0" r="2.35"/>
<circle cx="360.1" cy="207.2" r="2.35"/>
<circle cx="360.1" cy="209.1" r="2.35"/>
<circle cx="360.1" cy="216.6" r="2.35"/>
<circle cx="360.1" cy="218.3" r="2.35"/>
<circle cx="360.1" cy="216.4" r="2.35"/>
<circle cx="360.1" cy="204.2" r="2.35"/>
<circle cx="360.1" cy="217.5" r="2.35"/>
<circle cx="360.1" cy="205.0" r="2.35"/>
<circle cx="360.1" cy="213.3" r="2.35"/>
<circle cx="360.1" cy="213.9" r="2.35"/>
<circle cx="360.1" cy="211.2" r="2.35"/>
<circle cx="360.1" cy="216.5" r="2.35"/>
<circle cx="360.1" cy="215.2" r="2.35"/>
<circle cx="360.1" cy="205.3" r="2.35"/>
<circle cx="360.1" cy="215.5" r="2.35"/>
<circle cx="360.1" cy="217.9" r="2.35"/>
<circle cx="360.1" cy="211.0" r="2.35"/>
<circle cx="360.1" cy="211.2" r="2.35"/>
<circle cx="360.1" cy="203.4" r="2.35"/>
<circle cx="360.1" cy="210.6" r="2.35"/>
<circle cx="360.1" cy="207.8" r="2.35"/>
<circle cx="360.1" cy="211.3" r="2.35"/>
<circle cx="360.1" cy="208.5" r="2.35"/>
<circle cx="360.1" cy="216.1" r="2.35"/>
<circle cx="360.1" cy="206.6" r="2.35"/>
<circle cx="360.1" cy="209.8" r="2.35"/>
<circle cx="360.1" cy="204.4" r="2.35"/>
<circle cx="360.1" cy="211.7" r="2.35"/>
<circle cx="360.1" cy="208.9" r="2.35"/>
<circle cx="360.1" cy="202.5" r="2.35"/>
<circle cx="360.1" cy="211.9" r="2.35"/>
<circle cx="360.1" cy="202.3" r="2.35"/>
<circle cx="360.1" cy="209.8" r="2.35"/>
<circle cx="360.1" cy="214.2" r="2.35"/>
<circle cx="360.1" cy="212.4" r="2.35"/>
<circle cx="360.1" cy="216.4" r="2.35"/>
<circle cx="360.1" cy="216.3" r="2.35"/>
<circle cx="360.1" cy="215.1" r="2.35"/>
<circle cx="360.1" cy="212.4" r="2.35"/>
<circle cx="360.1" cy="209.9" r="2.35"/>
<circle cx="360.1" cy="218.4" r="2.35"/>
<circle cx="360.1" cy="212.1" r="2.35"/>
<circle cx="360.1" cy="213.0" r="2.35"/>
<circle cx="360.1" cy="203.5" r="2.35"/>
<circle cx="360.1" cy="205.8" r="2.35"/>
<circle cx="360.1" cy="209.9" r="2.35"/>
<circle cx="360.1" cy="220.9" r="2.35"/>
<circle cx="360.1" cy="211.2" r="2.35"/>
<circle cx="360.1" cy="209.4" r="2.35"/>
<circle cx="360.1" cy="218.0" r="2.35"/>
<circle cx="360.1" cy="217.9" r="2.35"/>
<circle cx="360.1" cy="205.5" r="2.35"/>
<circle cx="360.1" cy="211.6" r="2.35"/>
<circle cx="360.1" cy="217.3" r="2.35"/>
<circle cx="360.1" cy="217.1" r="2.35"/>
<circle cx="360.1" cy="218.3" r="2.35"/>
<circle cx="360.1" cy="219.4" r="2.35"/>
<circle cx="360.1" cy="214.4" r="2.35"/>
<circle cx="360.1" cy="208.3" r="2.35"/>
<circle cx="360.1" cy="206.1" r="2.35"/>
<circle cx="360.1" cy="219.0" r="2.35"/>
<circle cx="360.1" cy="218.7" r="2.35"/>
<circle cx="360.1" cy="208.8" r="2.35"/>
<circle cx="360.1" cy="218.7" r="2.35"/>
<circle cx="360.1" cy="204.1" r="2.35"/>
<circle cx="360.1" cy="210.4" r="2.35"/>
<circle cx="360.1" cy="206.9" r="2.35"/>
<circle cx="360.1" cy="208.7" r="2.35"/>
<circle cx="360.1" cy="216.5" r="2.35"/>
<circle cx="360.1" cy="207.5" r="2.35"/>
<circle cx="360.1" cy="218.7" r="2.35"/>
<circle cx="360.1" cy="210.0" r="2.35"/>
<circle cx="360.1" cy="204.3" r="2.35"/>
<circle cx="360.1" cy="197.8" r="2.35"/>
<circle cx="360.1" cy="226.4" r="2.35"/>
<circle cx="360.1" cy="229.1" r="2.35"/>
<circle cx="372.9" cy="205.2" r="2.35"/>
<circle cx="372.9" cy="223.4" r="2.35"/>
<circle cx="372.9" cy="215.7" r="2.35"/>
<circle cx="372.9" cy="212.3" r="2.35"/>
<circle cx="372.9" cy="212.3" r="2.35"/>
<circle cx="372.9" cy="219.4" r="2.35"/>
<circle cx="372.9" cy="212.1" r="2.35"/>
<circle cx="372.9" cy="205.2" r="2.35"/>
<circle cx="372.9" cy="219.1" r="2.35"/>
<circle cx="372.9" cy="208.4" r="2.35"/>
<circle cx="372.9" cy="221.0" r="2.35"/>
<circle cx="372.9" cy="221.3" r="2.35"/>
<circle cx="372.9" cy="217.6" r="2.35"/>
<circle cx="372.9" cy="212.8" r="2.35"/>
<circle cx="372.9" cy="214.3" r="2.35"/>
<circle cx="372.9" cy="217.1" r="2.35"/>
<circle cx="372.9" cy="205.4" r="2.35"/>
<circle cx="372.9" cy="216.5" r="2.35"/>
<circle cx="372.9" cy="213.2" r="2.35"/>
<circle cx="372.9" cy="213.0" r="2.35"/>
<circle cx="372.9" cy="223.3" r="2.35"/>
<circle cx="372.9" cy="223.3" r="2.35"/>
<circle cx="372.9" cy="209.7" r="2.35"/>
<circle cx="372.9" cy="214.3" r="2.35"/>
<circle cx="372.9" cy="223.1" r="2.35"/>
<circle cx="372.9" cy="221.5" r="2.35"/>
<circle cx="372.9" cy="212.8" r="2.35"/>
<circle cx="372.9" cy="220.3" r="2.35"/>
<circle cx="372.9" cy="212.1" r="2.35"/>
<circle cx="372.9" cy="211.4" r="2.35"/>
<circle cx="372.9" cy="208.6" r="2.35"/>
<circle cx="372.9" cy="213.8" r="2.35"/>
<circle cx="372.9" cy="205.5" r="2.35"/>
<circle cx="372.9" cy="216.2" r="2.35"/>
<circle cx="372.9" cy="216.5" r="2.35"/>
<circle cx="372.9" cy="217.3" r="2.35"/>
<circle cx="372.9" cy="218.4" r="2.35"/>
<circle cx="372.9" cy="218.8" r="2.35"/>
<circle cx="372.9" cy="209.3" r="2.35"/>
<circle cx="372.9" cy="217.6" r="2.35"/>
<circle cx="372.9" cy="214.4" r="2.35"/>
<circle cx="372.9" cy="217.4" r="2.35"/>
<circle cx="372.9" cy="210.3" r="2.35"/>
<circle cx="372.9" cy="207.0" r="2.35"/>
<circle cx="372.9" cy="208.3" r="2.35"/>
<circle cx="372.9" cy="211.4" r="2.35"/>
<circle cx="372.9" cy="210.3" r="2.35"/>
<circle cx="372.9" cy="212.3" r="2.35"/>
<circle cx="372.9" cy="206.5" r="2.35"/>
<circle cx="372.9" cy="211.3" r="2.35"/>
<circle cx="372.9" cy="208.1" r="2.35"/>
<circle cx="372.9" cy="215.5" r="2.35"/>
<circle cx="372.9" cy="214.6" r="2.35"/>
<circle cx="372.9" cy="219.4" r="2.35"/>
<circle cx="372.9" cy="207.2" r="2.35"/>
<circle cx="372.9" cy="213.7" r="2.35"/>
<circle cx="372.9" cy="213.3" r="2.35"/>
<circle cx="372.9" cy="213.7" r="2.35"/>
<circle cx="372.9" cy="205.6" r="2.35"/>
<circle cx="372.9" cy="215.0" r="2.35"/>
<circle cx="372.9" cy="208.3" r="2.35"/>
<circle cx="372.9" cy="214.6" r="2.35"/>
<circle cx="372.9" cy="220.4" r="2.35"/>
<circle cx="372.9" cy="213.8" r="2.35"/>
<circle cx="372.9" cy="214.9" r="2.35"/>
<circle cx="372.9" cy="210.1" r="2.35"/>
<circle cx="372.9" cy="220.3" r="2.35"/>
<circle cx="372.9" cy="211.9" r="2.35"/>
<circle cx="372.9" cy="215.3" r="2.35"/>
<circle cx="372.9" cy="208.3" r="2.35"/>
<circle cx="372.9" cy="219.4" r="2.35"/>
<circle cx="372.9" cy="214.0" r="2.35"/>
<circle cx="372.9" cy="210.8" r="2.35"/>
<circle cx="372.9" cy="217.2" r="2.35"/>
<circle cx="372.9" cy="214.0" r="2.35"/>
<circle cx="372.9" cy="210.1" r="2.35"/>
<circle cx="372.9" cy="210.8" r="2.35"/>
<circle cx="372.9" cy="220.1" r="2.35"/>
<circle cx="372.9" cy="209.7" r="2.35"/>
<circle cx="372.9" cy="205.3" r="2.35"/>
<circle cx="372.9" cy="222.2" r="2.35"/>
<circle cx="372.9" cy="213.0" r="2.35"/>
<circle cx="372.9" cy="213.8" r="2.35"/>
<circle cx="372.9" cy="216.3" r="2.35"/>
<circle cx="372.9" cy="210.1" r="2.35"/>
<circle cx="372.9" cy="214.6" r="2.35"/>
<circle cx="372.9" cy="207.0" r="2.35"/>
<circle cx="372.9" cy="209.9" r="2.35"/>
<circle cx="372.9" cy="199.4" r="2.35"/>
<circle cx="372.9" cy="201.9" r="2.35"/>
<circle cx="372.9" cy="226.4" r="2.35"/>
<circle cx="372.9" cy="229.1" r="2.35"/>
<circle cx="385.8" cy="222.5" r="2.35"/>
<circle cx="385.8" cy="230.9" r="2.35"/>
<circle cx="385.8" cy="225.7" r="2.35"/>
<circle cx="385.8" cy="229.6" r="2.35"/>
<circle cx="385.8" cy="229.9" r="2.35"/>
<circle cx="385.8" cy="223.4" r="2.35"/>
<circle cx="385.8" cy="224.0" r="2.35"/>
<circle cx="385.8" cy="229.2" r="2.35"/>
<circle cx="385.8" cy="228.1" r="2.35"/>
<circle cx="385.8" cy="225.8" r="2.35"/>
<circle cx="385.8" cy="229.9" r="2.35"/>
<circle cx="385.8" cy="223.6" r="2.35"/>
<circle cx="385.8" cy="225.6" r="2.35"/>
<circle cx="385.8" cy="224.1" r="2.35"/>
<circle cx="385.8" cy="229.0" r="2.35"/>
<circle cx="385.8" cy="223.5" r="2.35"/>
<circle cx="385.8" cy="224.7" r="2.35"/>
<circle cx="385.8" cy="227.4" r="2.35"/>
<circle cx="385.8" cy="226.1" r="2.35"/>
<circle cx="385.8" cy="228.5" r="2.35"/>
<circle cx="385.8" cy="222.8" r="2.35"/>
<circle cx="385.8" cy="224.7" r="2.35"/>
<circle cx="385.8" cy="230.7" r="2.35"/>
<circle cx="385.8" cy="223.8" r="2.35"/>
<circle cx="385.8" cy="227.7" r="2.35"/>
<circle cx="385.8" cy="230.1" r="2.35"/>
<circle cx="385.8" cy="227.1" r="2.35"/>
<circle cx="385.8" cy="226.4" r="2.35"/>
<circle cx="385.8" cy="230.8" r="2.35"/>
<circle cx="385.8" cy="228.0" r="2.35"/>
<circle cx="385.8" cy="226.8" r="2.35"/>
<circle cx="385.8" cy="227.3" r="2.35"/>
<circle cx="385.8" cy="222.6" r="2.35"/>
<circle cx="385.8" cy="230.8" r="2.35"/>
<circle cx="385.8" cy="226.7" r="2.35"/>
<circle cx="385.8" cy="226.1" r="2.35"/>
<circle cx="385.8" cy="224.3" r="2.35"/>
<circle cx="385.8" cy="228.7" r="2.35"/>
<circle cx="385.8" cy="224.1" r="2.35"/>
<circle cx="385.8" cy="224.9" r="2.35"/>
<circle cx="385.8" cy="225.1" r="2.35"/>
<circle cx="385.8" cy="225.2" r="2.35"/>
<circle cx="385.8" cy="226.5" r="2.35"/>
<circle cx="385.8" cy="224.3" r="2.35"/>
<circle cx="385.8" cy="229.1" r="2.35"/>
<circle cx="385.8" cy="222.6" r="2.35"/>
<circle cx="385.8" cy="225.0" r="2.35"/>
<circle cx="385.8" cy="223.1" r="2.35"/>
<circle cx="385.8" cy="227.0" r="2.35"/>
<circle cx="385.8" cy="224.4" r="2.35"/>
<circle cx="385.8" cy="230.1" r="2.35"/>
<circle cx="385.8" cy="227.5" r="2.35"/>
<circle cx="385.8" cy="224.8" r="2.35"/>
<circle cx="385.8" cy="222.8" r="2.35"/>
<circle cx="385.8" cy="228.6" r="2.35"/>
<circle cx="385.8" cy="223.1" r="2.35"/>
<circle cx="385.8" cy="224.4" r="2.35"/>
<circle cx="385.8" cy="226.3" r="2.35"/>
<circle cx="385.8" cy="225.0" r="2.35"/>
<circle cx="385.8" cy="227.6" r="2.35"/>
<circle cx="385.8" cy="225.7" r="2.35"/>
<circle cx="385.8" cy="230.6" r="2.35"/>
<circle cx="385.8" cy="224.5" r="2.35"/>
<circle cx="385.8" cy="226.6" r="2.35"/>
<circle cx="385.8" cy="228.7" r="2.35"/>
<circle cx="385.8" cy="224.2" r="2.35"/>
<circle cx="385.8" cy="224.8" r="2.35"/>
<circle cx="385.8" cy="226.5" r="2.35"/>
<circle cx="385.8" cy="230.0" r="2.35"/>
<circle cx="385.8" cy="227.6" r="2.35"/>
<circle cx="385.8" cy="227.4" r="2.35"/>
<circle cx="385.8" cy="223.9" r="2.35"/>
<circle cx="398.6" cy="215.8" r="2.35"/>
<circle cx="398.6" cy="226.4" r="2.35"/>
<circle cx="398.6" cy="224.2" r="2.35"/>
<circle cx="398.6" cy="222.4" r="2.35"/>
<circle cx="398.6" cy="217.2" r="2.35"/>
<circle cx="398.6" cy="216.9" r="2.35"/>
<circle cx="398.6" cy="219.5" r="2.35"/>
<circle cx="398.6" cy="221.1" r="2.35"/>
<circle cx="398.6" cy="216.9" r="2.35"/>
<circle cx="398.6" cy="218.0" r="2.35"/>
<circle cx="398.6" cy="216.9" r="2.35"/>
<circle cx="398.6" cy="216.4" r="2.35"/>
<circle cx="398.6" cy="218.5" r="2.35"/>
<circle cx="398.6" cy="217.6" r="2.35"/>
<circle cx="398.6" cy="219.2" r="2.35"/>
<circle cx="398.6" cy="220.7" r="2.35"/>
<circle cx="398.6" cy="219.4" r="2.35"/>
<circle cx="398.6" cy="219.2" r="2.35"/>
<circle cx="398.6" cy="219.9" r="2.35"/>
<circle cx="398.6" cy="221.0" r="2.35"/>
<circle cx="398.6" cy="220.0" r="2.35"/>
<circle cx="398.6" cy="215.8" r="2.35"/>
<circle cx="398.6" cy="218.9" r="2.35"/>
<circle cx="398.6" cy="217.8" r="2.35"/>
<circle cx="398.6" cy="218.9" r="2.35"/>
<circle cx="398.6" cy="217.0" r="2.35"/>
<circle cx="398.6" cy="217.8" r="2.35"/>
<circle cx="398.6" cy="219.7" r="2.35"/>
<circle cx="398.6" cy="218.5" r="2.35"/>
<circle cx="398.6" cy="219.6" r="2.35"/>
<circle cx="398.6" cy="221.0" r="2.35"/>
<circle cx="398.6" cy="216.9" r="2.35"/>
<circle cx="398.6" cy="217.2" r="2.35"/>
<circle cx="398.6" cy="220.6" r="2.35"/>
<circle cx="398.6" cy="218.0" r="2.35"/>
<circle cx="398.6" cy="219.1" r="2.35"/>
<circle cx="398.6" cy="220.9" r="2.35"/>
<circle cx="398.6" cy="216.7" r="2.35"/>
<circle cx="398.6" cy="220.9" r="2.35"/>
<circle cx="398.6" cy="218.0" r="2.35"/>
<circle cx="398.6" cy="217.4" r="2.35"/>
<circle cx="398.6" cy="217.4" r="2.35"/>
<circle cx="398.6" cy="220.0" r="2.35"/>
<circle cx="398.6" cy="219.8" r="2.35"/>
<circle cx="398.6" cy="234.2" r="2.35"/>
<circle cx="424.3" cy="234.8" r="2.35"/>
<circle cx="424.3" cy="243.2" r="2.35"/>
<circle cx="424.3" cy="236.7" r="2.35"/>
<circle cx="424.3" cy="235.3" r="2.35"/>
<circle cx="424.3" cy="237.5" r="2.35"/>
<circle cx="424.3" cy="242.8" r="2.35"/>
<circle cx="424.3" cy="238.0" r="2.35"/>
<circle cx="424.3" cy="241.4" r="2.35"/>
<circle cx="424.3" cy="238.2" r="2.35"/>
<circle cx="424.3" cy="234.9" r="2.35"/>
<circle cx="424.3" cy="242.4" r="2.35"/>
<circle cx="424.3" cy="239.5" r="2.35"/>
<circle cx="424.3" cy="241.8" r="2.35"/>
<circle cx="424.3" cy="241.7" r="2.35"/>
<circle cx="424.3" cy="236.3" r="2.35"/>
<circle cx="424.3" cy="239.7" r="2.35"/>
<circle cx="424.3" cy="236.6" r="2.35"/>
<circle cx="424.3" cy="240.5" r="2.35"/>
<circle cx="424.3" cy="241.8" r="2.35"/>
<circle cx="424.3" cy="242.5" r="2.35"/>
<circle cx="424.3" cy="237.9" r="2.35"/>
<circle cx="424.3" cy="243.2" r="2.35"/>
<circle cx="424.3" cy="242.1" r="2.35"/>
<circle cx="424.3" cy="241.7" r="2.35"/>
<circle cx="424.3" cy="236.4" r="2.35"/>
<circle cx="424.3" cy="241.2" r="2.35"/>
<circle cx="424.3" cy="240.6" r="2.35"/>
<circle cx="424.3" cy="239.7" r="2.35"/>
<circle cx="424.3" cy="240.4" r="2.35"/>
<circle cx="424.3" cy="236.2" r="2.35"/>
<circle cx="424.3" cy="239.1" r="2.35"/>
<circle cx="424.3" cy="241.2" r="2.35"/>
<circle cx="424.3" cy="238.5" r="2.35"/>
<circle cx="424.3" cy="241.4" r="2.35"/>
<circle cx="424.3" cy="240.1" r="2.35"/>
<circle cx="424.3" cy="237.9" r="2.35"/>
<circle cx="424.3" cy="240.6" r="2.35"/>
<circle cx="424.3" cy="238.6" r="2.35"/>
<circle cx="424.3" cy="237.6" r="2.35"/>
<circle cx="424.3" cy="238.2" r="2.35"/>
<circle cx="424.3" cy="241.5" r="2.35"/>
<circle cx="424.3" cy="241.6" r="2.35"/>
<circle cx="424.3" cy="242.1" r="2.35"/>
<circle cx="424.3" cy="240.7" r="2.35"/>
<circle cx="424.3" cy="241.6" r="2.35"/>
<circle cx="424.3" cy="238.4" r="2.35"/>
<circle cx="424.3" cy="235.8" r="2.35"/>
<circle cx="424.3" cy="241.2" r="2.35"/>
<circle cx="424.3" cy="238.4" r="2.35"/>
<circle cx="424.3" cy="242.8" r="2.35"/>
<circle cx="424.3" cy="237.8" r="2.35"/>
<circle cx="424.3" cy="239.5" r="2.35"/>
<circle cx="424.3" cy="242.7" r="2.35"/>
<circle cx="424.3" cy="242.6" r="2.35"/>
<circle cx="424.3" cy="242.9" r="2.35"/>
<circle cx="424.3" cy="238.5" r="2.35"/>
<circle cx="424.3" cy="236.3" r="2.35"/>
<circle cx="424.3" cy="237.3" r="2.35"/>
<circle cx="424.3" cy="239.1" r="2.35"/>
<circle cx="424.3" cy="240.6" r="2.35"/>
<circle cx="424.3" cy="241.9" r="2.35"/>
<circle cx="424.3" cy="241.8" r="2.35"/>
<circle cx="424.3" cy="236.4" r="2.35"/>
<circle cx="424.3" cy="238.3" r="2.35"/>
<circle cx="424.3" cy="239.5" r="2.35"/>
<circle cx="424.3" cy="235.7" r="2.35"/>
<circle cx="424.3" cy="236.6" r="2.35"/>
<circle cx="424.3" cy="235.4" r="2.35"/>
<circle cx="424.3" cy="237.8" r="2.35"/>
<circle cx="424.3" cy="242.1" r="2.35"/>
<circle cx="424.3" cy="240.8" r="2.35"/>
<circle cx="424.3" cy="240.1" r="2.35"/>
<circle cx="424.3" cy="225.8" r="2.35"/>
<circle cx="488.6" cy="219.1" r="2.35"/>
<circle cx="488.6" cy="229.0" r="2.35"/>
<circle cx="488.6" cy="226.1" r="2.35"/>
<circle cx="488.6" cy="221.2" r="2.35"/>
<circle cx="488.6" cy="223.1" r="2.35"/>
<circle cx="488.6" cy="222.4" r="2.35"/>
<circle cx="488.6" cy="220.6" r="2.35"/>
<circle cx="488.6" cy="222.6" r="2.35"/>
<circle cx="488.6" cy="220.7" r="2.35"/>
<circle cx="488.6" cy="224.0" r="2.35"/>
<circle cx="488.6" cy="227.2" r="2.35"/>
<circle cx="488.6" cy="225.4" r="2.35"/>
<circle cx="488.6" cy="224.4" r="2.35"/>
<circle cx="488.6" cy="226.1" r="2.35"/>
<circle cx="488.6" cy="223.4" r="2.35"/>
<circle cx="488.6" cy="220.9" r="2.35"/>
<circle cx="488.6" cy="229.0" r="2.35"/>
<circle cx="488.6" cy="225.3" r="2.35"/>
<circle cx="488.6" cy="225.4" r="2.35"/>
<circle cx="488.6" cy="222.4" r="2.35"/>
<circle cx="488.6" cy="223.9" r="2.35"/>
<circle cx="488.6" cy="225.0" r="2.35"/>
<circle cx="488.6" cy="221.5" r="2.35"/>
<circle cx="488.6" cy="221.6" r="2.35"/>
<circle cx="488.6" cy="227.3" r="2.35"/>
<circle cx="488.6" cy="220.7" r="2.35"/>
<circle cx="488.6" cy="224.1" r="2.35"/>
<circle cx="488.6" cy="220.7" r="2.35"/>
<circle cx="488.6" cy="228.5" r="2.35"/>
<circle cx="488.6" cy="224.9" r="2.35"/>
<circle cx="488.6" cy="225.8" r="2.35"/>
<circle cx="488.6" cy="220.7" r="2.35"/>
<circle cx="488.6" cy="223.8" r="2.35"/>
<circle cx="488.6" cy="222.9" r="2.35"/>
<circle cx="488.6" cy="226.3" r="2.35"/>
<circle cx="488.6" cy="224.6" r="2.35"/>
<circle cx="488.6" cy="225.1" r="2.35"/>
<circle cx="488.6" cy="227.2" r="2.35"/>
<circle cx="488.6" cy="223.2" r="2.35"/>
<circle cx="488.6" cy="224.8" r="2.35"/>
<circle cx="488.6" cy="221.9" r="2.35"/>
<circle cx="488.6" cy="227.3" r="2.35"/>
<circle cx="488.6" cy="221.4" r="2.35"/>
<circle cx="488.6" cy="223.9" r="2.35"/>
<circle cx="488.6" cy="228.3" r="2.35"/>
<circle cx="488.6" cy="222.6" r="2.35"/>
<circle cx="488.6" cy="220.7" r="2.35"/>
<circle cx="488.6" cy="224.1" r="2.35"/>
<circle cx="488.6" cy="224.6" r="2.35"/>
<circle cx="488.6" cy="220.8" r="2.35"/>
<circle cx="488.6" cy="226.1" r="2.35"/>
<circle cx="488.6" cy="223.1" r="2.35"/>
<circle cx="488.6" cy="223.3" r="2.35"/>
<circle cx="488.6" cy="224.1" r="2.35"/>
<circle cx="488.6" cy="226.0" r="2.35"/>
<circle cx="488.6" cy="224.8" r="2.35"/>
<circle cx="488.6" cy="221.4" r="2.35"/>
<circle cx="488.6" cy="220.7" r="2.35"/>
<circle cx="488.6" cy="227.2" r="2.35"/>
<circle cx="488.6" cy="228.1" r="2.35"/>
<circle cx="488.6" cy="225.6" r="2.35"/>
<circle cx="488.6" cy="221.2" r="2.35"/>
<circle cx="488.6" cy="228.3" r="2.35"/>
<circle cx="488.6" cy="221.7" r="2.35"/>
<circle cx="488.6" cy="226.7" r="2.35"/>
<circle cx="488.6" cy="219.2" r="2.35"/>
<circle cx="488.6" cy="222.8" r="2.35"/>
<circle cx="488.6" cy="224.4" r="2.35"/>
<circle cx="488.6" cy="222.7" r="2.35"/>
<circle cx="488.6" cy="220.1" r="2.35"/>
<circle cx="488.6" cy="223.4" r="2.35"/>
<circle cx="488.6" cy="228.7" r="2.35"/>
<circle cx="488.6" cy="212.0" r="2.35"/>
<circle cx="488.6" cy="237.2" r="2.35"/>
<circle cx="488.6" cy="239.3" r="2.35"/>
<circle cx="501.4" cy="193.5" r="2.35"/>
<circle cx="501.4" cy="212.2" r="2.35"/>
<circle cx="501.4" cy="209.4" r="2.35"/>
<circle cx="501.4" cy="208.7" r="2.35"/>
<circle cx="501.4" cy="207.0" r="2.35"/>
<circle cx="501.4" cy="201.8" r="2.35"/>
<circle cx="501.4" cy="196.3" r="2.35"/>
<circle cx="501.4" cy="196.2" r="2.35"/>
<circle cx="501.4" cy="195.9" r="2.35"/>
<circle cx="501.4" cy="195.1" r="2.35"/>
<circle cx="501.4" cy="200.4" r="2.35"/>
<circle cx="501.4" cy="202.3" r="2.35"/>
<circle cx="501.4" cy="196.8" r="2.35"/>
<circle cx="501.4" cy="204.7" r="2.35"/>
<circle cx="501.4" cy="201.8" r="2.35"/>
<circle cx="501.4" cy="204.9" r="2.35"/>
<circle cx="501.4" cy="206.0" r="2.35"/>
<circle cx="501.4" cy="206.8" r="2.35"/>
<circle cx="501.4" cy="198.4" r="2.35"/>
<circle cx="501.4" cy="196.8" r="2.35"/>
<circle cx="501.4" cy="200.7" r="2.35"/>
<circle cx="501.4" cy="206.9" r="2.35"/>
<circle cx="501.4" cy="204.7" r="2.35"/>
<circle cx="501.4" cy="197.6" r="2.35"/>
<circle cx="501.4" cy="204.1" r="2.35"/>
<circle cx="501.4" cy="202.6" r="2.35"/>
<circle cx="501.4" cy="198.3" r="2.35"/>
<circle cx="501.4" cy="195.8" r="2.35"/>
<circle cx="501.4" cy="198.4" r="2.35"/>
<circle cx="501.4" cy="203.1" r="2.35"/>
<circle cx="501.4" cy="194.0" r="2.35"/>
<circle cx="501.4" cy="200.6" r="2.35"/>
<circle cx="501.4" cy="197.0" r="2.35"/>
<circle cx="501.4" cy="196.6" r="2.35"/>
<circle cx="501.4" cy="193.9" r="2.35"/>
<circle cx="501.4" cy="202.6" r="2.35"/>
<circle cx="501.4" cy="201.7" r="2.35"/>
<circle cx="501.4" cy="198.0" r="2.35"/>
<circle cx="501.4" cy="199.1" r="2.35"/>
<circle cx="501.4" cy="205.4" r="2.35"/>
<circle cx="501.4" cy="200.9" r="2.35"/>
<circle cx="501.4" cy="202.2" r="2.35"/>
<circle cx="501.4" cy="199.6" r="2.35"/>
<circle cx="501.4" cy="203.9" r="2.35"/>
<circle cx="501.4" cy="198.6" r="2.35"/>
<circle cx="501.4" cy="194.6" r="2.35"/>
<circle cx="501.4" cy="204.0" r="2.35"/>
<circle cx="501.4" cy="203.5" r="2.35"/>
<circle cx="501.4" cy="195.2" r="2.35"/>
<circle cx="501.4" cy="201.4" r="2.35"/>
<circle cx="501.4" cy="201.4" r="2.35"/>
<circle cx="501.4" cy="202.2" r="2.35"/>
<circle cx="501.4" cy="201.5" r="2.35"/>
<circle cx="501.4" cy="200.4" r="2.35"/>
<circle cx="501.4" cy="198.1" r="2.35"/>
<circle cx="501.4" cy="197.2" r="2.35"/>
<circle cx="501.4" cy="197.9" r="2.35"/>
<circle cx="501.4" cy="199.3" r="2.35"/>
<circle cx="501.4" cy="194.5" r="2.35"/>
<circle cx="501.4" cy="200.8" r="2.35"/>
<circle cx="501.4" cy="202.9" r="2.35"/>
<circle cx="501.4" cy="206.7" r="2.35"/>
<circle cx="501.4" cy="201.0" r="2.35"/>
<circle cx="501.4" cy="195.6" r="2.35"/>
<circle cx="501.4" cy="194.3" r="2.35"/>
<circle cx="501.4" cy="197.2" r="2.35"/>
<circle cx="501.4" cy="200.3" r="2.35"/>
<circle cx="501.4" cy="204.5" r="2.35"/>
<circle cx="501.4" cy="201.2" r="2.35"/>
<circle cx="501.4" cy="201.3" r="2.35"/>
<circle cx="501.4" cy="202.0" r="2.35"/>
<circle cx="501.4" cy="199.3" r="2.35"/>
<circle cx="501.4" cy="203.7" r="2.35"/>
<circle cx="501.4" cy="203.3" r="2.35"/>
<circle cx="501.4" cy="217.9" r="2.35"/>
<circle cx="501.4" cy="223.3" r="2.35"/>
<circle cx="655.6" cy="184.3" r="2.35"/>
<circle cx="655.6" cy="203.7" r="2.35"/>
<circle cx="655.6" cy="193.1" r="2.35"/>
<circle cx="655.6" cy="197.8" r="2.35"/>
<circle cx="655.6" cy="194.7" r="2.35"/>
<circle cx="655.6" cy="188.8" r="2.35"/>
<circle cx="655.6" cy="200.2" r="2.35"/>
<circle cx="655.6" cy="192.2" r="2.35"/>
<circle cx="655.6" cy="201.0" r="2.35"/>
<circle cx="655.6" cy="188.7" r="2.35"/>
<circle cx="655.6" cy="192.9" r="2.35"/>
<circle cx="655.6" cy="197.5" r="2.35"/>
<circle cx="655.6" cy="190.5" r="2.35"/>
<circle cx="655.6" cy="197.3" r="2.35"/>
<circle cx="655.6" cy="190.8" r="2.35"/>
<circle cx="655.6" cy="202.6" r="2.35"/>
<circle cx="655.6" cy="192.2" r="2.35"/>
<circle cx="655.6" cy="190.9" r="2.35"/>
<circle cx="655.6" cy="195.0" r="2.35"/>
<circle cx="655.6" cy="192.2" r="2.35"/>
<circle cx="655.6" cy="200.1" r="2.35"/>
<circle cx="655.6" cy="198.9" r="2.35"/>
<circle cx="655.6" cy="201.4" r="2.35"/>
<circle cx="655.6" cy="198.0" r="2.35"/>
<circle cx="655.6" cy="194.4" r="2.35"/>
<circle cx="655.6" cy="202.3" r="2.35"/>
<circle cx="655.6" cy="196.9" r="2.35"/>
<circle cx="655.6" cy="199.1" r="2.35"/>
<circle cx="655.6" cy="195.2" r="2.35"/>
<circle cx="655.6" cy="202.5" r="2.35"/>
<circle cx="655.6" cy="189.9" r="2.35"/>
<circle cx="655.6" cy="197.6" r="2.35"/>
<circle cx="655.6" cy="190.6" r="2.35"/>
<circle cx="655.6" cy="187.9" r="2.35"/>
<circle cx="655.6" cy="189.4" r="2.35"/>
<circle cx="655.6" cy="198.0" r="2.35"/>
<circle cx="655.6" cy="198.9" r="2.35"/>
<circle cx="655.6" cy="201.9" r="2.35"/>
<circle cx="655.6" cy="198.0" r="2.35"/>
<circle cx="655.6" cy="200.0" r="2.35"/>
<circle cx="655.6" cy="186.6" r="2.35"/>
<circle cx="655.6" cy="198.1" r="2.35"/>
<circle cx="655.6" cy="192.3" r="2.35"/>
<circle cx="655.6" cy="198.7" r="2.35"/>
<circle cx="655.6" cy="200.3" r="2.35"/>
<circle cx="655.6" cy="198.1" r="2.35"/>
<circle cx="655.6" cy="199.6" r="2.35"/>
<circle cx="655.6" cy="187.4" r="2.35"/>
<circle cx="655.6" cy="192.1" r="2.35"/>
<circle cx="655.6" cy="186.3" r="2.35"/>
<circle cx="655.6" cy="198.8" r="2.35"/>
<circle cx="655.6" cy="190.5" r="2.35"/>
<circle cx="655.6" cy="191.3" r="2.35"/>
<circle cx="655.6" cy="187.6" r="2.35"/>
<circle cx="655.6" cy="196.2" r="2.35"/>
<circle cx="655.6" cy="193.1" r="2.35"/>
<circle cx="655.6" cy="201.1" r="2.35"/>
<circle cx="655.6" cy="196.2" r="2.35"/>
<circle cx="655.6" cy="193.9" r="2.35"/>
<circle cx="655.6" cy="198.9" r="2.35"/>
<circle cx="655.6" cy="192.2" r="2.35"/>
<circle cx="655.6" cy="196.0" r="2.35"/>
<circle cx="655.6" cy="191.4" r="2.35"/>
<circle cx="655.6" cy="189.3" r="2.35"/>
<circle cx="655.6" cy="188.7" r="2.35"/>
<circle cx="655.6" cy="191.5" r="2.35"/>
<circle cx="655.6" cy="193.3" r="2.35"/>
<circle cx="655.6" cy="192.3" r="2.35"/>
<circle cx="655.6" cy="197.1" r="2.35"/>
<circle cx="655.6" cy="201.2" r="2.35"/>
<circle cx="655.6" cy="191.8" r="2.35"/>
<circle cx="655.6" cy="194.0" r="2.35"/>
<circle cx="655.6" cy="198.4" r="2.35"/>
<circle cx="655.6" cy="190.9" r="2.35"/>
<circle cx="655.6" cy="202.1" r="2.35"/>
<circle cx="655.6" cy="199.8" r="2.35"/>
<circle cx="655.6" cy="194.9" r="2.35"/>
<circle cx="655.6" cy="203.1" r="2.35"/>
<circle cx="655.6" cy="190.3" r="2.35"/>
<circle cx="655.6" cy="193.3" r="2.35"/>
<circle cx="655.6" cy="191.9" r="2.35"/>
<circle cx="655.6" cy="193.5" r="2.35"/>
<circle cx="655.6" cy="194.2" r="2.35"/>
<circle cx="655.6" cy="201.2" r="2.35"/>
<circle cx="655.6" cy="198.4" r="2.35"/>
<circle cx="655.6" cy="201.7" r="2.35"/>
<circle cx="655.6" cy="207.8" r="2.35"/>
<circle cx="655.6" cy="210.6" r="2.35"/>
<circle cx="655.6" cy="211.2" r="2.35"/>
<circle cx="116.0" cy="11.4" r="2.35"/>
<circle cx="116.0" cy="26.7" r="2.35"/>
<circle cx="116.0" cy="29.6" r="2.35"/>
<circle cx="116.0" cy="32.4" r="2.35"/>
<circle cx="116.0" cy="35.1" r="2.35"/>
<circle cx="116.0" cy="37.9" r="2.35"/>
<circle cx="116.0" cy="43.8" r="2.35"/>
<circle cx="116.0" cy="52.2" r="2.35"/>
<circle cx="116.0" cy="52.4" r="2.35"/>
<circle cx="116.0" cy="57.4" r="2.35"/>
<circle cx="116.0" cy="57.5" r="2.35"/>
<circle cx="116.0" cy="64.2" r="2.35"/>
<circle cx="116.0" cy="69.5" r="2.35"/>
<circle cx="116.0" cy="69.7" r="2.35"/>
<circle cx="116.0" cy="71.5" r="2.35"/>
<circle cx="116.0" cy="71.7" r="2.35"/>
<circle cx="116.0" cy="71.8" r="2.35"/>
<circle cx="116.0" cy="73.5" r="2.35"/>
<circle cx="116.0" cy="73.7" r="2.35"/>
<circle cx="116.0" cy="73.8" r="2.35"/>
<circle cx="116.0" cy="75.5" r="2.35"/>
<circle cx="116.0" cy="75.7" r="2.35"/>
<circle cx="116.0" cy="78.9" r="2.35"/>
<circle cx="116.0" cy="82.2" r="2.35"/>
<circle cx="116.0" cy="82.4" r="2.35"/>
<circle cx="116.0" cy="84.0" r="2.35"/>
<circle cx="116.0" cy="84.2" r="2.35"/>
<circle cx="116.0" cy="84.3" r="2.35"/>
<circle cx="116.0" cy="86.0" r="2.35"/>
<circle cx="116.0" cy="86.2" r="2.35"/>
<circle cx="116.0" cy="86.3" r="2.35"/>
<circle cx="116.0" cy="87.7" r="2.35"/>
<circle cx="116.0" cy="87.9" r="2.35"/>
<circle cx="116.0" cy="89.9" r="2.35"/>
<circle cx="116.0" cy="93.5" r="2.35"/>
<circle cx="116.0" cy="93.7" r="2.35"/>
<circle cx="116.0" cy="95.0" r="2.35"/>
<circle cx="116.0" cy="95.2" r="2.35"/>
<circle cx="116.0" cy="97.5" r="2.35"/>
<circle cx="116.0" cy="101.0" r="2.35"/>
<circle cx="116.0" cy="102.5" r="2.35"/>
<circle cx="116.0" cy="102.7" r="2.35"/>
<circle cx="116.0" cy="104.5" r="2.35"/>
<circle cx="116.0" cy="104.7" r="2.35"/>
<circle cx="116.0" cy="106.3" r="2.35"/>
<circle cx="116.0" cy="106.5" r="2.35"/>
<circle cx="116.0" cy="109.6" r="2.35"/>
<circle cx="116.0" cy="113.5" r="2.35"/>
<circle cx="116.0" cy="113.7" r="2.35"/>
<circle cx="116.0" cy="115.0" r="2.35"/>
<circle cx="116.0" cy="121.6" r="2.35"/>
<circle cx="116.0" cy="123.8" r="2.35"/>
<circle cx="116.0" cy="137.6" r="2.35"/>
<circle cx="116.0" cy="150.1" r="2.35"/>
</g>
<path d="M48.2 0.5H684.5" fill="none" stroke="#484848" stroke-width="1"/>
<path d="M684.5 0.0V255.3" fill="none" stroke="#484848" stroke-width="1"/>
<path d="M48.2 -0.3V255.3H685.5" fill="none" stroke="#222" stroke-width="1.8" stroke-linejoin="miter"/>
<path d="M154.5 255.3v4.2" stroke="#3a3a3a" stroke-width="1.6"/>
<text transform="translate(151.8 277.2) scale(0.971,1)" text-anchor="middle" class="tk">50</text>
<path d="M283.0 255.3v4.2" stroke="#3a3a3a" stroke-width="1.6"/>
<text transform="translate(280.4 277.2) scale(0.971,1)" text-anchor="middle" class="tk">60</text>
<path d="M411.5 255.3v4.2" stroke="#3a3a3a" stroke-width="1.6"/>
<text transform="translate(408.9 277.2) scale(0.971,1)" text-anchor="middle" class="tk">70</text>
<path d="M540.0 255.3v4.2" stroke="#3a3a3a" stroke-width="1.6"/>
<text transform="translate(537.4 277.2) scale(0.971,1)" text-anchor="middle" class="tk">80</text>
<path d="M668.5 255.3v4.2" stroke="#3a3a3a" stroke-width="1.6"/>
<text transform="translate(665.9 277.2) scale(0.971,1)" text-anchor="middle" class="tk">90</text>
<path d="M48.2 221.2h-4.3" stroke="#3a3a3a" stroke-width="1.6"/>
<text transform="translate(38.4 228.6) scale(0.971,1)" text-anchor="end" class="tk">2</text>
<path d="M48.2 145.8h-4.3" stroke="#3a3a3a" stroke-width="1.6"/>
<text transform="translate(38.4 153.2) scale(0.971,1)" text-anchor="end" class="tk">4</text>
<path d="M48.2 70.4h-4.3" stroke="#3a3a3a" stroke-width="1.6"/>
<text transform="translate(38.4 77.8) scale(0.971,1)" text-anchor="end" class="tk">6</text>
<text transform="translate(363.8 298.7) scale(0.9225,1)" text-anchor="middle" class="tt">Screen position</text>
<text transform="translate(19.4 128.2) rotate(-90) scale(0.9225,1)" text-anchor="middle" class="tt">Median time per item</text>
<g fill="#1428e2" fill-opacity="0.3">
<circle cx="77.2" cy="588.0" r="2.35"/>
<circle cx="77.2" cy="607.0" r="2.35"/>
<circle cx="77.2" cy="604.9" r="2.35"/>
<circle cx="77.2" cy="598.4" r="2.35"/>
<circle cx="77.2" cy="592.5" r="2.35"/>
<circle cx="77.2" cy="595.6" r="2.35"/>
<circle cx="77.2" cy="592.5" r="2.35"/>
<circle cx="77.2" cy="594.9" r="2.35"/>
<circle cx="77.2" cy="602.3" r="2.35"/>
<circle cx="77.2" cy="592.6" r="2.35"/>
<circle cx="77.2" cy="597.8" r="2.35"/>
<circle cx="77.2" cy="603.0" r="2.35"/>
<circle cx="77.2" cy="593.6" r="2.35"/>
<circle cx="77.2" cy="596.0" r="2.35"/>
<circle cx="77.2" cy="592.3" r="2.35"/>
<circle cx="77.2" cy="595.8" r="2.35"/>
<circle cx="77.2" cy="593.5" r="2.35"/>
<circle cx="77.2" cy="596.0" r="2.35"/>
<circle cx="77.2" cy="601.3" r="2.35"/>
<circle cx="77.2" cy="596.3" r="2.35"/>
<circle cx="77.2" cy="596.7" r="2.35"/>
<circle cx="77.2" cy="600.4" r="2.35"/>
<circle cx="77.2" cy="593.8" r="2.35"/>
<circle cx="77.2" cy="589.4" r="2.35"/>
<circle cx="77.2" cy="601.9" r="2.35"/>
<circle cx="77.2" cy="590.1" r="2.35"/>
<circle cx="77.2" cy="600.9" r="2.35"/>
<circle cx="77.2" cy="589.9" r="2.35"/>
<circle cx="77.2" cy="589.5" r="2.35"/>
<circle cx="77.2" cy="600.4" r="2.35"/>
<circle cx="77.2" cy="590.0" r="2.35"/>
<circle cx="77.2" cy="590.8" r="2.35"/>
<circle cx="77.2" cy="599.7" r="2.35"/>
<circle cx="77.2" cy="599.5" r="2.35"/>
<circle cx="77.2" cy="594.3" r="2.35"/>
<circle cx="77.2" cy="595.2" r="2.35"/>
<circle cx="77.2" cy="593.7" r="2.35"/>
<circle cx="77.2" cy="593.3" r="2.35"/>
<circle cx="77.2" cy="593.8" r="2.35"/>
<circle cx="77.2" cy="592.2" r="2.35"/>
<circle cx="77.2" cy="593.4" r="2.35"/>
<circle cx="77.2" cy="591.4" r="2.35"/>
<circle cx="77.2" cy="597.8" r="2.35"/>
<circle cx="77.2" cy="601.6" r="2.35"/>
<circle cx="77.2" cy="599.7" r="2.35"/>
<circle cx="77.2" cy="588.8" r="2.35"/>
<circle cx="77.2" cy="596.4" r="2.35"/>
<circle cx="77.2" cy="596.3" r="2.35"/>
<circle cx="77.2" cy="602.4" r="2.35"/>
<circle cx="77.2" cy="598.5" r="2.35"/>
<circle cx="77.2" cy="602.5" r="2.35"/>
<circle cx="77.2" cy="593.2" r="2.35"/>
<circle cx="77.2" cy="593.0" r="2.35"/>
<circle cx="77.2" cy="597.8" r="2.35"/>
<circle cx="77.2" cy="600.8" r="2.35"/>
<circle cx="77.2" cy="590.2" r="2.35"/>
<circle cx="77.2" cy="591.5" r="2.35"/>
<circle cx="77.2" cy="596.4" r="2.35"/>
<circle cx="77.2" cy="595.2" r="2.35"/>
<circle cx="77.2" cy="593.6" r="2.35"/>
<circle cx="77.2" cy="598.4" r="2.35"/>
<circle cx="77.2" cy="595.4" r="2.35"/>
<circle cx="77.2" cy="596.0" r="2.35"/>
<circle cx="77.2" cy="594.0" r="2.35"/>
<circle cx="77.2" cy="600.1" r="2.35"/>
<circle cx="77.2" cy="592.9" r="2.35"/>
<circle cx="77.2" cy="590.1" r="2.35"/>
<circle cx="77.2" cy="592.0" r="2.35"/>
<circle cx="77.2" cy="596.0" r="2.35"/>
<circle cx="77.2" cy="598.9" r="2.35"/>
<circle cx="77.2" cy="590.5" r="2.35"/>
<circle cx="77.2" cy="582.1" r="2.35"/>
<circle cx="77.2" cy="582.3" r="2.35"/>
<circle cx="90.0" cy="576.4" r="2.35"/>
<circle cx="90.0" cy="593.7" r="2.35"/>
<circle cx="90.0" cy="591.7" r="2.35"/>
<circle cx="90.0" cy="578.2" r="2.35"/>
<circle cx="90.0" cy="590.5" r="2.35"/>
<circle cx="90.0" cy="587.9" r="2.35"/>
<circle cx="90.0" cy="588.1" r="2.35"/>
<circle cx="90.0" cy="583.3" r="2.35"/>
<circle cx="90.0" cy="584.0" r="2.35"/>
<circle cx="90.0" cy="588.2" r="2.35"/>
<circle cx="90.0" cy="590.8" r="2.35"/>
<circle cx="90.0" cy="586.9" r="2.35"/>
<circle cx="90.0" cy="580.1" r="2.35"/>
<circle cx="90.0" cy="589.2" r="2.35"/>
<circle cx="90.0" cy="585.4" r="2.35"/>
<circle cx="90.0" cy="584.3" r="2.35"/>
<circle cx="90.0" cy="586.3" r="2.35"/>
<circle cx="90.0" cy="590.2" r="2.35"/>
<circle cx="90.0" cy="588.8" r="2.35"/>
<circle cx="90.0" cy="586.1" r="2.35"/>
<circle cx="90.0" cy="582.4" r="2.35"/>
<circle cx="90.0" cy="580.2" r="2.35"/>
<circle cx="90.0" cy="583.9" r="2.35"/>
<circle cx="90.0" cy="593.1" r="2.35"/>
<circle cx="90.0" cy="584.4" r="2.35"/>
<circle cx="90.0" cy="582.0" r="2.35"/>
<circle cx="90.0" cy="586.9" r="2.35"/>
<circle cx="90.0" cy="585.0" r="2.35"/>
<circle cx="90.0" cy="580.6" r="2.35"/>
<circle cx="90.0" cy="593.4" r="2.35"/>
<circle cx="90.0" cy="576.5" r="2.35"/>
<circle cx="90.0" cy="578.5" r="2.35"/>
<circle cx="90.0" cy="577.8" r="2.35"/>
<circle cx="90.0" cy="581.4" r="2.35"/>
<circle cx="90.0" cy="589.3" r="2.35"/>
<circle cx="90.0" cy="589.0" r="2.35"/>
<circle cx="90.0" cy="581.1" r="2.35"/>
<circle cx="90.0" cy="581.1" r="2.35"/>
<circle cx="90.0" cy="584.5" r="2.35"/>
<circle cx="90.0" cy="576.8" r="2.35"/>
<circle cx="90.0" cy="580.8" r="2.35"/>
<circle cx="90.0" cy="580.2" r="2.35"/>
<circle cx="90.0" cy="578.3" r="2.35"/>
<circle cx="90.0" cy="582.8" r="2.35"/>
<circle cx="90.0" cy="590.9" r="2.35"/>
<circle cx="90.0" cy="587.4" r="2.35"/>
<circle cx="90.0" cy="578.5" r="2.35"/>
<circle cx="90.0" cy="585.8" r="2.35"/>
<circle cx="90.0" cy="585.3" r="2.35"/>
<circle cx="90.0" cy="590.1" r="2.35"/>
<circle cx="90.0" cy="582.9" r="2.35"/>
<circle cx="90.0" cy="588.1" r="2.35"/>
<circle cx="90.0" cy="585.7" r="2.35"/>
<circle cx="90.0" cy="577.9" r="2.35"/>
<circle cx="90.0" cy="587.2" r="2.35"/>
<circle cx="90.0" cy="579.7" r="2.35"/>
<circle cx="90.0" cy="582.6" r="2.35"/>
<circle cx="90.0" cy="586.3" r="2.35"/>
<circle cx="90.0" cy="587.3" r="2.35"/>
<circle cx="90.0" cy="583.2" r="2.35"/>
<circle cx="90.0" cy="590.7" r="2.35"/>
<circle cx="90.0" cy="583.8" r="2.35"/>
<circle cx="90.0" cy="590.9" r="2.35"/>
<circle cx="90.0" cy="582.6" r="2.35"/>
<circle cx="90.0" cy="593.1" r="2.35"/>
<circle cx="90.0" cy="580.7" r="2.35"/>
<circle cx="90.0" cy="588.9" r="2.35"/>
<circle cx="90.0" cy="587.1" r="2.35"/>
<circle cx="90.0" cy="577.6" r="2.35"/>
<circle cx="90.0" cy="591.1" r="2.35"/>
<circle cx="90.0" cy="592.3" r="2.35"/>
<circle cx="90.0" cy="588.3" r="2.35"/>
<circle cx="90.0" cy="589.5" r="2.35"/>
<circle cx="90.0" cy="581.8" r="2.35"/>
<circle cx="90.0" cy="585.0" r="2.35"/>
<circle cx="90.0" cy="586.5" r="2.35"/>
<circle cx="90.0" cy="587.8" r="2.35"/>
<circle cx="90.0" cy="589.7" r="2.35"/>
<circle cx="90.0" cy="583.7" r="2.35"/>
<circle cx="90.0" cy="580.4" r="2.35"/>
<circle cx="90.0" cy="566.8" r="2.35"/>
<circle cx="90.0" cy="569.4" r="2.35"/>
<circle cx="90.0" cy="598.0" r="2.35"/>
<circle cx="90.0" cy="602.1" r="2.35"/>
<circle cx="90.0" cy="602.3" r="2.35"/>
<circle cx="90.0" cy="605.2" r="2.35"/>
<circle cx="102.9" cy="584.9" r="2.35"/>
<circle cx="102.9" cy="607.0" r="2.35"/>
<circle cx="102.9" cy="604.5" r="2.35"/>
<circle cx="102.9" cy="603.1" r="2.35"/>
<circle cx="102.9" cy="585.2" r="2.35"/>
<circle cx="102.9" cy="590.7" r="2.35"/>
<circle cx="102.9" cy="589.8" r="2.35"/>
<circle cx="102.9" cy="591.7" r="2.35"/>
<circle cx="102.9" cy="591.2" r="2.35"/>
<circle cx="102.9" cy="591.8" r="2.35"/>
<circle cx="102.9" cy="598.5" r="2.35"/>
<circle cx="102.9" cy="591.4" r="2.35"/>
<circle cx="102.9" cy="596.6" r="2.35"/>
<circle cx="102.9" cy="596.7" r="2.35"/>
<circle cx="102.9" cy="601.3" r="2.35"/>
<circle cx="102.9" cy="600.4" r="2.35"/>
<circle cx="102.9" cy="586.6" r="2.35"/>
<circle cx="102.9" cy="597.6" r="2.35"/>
<circle cx="102.9" cy="591.2" r="2.35"/>
<circle cx="102.9" cy="588.2" r="2.35"/>
<circle cx="102.9" cy="589.3" r="2.35"/>
<circle cx="102.9" cy="587.8" r="2.35"/>
<circle cx="102.9" cy="590.8" r="2.35"/>
<circle cx="102.9" cy="587.8" r="2.35"/>
<circle cx="102.9" cy="600.1" r="2.35"/>
<circle cx="102.9" cy="595.9" r="2.35"/>
<circle cx="102.9" cy="596.2" r="2.35"/>
<circle cx="102.9" cy="589.4" r="2.35"/>
<circle cx="102.9" cy="600.3" r="2.35"/>
<circle cx="102.9" cy="589.1" r="2.35"/>
<circle cx="102.9" cy="590.4" r="2.35"/>
<circle cx="102.9" cy="592.3" r="2.35"/>
<circle cx="102.9" cy="593.7" r="2.35"/>
<circle cx="102.9" cy="601.3" r="2.35"/>
<circle cx="102.9" cy="589.5" r="2.35"/>
<circle cx="102.9" cy="595.8" r="2.35"/>
<circle cx="102.9" cy="593.3" r="2.35"/>
<circle cx="102.9" cy="585.2" r="2.35"/>
<circle cx="102.9" cy="586.2" r="2.35"/>
<circle cx="102.9" cy="592.0" r="2.35"/>
<circle cx="102.9" cy="596.1" r="2.35"/>
<circle cx="102.9" cy="595.6" r="2.35"/>
<circle cx="102.9" cy="596.6" r="2.35"/>
<circle cx="102.9" cy="593.8" r="2.35"/>
<circle cx="102.9" cy="590.5" r="2.35"/>
<circle cx="102.9" cy="596.3" r="2.35"/>
<circle cx="102.9" cy="586.8" r="2.35"/>
<circle cx="102.9" cy="591.3" r="2.35"/>
<circle cx="102.9" cy="590.1" r="2.35"/>
<circle cx="102.9" cy="588.5" r="2.35"/>
<circle cx="102.9" cy="589.8" r="2.35"/>
<circle cx="102.9" cy="593.2" r="2.35"/>
<circle cx="102.9" cy="588.2" r="2.35"/>
<circle cx="102.9" cy="590.7" r="2.35"/>
<circle cx="102.9" cy="594.4" r="2.35"/>
<circle cx="102.9" cy="587.6" r="2.35"/>
<circle cx="102.9" cy="596.1" r="2.35"/>
<circle cx="102.9" cy="588.2" r="2.35"/>
<circle cx="102.9" cy="595.1" r="2.35"/>
<circle cx="102.9" cy="591.1" r="2.35"/>
<circle cx="102.9" cy="594.1" r="2.35"/>
<circle cx="102.9" cy="594.1" r="2.35"/>
<circle cx="102.9" cy="595.0" r="2.35"/>
<circle cx="102.9" cy="594.4" r="2.35"/>
<circle cx="102.9" cy="587.0" r="2.35"/>
<circle cx="102.9" cy="598.4" r="2.35"/>
<circle cx="102.9" cy="593.1" r="2.35"/>
<circle cx="102.9" cy="593.6" r="2.35"/>
<circle cx="102.9" cy="590.5" r="2.35"/>
<circle cx="102.9" cy="597.1" r="2.35"/>
<circle cx="102.9" cy="594.1" r="2.35"/>
<circle cx="102.9" cy="577.8" r="2.35"/>
<circle cx="115.8" cy="586.0" r="2.35"/>
<circle cx="115.8" cy="606.0" r="2.35"/>
<circle cx="115.8" cy="604.8" r="2.35"/>
<circle cx="115.8" cy="599.5" r="2.35"/>
<circle cx="115.8" cy="591.2" r="2.35"/>
<circle cx="115.8" cy="594.3" r="2.35"/>
<circle cx="115.8" cy="603.1" r="2.35"/>
<circle cx="115.8" cy="593.2" r="2.35"/>
<circle cx="115.8" cy="599.0" r="2.35"/>
<circle cx="115.8" cy="600.0" r="2.35"/>
<circle cx="115.8" cy="594.6" r="2.35"/>
<circle cx="115.8" cy="597.0" r="2.35"/>
<circle cx="115.8" cy="597.7" r="2.35"/>
<circle cx="115.8" cy="597.0" r="2.35"/>
<circle cx="115.8" cy="590.1" r="2.35"/>
<circle cx="115.8" cy="605.3" r="2.35"/>
<circle cx="115.8" cy="595.0" r="2.35"/>
<circle cx="115.8" cy="591.2" r="2.35"/>
<circle cx="115.8" cy="590.5" r="2.35"/>
<circle cx="115.8" cy="598.8" r="2.35"/>
<circle cx="115.8" cy="587.6" r="2.35"/>
<circle cx="115.8" cy="588.3" r="2.35"/>
<circle cx="115.8" cy="604.2" r="2.35"/>
<circle cx="115.8" cy="600.6" r="2.35"/>
<circle cx="115.8" cy="605.2" r="2.35"/>
<circle cx="115.8" cy="605.6" r="2.35"/>
<circle cx="115.8" cy="599.8" r="2.35"/>
<circle cx="115.8" cy="605.6" r="2.35"/>
<circle cx="115.8" cy="592.2" r="2.35"/>
<circle cx="115.8" cy="597.0" r="2.35"/>
<circle cx="115.8" cy="602.0" r="2.35"/>
<circle cx="115.8" cy="595.3" r="2.35"/>
<circle cx="115.8" cy="604.5" r="2.35"/>
<circle cx="115.8" cy="596.6" r="2.35"/>
<circle cx="115.8" cy="601.4" r="2.35"/>
<circle cx="115.8" cy="596.7" r="2.35"/>
<circle cx="115.8" cy="588.3" r="2.35"/>
<circle cx="115.8" cy="598.2" r="2.35"/>
<circle cx="115.8" cy="604.8" r="2.35"/>
<circle cx="115.8" cy="600.3" r="2.35"/>
<circle cx="115.8" cy="591.4" r="2.35"/>
<circle cx="115.8" cy="596.1" r="2.35"/>
<circle cx="115.8" cy="594.5" r="2.35"/>
<circle cx="115.8" cy="603.0" r="2.35"/>
<circle cx="115.8" cy="597.5" r="2.35"/>
<circle cx="115.8" cy="602.4" r="2.35"/>
<circle cx="115.8" cy="588.8" r="2.35"/>
<circle cx="115.8" cy="590.9" r="2.35"/>
<circle cx="115.8" cy="588.1" r="2.35"/>
<circle cx="115.8" cy="600.1" r="2.35"/>
<circle cx="115.8" cy="587.1" r="2.35"/>
<circle cx="115.8" cy="599.3" r="2.35"/>
<circle cx="115.8" cy="592.2" r="2.35"/>
<circle cx="115.8" cy="595.5" r="2.35"/>
<circle cx="115.8" cy="597.7" r="2.35"/>
<circle cx="115.8" cy="597.0" r="2.35"/>
<circle cx="115.8" cy="603.6" r="2.35"/>
<circle cx="115.8" cy="600.0" r="2.35"/>
<circle cx="115.8" cy="598.8" r="2.35"/>
<circle cx="115.8" cy="594.6" r="2.35"/>
<circle cx="115.8" cy="592.8" r="2.35"/>
<circle cx="115.8" cy="586.4" r="2.35"/>
<circle cx="115.8" cy="592.5" r="2.35"/>
<circle cx="115.8" cy="598.1" r="2.35"/>
<circle cx="115.8" cy="595.7" r="2.35"/>
<circle cx="115.8" cy="597.4" r="2.35"/>
<circle cx="115.8" cy="595.2" r="2.35"/>
<circle cx="115.8" cy="593.9" r="2.35"/>
<circle cx="115.8" cy="590.2" r="2.35"/>
<circle cx="115.8" cy="595.8" r="2.35"/>
<circle cx="115.8" cy="592.6" r="2.35"/>
<circle cx="115.8" cy="597.6" r="2.35"/>
<circle cx="115.8" cy="599.1" r="2.35"/>
<circle cx="115.8" cy="589.3" r="2.35"/>
<circle cx="115.8" cy="602.7" r="2.35"/>
<circle cx="115.8" cy="602.4" r="2.35"/>
<circle cx="115.8" cy="601.6" r="2.35"/>
<circle cx="115.8" cy="602.4" r="2.35"/>
<circle cx="115.8" cy="601.3" r="2.35"/>
<circle cx="115.8" cy="603.8" r="2.35"/>
<circle cx="115.8" cy="592.1" r="2.35"/>
<circle cx="115.8" cy="596.0" r="2.35"/>
<circle cx="115.8" cy="590.3" r="2.35"/>
<circle cx="115.8" cy="603.5" r="2.35"/>
<circle cx="115.8" cy="602.5" r="2.35"/>
<circle cx="115.8" cy="592.4" r="2.35"/>
<circle cx="115.8" cy="600.6" r="2.35"/>
<circle cx="115.8" cy="605.6" r="2.35"/>
<circle cx="128.6" cy="588.6" r="2.35"/>
<circle cx="128.6" cy="615.2" r="2.35"/>
<circle cx="128.6" cy="590.8" r="2.35"/>
<circle cx="128.6" cy="612.5" r="2.35"/>
<circle cx="128.6" cy="611.4" r="2.35"/>
<circle cx="128.6" cy="610.0" r="2.35"/>
<circle cx="128.6" cy="592.8" r="2.35"/>
<circle cx="128.6" cy="608.5" r="2.35"/>
<circle cx="128.6" cy="602.7" r="2.35"/>
<circle cx="128.6" cy="592.9" r="2.35"/>
<circle cx="128.6" cy="605.3" r="2.35"/>
<circle cx="128.6" cy="599.7" r="2.35"/>
<circle cx="128.6" cy="601.2" r="2.35"/>
<circle cx="128.6" cy="596.5" r="2.35"/>
<circle cx="128.6" cy="591.9" r="2.35"/>
<circle cx="128.6" cy="598.0" r="2.35"/>
<circle cx="128.6" cy="593.1" r="2.35"/>
<circle cx="128.6" cy="608.3" r="2.35"/>
<circle cx="128.6" cy="592.4" r="2.35"/>
<circle cx="128.6" cy="595.4" r="2.35"/>
<circle cx="128.6" cy="604.0" r="2.35"/>
<circle cx="128.6" cy="595.1" r="2.35"/>
<circle cx="128.6" cy="604.9" r="2.35"/>
<circle cx="128.6" cy="597.1" r="2.35"/>
<circle cx="128.6" cy="602.5" r="2.35"/>
<circle cx="128.6" cy="601.1" r="2.35"/>
<circle cx="128.6" cy="600.4" r="2.35"/>
<circle cx="128.6" cy="600.1" r="2.35"/>
<circle cx="128.6" cy="596.7" r="2.35"/>
<circle cx="128.6" cy="604.0" r="2.35"/>
<circle cx="128.6" cy="601.5" r="2.35"/>
<circle cx="128.6" cy="603.7" r="2.35"/>
<circle cx="128.6" cy="607.2" r="2.35"/>
<circle cx="128.6" cy="602.3" r="2.35"/>
<circle cx="128.6" cy="599.2" r="2.35"/>
<circle cx="128.6" cy="598.3" r="2.35"/>
<circle cx="128.6" cy="594.5" r="2.35"/>
<circle cx="128.6" cy="595.0" r="2.35"/>
<circle cx="128.6" cy="593.3" r="2.35"/>
<circle cx="128.6" cy="592.9" r="2.35"/>
<circle cx="128.6" cy="600.5" r="2.35"/>
<circle cx="128.6" cy="605.5" r="2.35"/>
<circle cx="128.6" cy="593.7" r="2.35"/>
<circle cx="128.6" cy="601.4" r="2.35"/>
<circle cx="128.6" cy="600.1" r="2.35"/>
<circle cx="128.6" cy="593.5" r="2.35"/>
<circle cx="128.6" cy="598.7" r="2.35"/>
<circle cx="128.6" cy="593.6" r="2.35"/>
<circle cx="128.6" cy="598.8" r="2.35"/>
<circle cx="128.6" cy="597.7" r="2.35"/>
<circle cx="128.6" cy="594.8" r="2.35"/>
<circle cx="128.6" cy="594.3" r="2.35"/>
<circle cx="128.6" cy="594.0" r="2.35"/>
<circle cx="128.6" cy="602.0" r="2.35"/>
<circle cx="128.6" cy="599.0" r="2.35"/>
<circle cx="128.6" cy="602.3" r="2.35"/>
<circle cx="128.6" cy="592.5" r="2.35"/>
<circle cx="128.6" cy="599.3" r="2.35"/>
<circle cx="128.6" cy="601.1" r="2.35"/>
<circle cx="128.6" cy="604.2" r="2.35"/>
<circle cx="128.6" cy="608.2" r="2.35"/>
<circle cx="128.6" cy="596.6" r="2.35"/>
<circle cx="128.6" cy="591.9" r="2.35"/>
<circle cx="128.6" cy="599.1" r="2.35"/>
<circle cx="128.6" cy="602.4" r="2.35"/>
<circle cx="128.6" cy="595.6" r="2.35"/>
<circle cx="128.6" cy="606.5" r="2.35"/>
<circle cx="128.6" cy="602.9" r="2.35"/>
<circle cx="128.6" cy="607.4" r="2.35"/>
<circle cx="128.6" cy="601.8" r="2.35"/>
<circle cx="141.5" cy="592.7" r="2.35"/>
<circle cx="141.5" cy="614.2" r="2.35"/>
<circle cx="141.5" cy="601.6" r="2.35"/>
<circle cx="141.5" cy="605.3" r="2.35"/>
<circle cx="141.5" cy="599.4" r="2.35"/>
<circle cx="141.5" cy="607.2" r="2.35"/>
<circle cx="141.5" cy="608.8" r="2.35"/>
<circle cx="141.5" cy="609.9" r="2.35"/>
<circle cx="141.5" cy="608.3" r="2.35"/>
<circle cx="141.5" cy="606.9" r="2.35"/>
<circle cx="141.5" cy="593.6" r="2.35"/>
<circle cx="141.5" cy="599.9" r="2.35"/>
<circle cx="141.5" cy="604.5" r="2.35"/>
<circle cx="141.5" cy="600.3" r="2.35"/>
<circle cx="141.5" cy="594.6" r="2.35"/>
<circle cx="141.5" cy="605.5" r="2.35"/>
<circle cx="141.5" cy="603.7" r="2.35"/>
<circle cx="141.5" cy="598.6" r="2.35"/>
<circle cx="141.5" cy="600.0" r="2.35"/>
<circle cx="141.5" cy="596.0" r="2.35"/>
<circle cx="141.5" cy="597.2" r="2.35"/>
<circle cx="141.5" cy="602.6" r="2.35"/>
<circle cx="141.5" cy="598.1" r="2.35"/>
<circle cx="141.5" cy="609.1" r="2.35"/>
<circle cx="141.5" cy="602.3" r="2.35"/>
<circle cx="141.5" cy="604.6" r="2.35"/>
<circle cx="141.5" cy="606.8" r="2.35"/>
<circle cx="141.5" cy="614.1" r="2.35"/>
<circle cx="141.5" cy="608.5" r="2.35"/>
<circle cx="141.5" cy="605.4" r="2.35"/>
<circle cx="141.5" cy="602.1" r="2.35"/>
<circle cx="141.5" cy="596.7" r="2.35"/>
<circle cx="141.5" cy="600.6" r="2.35"/>
<circle cx="141.5" cy="609.2" r="2.35"/>
<circle cx="141.5" cy="605.3" r="2.35"/>
<circle cx="141.5" cy="600.2" r="2.35"/>
<circle cx="141.5" cy="606.1" r="2.35"/>
<circle cx="141.5" cy="612.1" r="2.35"/>
<circle cx="141.5" cy="606.6" r="2.35"/>
<circle cx="141.5" cy="601.7" r="2.35"/>
<circle cx="141.5" cy="605.3" r="2.35"/>
<circle cx="141.5" cy="595.8" r="2.35"/>
<circle cx="141.5" cy="606.4" r="2.35"/>
<circle cx="141.5" cy="601.8" r="2.35"/>
<circle cx="141.5" cy="596.5" r="2.35"/>
<circle cx="141.5" cy="593.0" r="2.35"/>
<circle cx="141.5" cy="610.2" r="2.35"/>
<circle cx="141.5" cy="606.4" r="2.35"/>
<circle cx="141.5" cy="596.0" r="2.35"/>
<circle cx="141.5" cy="595.0" r="2.35"/>
<circle cx="141.5" cy="610.9" r="2.35"/>
<circle cx="141.5" cy="608.4" r="2.35"/>
<circle cx="141.5" cy="600.9" r="2.35"/>
<circle cx="141.5" cy="601.0" r="2.35"/>
<circle cx="141.5" cy="594.6" r="2.35"/>
<circle cx="141.5" cy="612.6" r="2.35"/>
<circle cx="141.5" cy="601.9" r="2.35"/>
<circle cx="141.5" cy="606.3" r="2.35"/>
<circle cx="141.5" cy="603.8" r="2.35"/>
<circle cx="141.5" cy="595.1" r="2.35"/>
<circle cx="141.5" cy="593.5" r="2.35"/>
<circle cx="141.5" cy="601.8" r="2.35"/>
<circle cx="141.5" cy="595.0" r="2.35"/>
<circle cx="141.5" cy="605.3" r="2.35"/>
<circle cx="141.5" cy="594.1" r="2.35"/>
<circle cx="141.5" cy="605.7" r="2.35"/>
<circle cx="141.5" cy="608.2" r="2.35"/>
<circle cx="141.5" cy="595.9" r="2.35"/>
<circle cx="141.5" cy="606.4" r="2.35"/>
<circle cx="141.5" cy="594.2" r="2.35"/>
<circle cx="141.5" cy="607.1" r="2.35"/>
<circle cx="141.5" cy="602.3" r="2.35"/>
<circle cx="141.5" cy="596.7" r="2.35"/>
<circle cx="141.5" cy="601.4" r="2.35"/>
<circle cx="141.5" cy="604.9" r="2.35"/>
<circle cx="141.5" cy="598.8" r="2.35"/>
<circle cx="141.5" cy="593.6" r="2.35"/>
<circle cx="141.5" cy="605.2" r="2.35"/>
<circle cx="141.5" cy="607.9" r="2.35"/>
<circle cx="141.5" cy="607.6" r="2.35"/>
<circle cx="141.5" cy="610.8" r="2.35"/>
<circle cx="141.5" cy="606.4" r="2.35"/>
<circle cx="141.5" cy="605.7" r="2.35"/>
<circle cx="141.5" cy="603.7" r="2.35"/>
<circle cx="141.5" cy="607.9" r="2.35"/>
<circle cx="141.5" cy="601.1" r="2.35"/>
<circle cx="141.5" cy="593.9" r="2.35"/>
<circle cx="141.5" cy="607.9" r="2.35"/>
<circle cx="141.5" cy="588.8" r="2.35"/>
<circle cx="167.2" cy="596.2" r="2.35"/>
<circle cx="167.2" cy="616.2" r="2.35"/>
<circle cx="167.2" cy="597.0" r="2.35"/>
<circle cx="167.2" cy="611.4" r="2.35"/>
<circle cx="167.2" cy="606.0" r="2.35"/>
<circle cx="167.2" cy="609.3" r="2.35"/>
<circle cx="167.2" cy="603.0" r="2.35"/>
<circle cx="167.2" cy="601.3" r="2.35"/>
<circle cx="167.2" cy="614.5" r="2.35"/>
<circle cx="167.2" cy="607.1" r="2.35"/>
<circle cx="167.2" cy="605.2" r="2.35"/>
<circle cx="167.2" cy="612.4" r="2.35"/>
<circle cx="167.2" cy="603.8" r="2.35"/>
<circle cx="167.2" cy="611.9" r="2.35"/>
<circle cx="167.2" cy="612.6" r="2.35"/>
<circle cx="167.2" cy="598.3" r="2.35"/>
<circle cx="167.2" cy="597.9" r="2.35"/>
<circle cx="167.2" cy="605.6" r="2.35"/>
<circle cx="167.2" cy="612.7" r="2.35"/>
<circle cx="167.2" cy="608.4" r="2.35"/>
<circle cx="167.2" cy="615.8" r="2.35"/>
<circle cx="167.2" cy="610.0" r="2.35"/>
<circle cx="167.2" cy="601.4" r="2.35"/>
<circle cx="167.2" cy="607.0" r="2.35"/>
<circle cx="167.2" cy="608.7" r="2.35"/>
<circle cx="167.2" cy="598.7" r="2.35"/>
<circle cx="167.2" cy="604.4" r="2.35"/>
<circle cx="167.2" cy="597.2" r="2.35"/>
<circle cx="167.2" cy="608.3" r="2.35"/>
<circle cx="167.2" cy="599.6" r="2.35"/>
<circle cx="167.2" cy="602.4" r="2.35"/>
<circle cx="167.2" cy="607.9" r="2.35"/>
<circle cx="167.2" cy="601.1" r="2.35"/>
<circle cx="167.2" cy="615.1" r="2.35"/>
<circle cx="167.2" cy="601.3" r="2.35"/>
<circle cx="167.2" cy="612.8" r="2.35"/>
<circle cx="167.2" cy="608.4" r="2.35"/>
<circle cx="167.2" cy="598.2" r="2.35"/>
<circle cx="167.2" cy="604.5" r="2.35"/>
<circle cx="167.2" cy="599.7" r="2.35"/>
<circle cx="167.2" cy="603.4" r="2.35"/>
<circle cx="167.2" cy="604.1" r="2.35"/>
<circle cx="167.2" cy="602.9" r="2.35"/>
<circle cx="167.2" cy="609.7" r="2.35"/>
<circle cx="167.2" cy="611.5" r="2.35"/>
<circle cx="167.2" cy="611.8" r="2.35"/>
<circle cx="167.2" cy="614.2" r="2.35"/>
<circle cx="167.2" cy="609.2" r="2.35"/>
<circle cx="167.2" cy="604.6" r="2.35"/>
<circle cx="167.2" cy="604.3" r="2.35"/>
<circle cx="167.2" cy="608.2" r="2.35"/>
<circle cx="167.2" cy="603.9" r="2.35"/>
<circle cx="167.2" cy="602.1" r="2.35"/>
<circle cx="167.2" cy="603.3" r="2.35"/>
<circle cx="167.2" cy="615.3" r="2.35"/>
<circle cx="167.2" cy="601.4" r="2.35"/>
<circle cx="167.2" cy="609.1" r="2.35"/>
<circle cx="167.2" cy="597.3" r="2.35"/>
<circle cx="167.2" cy="600.7" r="2.35"/>
<circle cx="167.2" cy="604.7" r="2.35"/>
<circle cx="167.2" cy="611.5" r="2.35"/>
<circle cx="167.2" cy="608.6" r="2.35"/>
<circle cx="167.2" cy="602.4" r="2.35"/>
<circle cx="167.2" cy="610.9" r="2.35"/>
<circle cx="167.2" cy="603.5" r="2.35"/>
<circle cx="167.2" cy="609.1" r="2.35"/>
<circle cx="167.2" cy="608.3" r="2.35"/>
<circle cx="167.2" cy="610.4" r="2.35"/>
<circle cx="167.2" cy="612.2" r="2.35"/>
<circle cx="167.2" cy="605.4" r="2.35"/>
<circle cx="167.2" cy="604.4" r="2.35"/>
<circle cx="167.2" cy="601.9" r="2.35"/>
<circle cx="167.2" cy="610.5" r="2.35"/>
<circle cx="167.2" cy="610.1" r="2.35"/>
<circle cx="167.2" cy="604.6" r="2.35"/>
<circle cx="167.2" cy="611.8" r="2.35"/>
<circle cx="167.2" cy="600.1" r="2.35"/>
<circle cx="167.2" cy="602.7" r="2.35"/>
<circle cx="167.2" cy="601.9" r="2.35"/>
<circle cx="167.2" cy="604.5" r="2.35"/>
<circle cx="167.2" cy="612.2" r="2.35"/>
<circle cx="167.2" cy="602.5" r="2.35"/>
<circle cx="167.2" cy="608.7" r="2.35"/>
<circle cx="167.2" cy="602.3" r="2.35"/>
<circle cx="167.2" cy="613.0" r="2.35"/>
<circle cx="167.2" cy="604.6" r="2.35"/>
<circle cx="167.2" cy="607.5" r="2.35"/>
<circle cx="167.2" cy="597.9" r="2.35"/>
<circle cx="180.1" cy="558.4" r="2.35"/>
<circle cx="180.1" cy="588.6" r="2.35"/>
<circle cx="180.1" cy="586.0" r="2.35"/>
<circle cx="180.1" cy="585.0" r="2.35"/>
<circle cx="180.1" cy="583.4" r="2.35"/>
<circle cx="180.1" cy="580.0" r="2.35"/>
<circle cx="180.1" cy="574.0" r="2.35"/>
<circle cx="180.1" cy="576.7" r="2.35"/>
<circle cx="180.1" cy="582.5" r="2.35"/>
<circle cx="180.1" cy="569.9" r="2.35"/>
<circle cx="180.1" cy="562.6" r="2.35"/>
<circle cx="180.1" cy="569.2" r="2.35"/>
<circle cx="180.1" cy="561.2" r="2.35"/>
<circle cx="180.1" cy="571.0" r="2.35"/>
<circle cx="180.1" cy="579.8" r="2.35"/>
<circle cx="180.1" cy="576.6" r="2.35"/>
<circle cx="180.1" cy="579.1" r="2.35"/>
<circle cx="180.1" cy="560.6" r="2.35"/>
<circle cx="180.1" cy="566.5" r="2.35"/>
<circle cx="180.1" cy="569.4" r="2.35"/>
<circle cx="180.1" cy="575.4" r="2.35"/>
<circle cx="180.1" cy="576.4" r="2.35"/>
<circle cx="180.1" cy="558.9" r="2.35"/>
<circle cx="180.1" cy="573.6" r="2.35"/>
<circle cx="180.1" cy="573.1" r="2.35"/>
<circle cx="180.1" cy="579.2" r="2.35"/>
<circle cx="180.1" cy="568.7" r="2.35"/>
<circle cx="180.1" cy="565.7" r="2.35"/>
<circle cx="180.1" cy="578.8" r="2.35"/>
<circle cx="180.1" cy="573.2" r="2.35"/>
<circle cx="180.1" cy="563.6" r="2.35"/>
<circle cx="180.1" cy="572.8" r="2.35"/>
<circle cx="180.1" cy="570.2" r="2.35"/>
<circle cx="180.1" cy="564.4" r="2.35"/>
<circle cx="180.1" cy="572.4" r="2.35"/>
<circle cx="180.1" cy="562.6" r="2.35"/>
<circle cx="180.1" cy="581.7" r="2.35"/>
<circle cx="180.1" cy="575.7" r="2.35"/>
<circle cx="180.1" cy="580.6" r="2.35"/>
<circle cx="180.1" cy="577.4" r="2.35"/>
<circle cx="180.1" cy="573.6" r="2.35"/>
<circle cx="180.1" cy="568.0" r="2.35"/>
<circle cx="180.1" cy="571.1" r="2.35"/>
<circle cx="180.1" cy="566.1" r="2.35"/>
<circle cx="180.1" cy="570.1" r="2.35"/>
<circle cx="180.1" cy="567.4" r="2.35"/>
<circle cx="180.1" cy="566.4" r="2.35"/>
<circle cx="180.1" cy="562.5" r="2.35"/>
<circle cx="180.1" cy="566.2" r="2.35"/>
<circle cx="180.1" cy="560.4" r="2.35"/>
<circle cx="180.1" cy="580.6" r="2.35"/>
<circle cx="180.1" cy="573.5" r="2.35"/>
<circle cx="180.1" cy="575.6" r="2.35"/>
<circle cx="180.1" cy="578.6" r="2.35"/>
<circle cx="180.1" cy="567.4" r="2.35"/>
<circle cx="180.1" cy="581.3" r="2.35"/>
<circle cx="180.1" cy="565.0" r="2.35"/>
<circle cx="180.1" cy="571.2" r="2.35"/>
<circle cx="180.1" cy="581.6" r="2.35"/>
<circle cx="180.1" cy="578.9" r="2.35"/>
<circle cx="180.1" cy="578.1" r="2.35"/>
<circle cx="180.1" cy="565.8" r="2.35"/>
<circle cx="180.1" cy="569.4" r="2.35"/>
<circle cx="180.1" cy="564.8" r="2.35"/>
<circle cx="180.1" cy="571.7" r="2.35"/>
<circle cx="180.1" cy="559.3" r="2.35"/>
<circle cx="180.1" cy="568.0" r="2.35"/>
<circle cx="180.1" cy="566.2" r="2.35"/>
<circle cx="180.1" cy="575.3" r="2.35"/>
<circle cx="180.1" cy="565.1" r="2.35"/>
<circle cx="180.1" cy="574.2" r="2.35"/>
<circle cx="180.1" cy="575.5" r="2.35"/>
<circle cx="180.1" cy="575.6" r="2.35"/>
<circle cx="180.1" cy="578.4" r="2.35"/>
<circle cx="180.1" cy="562.2" r="2.35"/>
<circle cx="180.1" cy="571.8" r="2.35"/>
<circle cx="180.1" cy="569.4" r="2.35"/>
<circle cx="180.1" cy="581.0" r="2.35"/>
<circle cx="180.1" cy="566.6" r="2.35"/>
<circle cx="180.1" cy="573.7" r="2.35"/>
<circle cx="180.1" cy="567.9" r="2.35"/>
<circle cx="180.1" cy="564.0" r="2.35"/>
<circle cx="180.1" cy="570.5" r="2.35"/>
<circle cx="180.1" cy="564.9" r="2.35"/>
<circle cx="180.1" cy="570.3" r="2.35"/>
<circle cx="180.1" cy="572.9" r="2.35"/>
<circle cx="180.1" cy="561.3" r="2.35"/>
<circle cx="180.1" cy="577.8" r="2.35"/>
<circle cx="180.1" cy="553.7" r="2.35"/>
<circle cx="180.1" cy="553.9" r="2.35"/>
<circle cx="180.1" cy="593.9" r="2.35"/>
<circle cx="192.9" cy="577.8" r="2.35"/>
<circle cx="192.9" cy="613.2" r="2.35"/>
<circle cx="192.9" cy="580.0" r="2.35"/>
<circle cx="192.9" cy="611.1" r="2.35"/>
<circle cx="192.9" cy="609.2" r="2.35"/>
<circle cx="192.9" cy="608.4" r="2.35"/>
<circle cx="192.9" cy="606.8" r="2.35"/>
<circle cx="192.9" cy="605.9" r="2.35"/>
<circle cx="192.9" cy="596.6" r="2.35"/>
<circle cx="192.9" cy="600.0" r="2.35"/>
<circle cx="192.9" cy="596.2" r="2.35"/>
<circle cx="192.9" cy="596.8" r="2.35"/>
<circle cx="192.9" cy="587.4" r="2.35"/>
<circle cx="192.9" cy="584.2" r="2.35"/>
<circle cx="192.9" cy="598.5" r="2.35"/>
<circle cx="192.9" cy="595.0" r="2.35"/>
<circle cx="192.9" cy="585.4" r="2.35"/>
<circle cx="192.9" cy="598.5" r="2.35"/>
<circle cx="192.9" cy="599.5" r="2.35"/>
<circle cx="192.9" cy="597.2" r="2.35"/>
<circle cx="192.9" cy="592.1" r="2.35"/>
<circle cx="192.9" cy="598.5" r="2.35"/>
<circle cx="192.9" cy="600.5" r="2.35"/>
<circle cx="192.9" cy="597.5" r="2.35"/>
<circle cx="192.9" cy="598.3" r="2.35"/>
<circle cx="192.9" cy="595.1" r="2.35"/>
<circle cx="192.9" cy="601.7" r="2.35"/>
<circle cx="192.9" cy="588.7" r="2.35"/>
<circle cx="192.9" cy="596.3" r="2.35"/>
<circle cx="192.9" cy="583.2" r="2.35"/>
<circle cx="192.9" cy="593.8" r="2.35"/>
<circle cx="192.9" cy="585.0" r="2.35"/>
<circle cx="192.9" cy="589.4" r="2.35"/>
<circle cx="192.9" cy="588.8" r="2.35"/>
<circle cx="192.9" cy="594.4" r="2.35"/>
<circle cx="192.9" cy="589.5" r="2.35"/>
<circle cx="192.9" cy="591.7" r="2.35"/>
<circle cx="192.9" cy="585.0" r="2.35"/>
<circle cx="192.9" cy="586.3" r="2.35"/>
<circle cx="192.9" cy="605.1" r="2.35"/>
<circle cx="192.9" cy="585.7" r="2.35"/>
<circle cx="192.9" cy="592.9" r="2.35"/>
<circle cx="192.9" cy="597.5" r="2.35"/>
<circle cx="192.9" cy="600.4" r="2.35"/>
<circle cx="192.9" cy="597.6" r="2.35"/>
<circle cx="192.9" cy="586.3" r="2.35"/>
<circle cx="192.9" cy="589.0" r="2.35"/>
<circle cx="192.9" cy="595.2" r="2.35"/>
<circle cx="192.9" cy="586.6" r="2.35"/>
<circle cx="192.9" cy="597.1" r="2.35"/>
<circle cx="192.9" cy="587.7" r="2.35"/>
<circle cx="192.9" cy="596.8" r="2.35"/>
<circle cx="192.9" cy="603.3" r="2.35"/>
<circle cx="192.9" cy="594.4" r="2.35"/>
<circle cx="192.9" cy="604.4" r="2.35"/>
<circle cx="192.9" cy="585.7" r="2.35"/>
<circle cx="192.9" cy="591.2" r="2.35"/>
<circle cx="192.9" cy="584.5" r="2.35"/>
<circle cx="192.9" cy="597.0" r="2.35"/>
<circle cx="192.9" cy="584.4" r="2.35"/>
<circle cx="192.9" cy="597.9" r="2.35"/>
<circle cx="192.9" cy="585.0" r="2.35"/>
<circle cx="192.9" cy="605.1" r="2.35"/>
<circle cx="192.9" cy="600.6" r="2.35"/>
<circle cx="192.9" cy="597.9" r="2.35"/>
<circle cx="192.9" cy="586.2" r="2.35"/>
<circle cx="192.9" cy="583.5" r="2.35"/>
<circle cx="192.9" cy="593.7" r="2.35"/>
<circle cx="192.9" cy="592.6" r="2.35"/>
<circle cx="192.9" cy="591.8" r="2.35"/>
<circle cx="192.9" cy="593.6" r="2.35"/>
<circle cx="192.9" cy="604.5" r="2.35"/>
<circle cx="192.9" cy="582.4" r="2.35"/>
<circle cx="192.9" cy="599.7" r="2.35"/>
<circle cx="192.9" cy="585.3" r="2.35"/>
<circle cx="192.9" cy="595.7" r="2.35"/>
<circle cx="192.9" cy="571.5" r="2.35"/>
<circle cx="192.9" cy="574.1" r="2.35"/>
<circle cx="218.6" cy="599.6" r="2.35"/>
<circle cx="218.6" cy="622.2" r="2.35"/>
<circle cx="218.6" cy="601.8" r="2.35"/>
<circle cx="218.6" cy="619.7" r="2.35"/>
<circle cx="218.6" cy="618.8" r="2.35"/>
<circle cx="218.6" cy="606.3" r="2.35"/>
<circle cx="218.6" cy="606.6" r="2.35"/>
<circle cx="218.6" cy="613.9" r="2.35"/>
<circle cx="218.6" cy="612.3" r="2.35"/>
<circle cx="218.6" cy="608.0" r="2.35"/>
<circle cx="218.6" cy="603.9" r="2.35"/>
<circle cx="218.6" cy="604.3" r="2.35"/>
<circle cx="218.6" cy="616.3" r="2.35"/>
<circle cx="218.6" cy="616.0" r="2.35"/>
<circle cx="218.6" cy="612.7" r="2.35"/>
<circle cx="218.6" cy="611.8" r="2.35"/>
<circle cx="218.6" cy="614.2" r="2.35"/>
<circle cx="218.6" cy="615.2" r="2.35"/>
<circle cx="218.6" cy="608.4" r="2.35"/>
<circle cx="218.6" cy="611.9" r="2.35"/>
<circle cx="218.6" cy="604.5" r="2.35"/>
<circle cx="218.6" cy="614.1" r="2.35"/>
<circle cx="218.6" cy="616.6" r="2.35"/>
<circle cx="218.6" cy="608.0" r="2.35"/>
<circle cx="218.6" cy="613.7" r="2.35"/>
<circle cx="218.6" cy="609.6" r="2.35"/>
<circle cx="218.6" cy="611.6" r="2.35"/>
<circle cx="218.6" cy="606.9" r="2.35"/>
<circle cx="218.6" cy="609.7" r="2.35"/>
<circle cx="218.6" cy="609.9" r="2.35"/>
<circle cx="218.6" cy="616.3" r="2.35"/>
<circle cx="218.6" cy="612.9" r="2.35"/>
<circle cx="218.6" cy="609.9" r="2.35"/>
<circle cx="218.6" cy="615.3" r="2.35"/>
<circle cx="218.6" cy="615.9" r="2.35"/>
<circle cx="218.6" cy="614.3" r="2.35"/>
<circle cx="218.6" cy="614.4" r="2.35"/>
<circle cx="218.6" cy="604.6" r="2.35"/>
<circle cx="218.6" cy="616.7" r="2.35"/>
<circle cx="218.6" cy="604.5" r="2.35"/>
<circle cx="218.6" cy="617.2" r="2.35"/>
<circle cx="218.6" cy="613.6" r="2.35"/>
<circle cx="218.6" cy="615.0" r="2.35"/>
<circle cx="218.6" cy="604.3" r="2.35"/>
<circle cx="218.6" cy="616.5" r="2.35"/>
<circle cx="218.6" cy="606.1" r="2.35"/>
<circle cx="218.6" cy="605.7" r="2.35"/>
<circle cx="218.6" cy="608.7" r="2.35"/>
<circle cx="218.6" cy="615.6" r="2.35"/>
<circle cx="218.6" cy="606.1" r="2.35"/>
<circle cx="218.6" cy="613.8" r="2.35"/>
<circle cx="218.6" cy="606.9" r="2.35"/>
<circle cx="218.6" cy="603.1" r="2.35"/>
<circle cx="218.6" cy="613.0" r="2.35"/>
<circle cx="218.6" cy="603.9" r="2.35"/>
<circle cx="218.6" cy="609.9" r="2.35"/>
<circle cx="218.6" cy="608.3" r="2.35"/>
<circle cx="218.6" cy="608.5" r="2.35"/>
<circle cx="218.6" cy="612.7" r="2.35"/>
<circle cx="218.6" cy="606.3" r="2.35"/>
<circle cx="218.6" cy="614.7" r="2.35"/>
<circle cx="218.6" cy="616.0" r="2.35"/>
<circle cx="244.3" cy="595.1" r="2.35"/>
<circle cx="244.3" cy="609.0" r="2.35"/>
<circle cx="244.3" cy="600.5" r="2.35"/>
<circle cx="244.3" cy="601.3" r="2.35"/>
<circle cx="244.3" cy="607.8" r="2.35"/>
<circle cx="244.3" cy="599.2" r="2.35"/>
<circle cx="244.3" cy="598.5" r="2.35"/>
<circle cx="244.3" cy="602.4" r="2.35"/>
<circle cx="244.3" cy="597.5" r="2.35"/>
<circle cx="244.3" cy="596.5" r="2.35"/>
<circle cx="244.3" cy="600.5" r="2.35"/>
<circle cx="244.3" cy="600.9" r="2.35"/>
<circle cx="244.3" cy="604.9" r="2.35"/>
<circle cx="244.3" cy="599.9" r="2.35"/>
<circle cx="244.3" cy="601.5" r="2.35"/>
<circle cx="244.3" cy="605.3" r="2.35"/>
<circle cx="244.3" cy="597.3" r="2.35"/>
<circle cx="244.3" cy="603.4" r="2.35"/>
<circle cx="244.3" cy="597.1" r="2.35"/>
<circle cx="244.3" cy="606.3" r="2.35"/>
<circle cx="244.3" cy="607.2" r="2.35"/>
<circle cx="244.3" cy="604.4" r="2.35"/>
<circle cx="244.3" cy="599.7" r="2.35"/>
<circle cx="244.3" cy="601.8" r="2.35"/>
<circle cx="244.3" cy="598.7" r="2.35"/>
<circle cx="244.3" cy="601.4" r="2.35"/>
<circle cx="244.3" cy="603.8" r="2.35"/>
<circle cx="244.3" cy="600.4" r="2.35"/>
<circle cx="244.3" cy="607.3" r="2.35"/>
<circle cx="244.3" cy="599.1" r="2.35"/>
<circle cx="244.3" cy="603.9" r="2.35"/>
<circle cx="244.3" cy="606.5" r="2.35"/>
<circle cx="244.3" cy="605.5" r="2.35"/>
<circle cx="244.3" cy="600.8" r="2.35"/>
<circle cx="244.3" cy="599.5" r="2.35"/>
<circle cx="244.3" cy="607.4" r="2.35"/>
<circle cx="244.3" cy="605.4" r="2.35"/>
<circle cx="244.3" cy="604.8" r="2.35"/>
<circle cx="244.3" cy="597.7" r="2.35"/>
<circle cx="244.3" cy="605.4" r="2.35"/>
<circle cx="244.3" cy="606.3" r="2.35"/>
<circle cx="244.3" cy="601.1" r="2.35"/>
<circle cx="244.3" cy="605.5" r="2.35"/>
<circle cx="244.3" cy="605.3" r="2.35"/>
<circle cx="244.3" cy="595.8" r="2.35"/>
<circle cx="244.3" cy="600.8" r="2.35"/>
<circle cx="244.3" cy="605.0" r="2.35"/>
<circle cx="244.3" cy="602.3" r="2.35"/>
<circle cx="244.3" cy="595.8" r="2.35"/>
<circle cx="244.3" cy="599.1" r="2.35"/>
<circle cx="244.3" cy="602.1" r="2.35"/>
<circle cx="244.3" cy="597.6" r="2.35"/>
<circle cx="244.3" cy="597.5" r="2.35"/>
<circle cx="244.3" cy="601.2" r="2.35"/>
<circle cx="244.3" cy="599.1" r="2.35"/>
<circle cx="244.3" cy="598.9" r="2.35"/>
<circle cx="244.3" cy="602.3" r="2.35"/>
<circle cx="244.3" cy="600.4" r="2.35"/>
<circle cx="244.3" cy="605.4" r="2.35"/>
<circle cx="244.3" cy="595.7" r="2.35"/>
<circle cx="244.3" cy="601.6" r="2.35"/>
<circle cx="244.3" cy="606.2" r="2.35"/>
<circle cx="244.3" cy="608.4" r="2.35"/>
<circle cx="244.3" cy="605.0" r="2.35"/>
<circle cx="244.3" cy="602.2" r="2.35"/>
<circle cx="244.3" cy="607.3" r="2.35"/>
<circle cx="244.3" cy="605.7" r="2.35"/>
<circle cx="244.3" cy="605.1" r="2.35"/>
<circle cx="244.3" cy="596.4" r="2.35"/>
<circle cx="244.3" cy="595.7" r="2.35"/>
<circle cx="244.3" cy="602.9" r="2.35"/>
<circle cx="244.3" cy="596.5" r="2.35"/>
<circle cx="244.3" cy="591.8" r="2.35"/>
<circle cx="244.3" cy="613.2" r="2.35"/>
<circle cx="244.3" cy="616.3" r="2.35"/>
<circle cx="244.3" cy="619.4" r="2.35"/>
<circle cx="257.2" cy="593.6" r="2.35"/>
<circle cx="257.2" cy="611.0" r="2.35"/>
<circle cx="257.2" cy="598.1" r="2.35"/>
<circle cx="257.2" cy="598.5" r="2.35"/>
<circle cx="257.2" cy="608.1" r="2.35"/>
<circle cx="257.2" cy="604.5" r="2.35"/>
<circle cx="257.2" cy="596.2" r="2.35"/>
<circle cx="257.2" cy="607.8" r="2.35"/>
<circle cx="257.2" cy="594.0" r="2.35"/>
<circle cx="257.2" cy="600.6" r="2.35"/>
<circle cx="257.2" cy="595.0" r="2.35"/>
<circle cx="257.2" cy="606.5" r="2.35"/>
<circle cx="257.2" cy="607.0" r="2.35"/>
<circle cx="257.2" cy="608.9" r="2.35"/>
<circle cx="257.2" cy="605.2" r="2.35"/>
<circle cx="257.2" cy="602.1" r="2.35"/>
<circle cx="257.2" cy="597.8" r="2.35"/>
<circle cx="257.2" cy="594.4" r="2.35"/>
<circle cx="257.2" cy="594.8" r="2.35"/>
<circle cx="257.2" cy="607.5" r="2.35"/>
<circle cx="257.2" cy="600.3" r="2.35"/>
<circle cx="257.2" cy="605.5" r="2.35"/>
<circle cx="257.2" cy="608.3" r="2.35"/>
<circle cx="257.2" cy="610.7" r="2.35"/>
<circle cx="257.2" cy="602.5" r="2.35"/>
<circle cx="257.2" cy="594.1" r="2.35"/>
<circle cx="257.2" cy="601.7" r="2.35"/>
<circle cx="257.2" cy="593.8" r="2.35"/>
<circle cx="257.2" cy="609.7" r="2.35"/>
<circle cx="257.2" cy="610.3" r="2.35"/>
<circle cx="257.2" cy="599.6" r="2.35"/>
<circle cx="257.2" cy="601.9" r="2.35"/>
<circle cx="257.2" cy="604.9" r="2.35"/>
<circle cx="257.2" cy="594.5" r="2.35"/>
<circle cx="257.2" cy="601.6" r="2.35"/>
<circle cx="257.2" cy="607.1" r="2.35"/>
<circle cx="257.2" cy="602.8" r="2.35"/>
<circle cx="257.2" cy="605.3" r="2.35"/>
<circle cx="257.2" cy="593.8" r="2.35"/>
<circle cx="257.2" cy="604.4" r="2.35"/>
<circle cx="257.2" cy="596.1" r="2.35"/>
<circle cx="257.2" cy="601.5" r="2.35"/>
<circle cx="257.2" cy="599.7" r="2.35"/>
<circle cx="257.2" cy="605.6" r="2.35"/>
<circle cx="257.2" cy="597.1" r="2.35"/>
<circle cx="257.2" cy="602.5" r="2.35"/>
<circle cx="257.2" cy="605.9" r="2.35"/>
<circle cx="257.2" cy="606.6" r="2.35"/>
<circle cx="257.2" cy="609.3" r="2.35"/>
<circle cx="257.2" cy="605.0" r="2.35"/>
<circle cx="257.2" cy="598.0" r="2.35"/>
<circle cx="257.2" cy="605.5" r="2.35"/>
<circle cx="257.2" cy="606.1" r="2.35"/>
<circle cx="257.2" cy="605.5" r="2.35"/>
<circle cx="257.2" cy="597.9" r="2.35"/>
<circle cx="257.2" cy="597.7" r="2.35"/>
<circle cx="257.2" cy="597.9" r="2.35"/>
<circle cx="257.2" cy="610.2" r="2.35"/>
<circle cx="257.2" cy="604.8" r="2.35"/>
<circle cx="257.2" cy="605.7" r="2.35"/>
<circle cx="257.2" cy="605.4" r="2.35"/>
<circle cx="257.2" cy="594.2" r="2.35"/>
<circle cx="257.2" cy="604.6" r="2.35"/>
<circle cx="257.2" cy="610.4" r="2.35"/>
<circle cx="257.2" cy="603.8" r="2.35"/>
<circle cx="257.2" cy="600.1" r="2.35"/>
<circle cx="257.2" cy="603.5" r="2.35"/>
<circle cx="257.2" cy="594.6" r="2.35"/>
<circle cx="257.2" cy="594.2" r="2.35"/>
<circle cx="257.2" cy="596.2" r="2.35"/>
<circle cx="257.2" cy="598.7" r="2.35"/>
<circle cx="257.2" cy="601.6" r="2.35"/>
<circle cx="257.2" cy="604.4" r="2.35"/>
<circle cx="257.2" cy="602.0" r="2.35"/>
<circle cx="257.2" cy="608.3" r="2.35"/>
<circle cx="257.2" cy="600.8" r="2.35"/>
<circle cx="257.2" cy="605.0" r="2.35"/>
<circle cx="257.2" cy="602.1" r="2.35"/>
<circle cx="257.2" cy="598.6" r="2.35"/>
<circle cx="257.2" cy="602.8" r="2.35"/>
<circle cx="257.2" cy="589.7" r="2.35"/>
<circle cx="270.1" cy="599.1" r="2.35"/>
<circle cx="270.1" cy="616.1" r="2.35"/>
<circle cx="270.1" cy="610.5" r="2.35"/>
<circle cx="270.1" cy="605.7" r="2.35"/>
<circle cx="270.1" cy="600.4" r="2.35"/>
<circle cx="270.1" cy="605.2" r="2.35"/>
<circle cx="270.1" cy="611.3" r="2.35"/>
<circle cx="270.1" cy="603.1" r="2.35"/>
<circle cx="270.1" cy="610.8" r="2.35"/>
<circle cx="270.1" cy="611.4" r="2.35"/>
<circle cx="270.1" cy="600.3" r="2.35"/>
<circle cx="270.1" cy="606.9" r="2.35"/>
<circle cx="270.1" cy="611.0" r="2.35"/>
<circle cx="270.1" cy="609.4" r="2.35"/>
<circle cx="270.1" cy="612.6" r="2.35"/>
<circle cx="270.1" cy="603.7" r="2.35"/>
<circle cx="270.1" cy="605.7" r="2.35"/>
<circle cx="270.1" cy="602.7" r="2.35"/>
<circle cx="270.1" cy="605.7" r="2.35"/>
<circle cx="270.1" cy="611.9" r="2.35"/>
<circle cx="270.1" cy="609.4" r="2.35"/>
<circle cx="270.1" cy="608.7" r="2.35"/>
<circle cx="270.1" cy="605.9" r="2.35"/>
<circle cx="270.1" cy="607.0" r="2.35"/>
<circle cx="270.1" cy="613.9" r="2.35"/>
<circle cx="270.1" cy="612.6" r="2.35"/>
<circle cx="270.1" cy="615.8" r="2.35"/>
<circle cx="270.1" cy="613.4" r="2.35"/>
<circle cx="270.1" cy="607.3" r="2.35"/>
<circle cx="270.1" cy="611.7" r="2.35"/>
<circle cx="270.1" cy="608.8" r="2.35"/>
<circle cx="270.1" cy="610.1" r="2.35"/>
<circle cx="270.1" cy="600.5" r="2.35"/>
<circle cx="270.1" cy="610.2" r="2.35"/>
<circle cx="270.1" cy="609.5" r="2.35"/>
<circle cx="270.1" cy="614.3" r="2.35"/>
<circle cx="270.1" cy="611.3" r="2.35"/>
<circle cx="270.1" cy="601.2" r="2.35"/>
<circle cx="270.1" cy="609.5" r="2.35"/>
<circle cx="270.1" cy="609.9" r="2.35"/>
<circle cx="270.1" cy="610.0" r="2.35"/>
<circle cx="270.1" cy="600.1" r="2.35"/>
<circle cx="270.1" cy="604.5" r="2.35"/>
<circle cx="270.1" cy="608.9" r="2.35"/>
<circle cx="270.1" cy="612.6" r="2.35"/>
<circle cx="270.1" cy="609.6" r="2.35"/>
<circle cx="270.1" cy="603.5" r="2.35"/>
<circle cx="270.1" cy="614.8" r="2.35"/>
<circle cx="270.1" cy="606.7" r="2.35"/>
<circle cx="270.1" cy="606.9" r="2.35"/>
<circle cx="270.1" cy="600.9" r="2.35"/>
<circle cx="270.1" cy="612.5" r="2.35"/>
<circle cx="270.1" cy="608.3" r="2.35"/>
<circle cx="270.1" cy="608.4" r="2.35"/>
<circle cx="270.1" cy="609.6" r="2.35"/>
<circle cx="270.1" cy="606.9" r="2.35"/>
<circle cx="270.1" cy="608.2" r="2.35"/>
<circle cx="270.1" cy="613.4" r="2.35"/>
<circle cx="270.1" cy="605.6" r="2.35"/>
<circle cx="270.1" cy="608.1" r="2.35"/>
<circle cx="270.1" cy="614.0" r="2.35"/>
<circle cx="270.1" cy="602.2" r="2.35"/>
<circle cx="270.1" cy="613.0" r="2.35"/>
<circle cx="270.1" cy="610.2" r="2.35"/>
<circle cx="270.1" cy="608.5" r="2.35"/>
<circle cx="270.1" cy="609.0" r="2.35"/>
<circle cx="270.1" cy="612.5" r="2.35"/>
<circle cx="270.1" cy="613.1" r="2.35"/>
<circle cx="270.1" cy="603.9" r="2.35"/>
<circle cx="270.1" cy="614.8" r="2.35"/>
<circle cx="270.1" cy="613.1" r="2.35"/>
<circle cx="270.1" cy="610.8" r="2.35"/>
<circle cx="270.1" cy="610.8" r="2.35"/>
<circle cx="270.1" cy="610.0" r="2.35"/>
<circle cx="270.1" cy="600.6" r="2.35"/>
<circle cx="270.1" cy="599.5" r="2.35"/>
<circle cx="270.1" cy="605.2" r="2.35"/>
<circle cx="270.1" cy="608.5" r="2.35"/>
<circle cx="270.1" cy="607.2" r="2.35"/>
<circle cx="270.1" cy="605.4" r="2.35"/>
<circle cx="282.9" cy="598.1" r="2.35"/>
<circle cx="282.9" cy="616.1" r="2.35"/>
<circle cx="282.9" cy="599.9" r="2.35"/>
<circle cx="282.9" cy="608.4" r="2.35"/>
<circle cx="282.9" cy="601.8" r="2.35"/>
<circle cx="282.9" cy="607.8" r="2.35"/>
<circle cx="282.9" cy="604.2" r="2.35"/>
<circle cx="282.9" cy="599.5" r="2.35"/>
<circle cx="282.9" cy="605.0" r="2.35"/>
<circle cx="282.9" cy="605.6" r="2.35"/>
<circle cx="282.9" cy="608.6" r="2.35"/>
<circle cx="282.9" cy="608.1" r="2.35"/>
<circle cx="282.9" cy="614.2" r="2.35"/>
<circle cx="282.9" cy="610.3" r="2.35"/>
<circle cx="282.9" cy="599.2" r="2.35"/>
<circle cx="282.9" cy="598.3" r="2.35"/>
<circle cx="282.9" cy="610.2" r="2.35"/>
<circle cx="282.9" cy="607.9" r="2.35"/>
<circle cx="282.9" cy="605.2" r="2.35"/>
<circle cx="282.9" cy="609.3" r="2.35"/>
<circle cx="282.9" cy="607.6" r="2.35"/>
<circle cx="282.9" cy="608.1" r="2.35"/>
<circle cx="282.9" cy="609.1" r="2.35"/>
<circle cx="282.9" cy="602.7" r="2.35"/>
<circle cx="282.9" cy="612.0" r="2.35"/>
<circle cx="282.9" cy="604.4" r="2.35"/>
<circle cx="282.9" cy="607.9" r="2.35"/>
<circle cx="282.9" cy="608.2" r="2.35"/>
<circle cx="282.9" cy="607.3" r="2.35"/>
<circle cx="282.9" cy="603.7" r="2.35"/>
<circle cx="282.9" cy="605.2" r="2.35"/>
<circle cx="282.9" cy="612.1" r="2.35"/>
<circle cx="282.9" cy="611.6" r="2.35"/>
<circle cx="282.9" cy="614.5" r="2.35"/>
<circle cx="282.9" cy="614.9" r="2.35"/>
<circle cx="282.9" cy="607.3" r="2.35"/>
<circle cx="282.9" cy="602.5" r="2.35"/>
<circle cx="282.9" cy="606.9" r="2.35"/>
<circle cx="282.9" cy="599.9" r="2.35"/>
<circle cx="282.9" cy="609.2" r="2.35"/>
<circle cx="282.9" cy="608.2" r="2.35"/>
<circle cx="282.9" cy="601.4" r="2.35"/>
<circle cx="282.9" cy="605.4" r="2.35"/>
<circle cx="282.9" cy="606.4" r="2.35"/>
<circle cx="282.9" cy="607.6" r="2.35"/>
<circle cx="282.9" cy="607.1" r="2.35"/>
<circle cx="282.9" cy="605.5" r="2.35"/>
<circle cx="282.9" cy="613.4" r="2.35"/>
<circle cx="282.9" cy="603.6" r="2.35"/>
<circle cx="282.9" cy="608.1" r="2.35"/>
<circle cx="282.9" cy="604.2" r="2.35"/>
<circle cx="282.9" cy="603.1" r="2.35"/>
<circle cx="282.9" cy="604.0" r="2.35"/>
<circle cx="282.9" cy="608.6" r="2.35"/>
<circle cx="282.9" cy="616.1" r="2.35"/>
<circle cx="282.9" cy="605.8" r="2.35"/>
<circle cx="282.9" cy="605.2" r="2.35"/>
<circle cx="282.9" cy="609.7" r="2.35"/>
<circle cx="282.9" cy="605.4" r="2.35"/>
<circle cx="282.9" cy="609.0" r="2.35"/>
<circle cx="282.9" cy="604.4" r="2.35"/>
<circle cx="282.9" cy="603.0" r="2.35"/>
<circle cx="282.9" cy="611.6" r="2.35"/>
<circle cx="282.9" cy="607.4" r="2.35"/>
<circle cx="282.9" cy="603.0" r="2.35"/>
<circle cx="282.9" cy="607.2" r="2.35"/>
<circle cx="282.9" cy="606.3" r="2.35"/>
<circle cx="282.9" cy="610.3" r="2.35"/>
<circle cx="282.9" cy="608.7" r="2.35"/>
<circle cx="282.9" cy="603.7" r="2.35"/>
<circle cx="282.9" cy="599.2" r="2.35"/>
<circle cx="282.9" cy="606.1" r="2.35"/>
<circle cx="282.9" cy="598.8" r="2.35"/>
<circle cx="282.9" cy="612.5" r="2.35"/>
<circle cx="282.9" cy="605.7" r="2.35"/>
<circle cx="282.9" cy="600.0" r="2.35"/>
<circle cx="282.9" cy="606.7" r="2.35"/>
<circle cx="282.9" cy="605.3" r="2.35"/>
<circle cx="282.9" cy="601.2" r="2.35"/>
<circle cx="282.9" cy="613.3" r="2.35"/>
<circle cx="282.9" cy="583.4" r="2.35"/>
<circle cx="282.9" cy="618.8" r="2.35"/>
<circle cx="282.9" cy="620.8" r="2.35"/>
<circle cx="295.8" cy="594.0" r="2.35"/>
<circle cx="295.8" cy="610.0" r="2.35"/>
<circle cx="295.8" cy="608.5" r="2.35"/>
<circle cx="295.8" cy="605.6" r="2.35"/>
<circle cx="295.8" cy="601.9" r="2.35"/>
<circle cx="295.8" cy="607.4" r="2.35"/>
<circle cx="295.8" cy="598.7" r="2.35"/>
<circle cx="295.8" cy="606.6" r="2.35"/>
<circle cx="295.8" cy="607.7" r="2.35"/>
<circle cx="295.8" cy="605.9" r="2.35"/>
<circle cx="295.8" cy="600.9" r="2.35"/>
<circle cx="295.8" cy="597.5" r="2.35"/>
<circle cx="295.8" cy="602.1" r="2.35"/>
<circle cx="295.8" cy="596.9" r="2.35"/>
<circle cx="295.8" cy="602.0" r="2.35"/>
<circle cx="295.8" cy="608.6" r="2.35"/>
<circle cx="295.8" cy="606.6" r="2.35"/>
<circle cx="295.8" cy="602.6" r="2.35"/>
<circle cx="295.8" cy="596.8" r="2.35"/>
<circle cx="295.8" cy="604.1" r="2.35"/>
<circle cx="295.8" cy="604.2" r="2.35"/>
<circle cx="295.8" cy="594.4" r="2.35"/>
<circle cx="295.8" cy="609.3" r="2.35"/>
<circle cx="295.8" cy="598.5" r="2.35"/>
<circle cx="295.8" cy="596.7" r="2.35"/>
<circle cx="295.8" cy="607.9" r="2.35"/>
<circle cx="295.8" cy="605.7" r="2.35"/>
<circle cx="295.8" cy="601.2" r="2.35"/>
<circle cx="295.8" cy="600.2" r="2.35"/>
<circle cx="295.8" cy="598.4" r="2.35"/>
<circle cx="295.8" cy="609.8" r="2.35"/>
<circle cx="295.8" cy="595.8" r="2.35"/>
<circle cx="295.8" cy="605.7" r="2.35"/>
<circle cx="295.8" cy="604.4" r="2.35"/>
<circle cx="295.8" cy="598.8" r="2.35"/>
<circle cx="295.8" cy="607.0" r="2.35"/>
<circle cx="295.8" cy="602.4" r="2.35"/>
<circle cx="295.8" cy="597.9" r="2.35"/>
<circle cx="295.8" cy="605.1" r="2.35"/>
<circle cx="295.8" cy="608.1" r="2.35"/>
<circle cx="295.8" cy="598.2" r="2.35"/>
<circle cx="295.8" cy="601.7" r="2.35"/>
<circle cx="295.8" cy="602.0" r="2.35"/>
<circle cx="295.8" cy="606.9" r="2.35"/>
<circle cx="295.8" cy="603.7" r="2.35"/>
<circle cx="295.8" cy="603.3" r="2.35"/>
<circle cx="295.8" cy="606.8" r="2.35"/>
<circle cx="295.8" cy="600.0" r="2.35"/>
<circle cx="295.8" cy="594.1" r="2.35"/>
<circle cx="295.8" cy="596.9" r="2.35"/>
<circle cx="295.8" cy="596.3" r="2.35"/>
<circle cx="295.8" cy="601.2" r="2.35"/>
<circle cx="295.8" cy="604.2" r="2.35"/>
<circle cx="295.8" cy="603.0" r="2.35"/>
<circle cx="295.8" cy="602.4" r="2.35"/>
<circle cx="295.8" cy="599.7" r="2.35"/>
<circle cx="295.8" cy="604.7" r="2.35"/>
<circle cx="295.8" cy="607.7" r="2.35"/>
<circle cx="295.8" cy="606.9" r="2.35"/>
<circle cx="295.8" cy="600.1" r="2.35"/>
<circle cx="295.8" cy="600.4" r="2.35"/>
<circle cx="295.8" cy="603.3" r="2.35"/>
<circle cx="295.8" cy="604.6" r="2.35"/>
<circle cx="295.8" cy="599.8" r="2.35"/>
<circle cx="295.8" cy="608.2" r="2.35"/>
<circle cx="295.8" cy="599.4" r="2.35"/>
<circle cx="295.8" cy="595.6" r="2.35"/>
<circle cx="295.8" cy="601.6" r="2.35"/>
<circle cx="295.8" cy="599.2" r="2.35"/>
<circle cx="295.8" cy="607.3" r="2.35"/>
<circle cx="295.8" cy="599.6" r="2.35"/>
<circle cx="295.8" cy="602.8" r="2.35"/>
<circle cx="295.8" cy="600.6" r="2.35"/>
<circle cx="295.8" cy="604.2" r="2.35"/>
<circle cx="295.8" cy="598.0" r="2.35"/>
<circle cx="295.8" cy="609.1" r="2.35"/>
<circle cx="295.8" cy="599.5" r="2.35"/>
<circle cx="295.8" cy="597.5" r="2.35"/>
<circle cx="295.8" cy="606.1" r="2.35"/>
<circle cx="295.8" cy="602.3" r="2.35"/>
<circle cx="295.8" cy="614.7" r="2.35"/>
<circle cx="308.6" cy="596.5" r="2.35"/>
<circle cx="308.6" cy="612.4" r="2.35"/>
<circle cx="308.6" cy="607.5" r="2.35"/>
<circle cx="308.6" cy="602.4" r="2.35"/>
<circle cx="308.6" cy="599.9" r="2.35"/>
<circle cx="308.6" cy="597.3" r="2.35"/>
<circle cx="308.6" cy="602.3" r="2.35"/>
<circle cx="308.6" cy="601.0" r="2.35"/>
<circle cx="308.6" cy="606.2" r="2.35"/>
<circle cx="308.6" cy="606.7" r="2.35"/>
<circle cx="308.6" cy="610.7" r="2.35"/>
<circle cx="308.6" cy="603.8" r="2.35"/>
<circle cx="308.6" cy="599.7" r="2.35"/>
<circle cx="308.6" cy="597.7" r="2.35"/>
<circle cx="308.6" cy="604.8" r="2.35"/>
<circle cx="308.6" cy="606.7" r="2.35"/>
<circle cx="308.6" cy="605.6" r="2.35"/>
<circle cx="308.6" cy="597.8" r="2.35"/>
<circle cx="308.6" cy="612.1" r="2.35"/>
<circle cx="308.6" cy="611.7" r="2.35"/>
<circle cx="308.6" cy="604.4" r="2.35"/>
<circle cx="308.6" cy="610.5" r="2.35"/>
<circle cx="308.6" cy="601.4" r="2.35"/>
<circle cx="308.6" cy="604.0" r="2.35"/>
<circle cx="308.6" cy="604.6" r="2.35"/>
<circle cx="308.6" cy="603.1" r="2.35"/>
<circle cx="308.6" cy="610.5" r="2.35"/>
<circle cx="308.6" cy="604.9" r="2.35"/>
<circle cx="308.6" cy="599.9" r="2.35"/>
<circle cx="308.6" cy="606.0" r="2.35"/>
<circle cx="308.6" cy="608.6" r="2.35"/>
<circle cx="308.6" cy="599.9" r="2.35"/>
<circle cx="308.6" cy="608.5" r="2.35"/>
<circle cx="308.6" cy="599.9" r="2.35"/>
<circle cx="308.6" cy="598.9" r="2.35"/>
<circle cx="308.6" cy="605.8" r="2.35"/>
<circle cx="308.6" cy="603.0" r="2.35"/>
<circle cx="308.6" cy="598.2" r="2.35"/>
<circle cx="308.6" cy="604.6" r="2.35"/>
<circle cx="308.6" cy="606.0" r="2.35"/>
<circle cx="308.6" cy="601.5" r="2.35"/>
<circle cx="308.6" cy="605.6" r="2.35"/>
<circle cx="308.6" cy="606.9" r="2.35"/>
<circle cx="308.6" cy="607.1" r="2.35"/>
<circle cx="308.6" cy="606.2" r="2.35"/>
<circle cx="308.6" cy="600.6" r="2.35"/>
<circle cx="308.6" cy="605.0" r="2.35"/>
<circle cx="308.6" cy="605.3" r="2.35"/>
<circle cx="308.6" cy="611.3" r="2.35"/>
<circle cx="308.6" cy="606.2" r="2.35"/>
<circle cx="308.6" cy="606.1" r="2.35"/>
<circle cx="308.6" cy="599.8" r="2.35"/>
<circle cx="308.6" cy="609.9" r="2.35"/>
<circle cx="308.6" cy="611.9" r="2.35"/>
<circle cx="308.6" cy="601.3" r="2.35"/>
<circle cx="308.6" cy="608.5" r="2.35"/>
<circle cx="308.6" cy="606.4" r="2.35"/>
<circle cx="308.6" cy="604.2" r="2.35"/>
<circle cx="308.6" cy="606.4" r="2.35"/>
<circle cx="308.6" cy="602.1" r="2.35"/>
<circle cx="308.6" cy="611.7" r="2.35"/>
<circle cx="308.6" cy="601.8" r="2.35"/>
<circle cx="308.6" cy="604.7" r="2.35"/>
<circle cx="308.6" cy="608.3" r="2.35"/>
<circle cx="308.6" cy="607.3" r="2.35"/>
<circle cx="308.6" cy="601.1" r="2.35"/>
<circle cx="308.6" cy="608.8" r="2.35"/>
<circle cx="308.6" cy="606.9" r="2.35"/>
<circle cx="308.6" cy="610.7" r="2.35"/>
<circle cx="308.6" cy="601.2" r="2.35"/>
<circle cx="308.6" cy="604.2" r="2.35"/>
<circle cx="308.6" cy="602.0" r="2.35"/>
<circle cx="308.6" cy="599.1" r="2.35"/>
<circle cx="308.6" cy="606.1" r="2.35"/>
<circle cx="308.6" cy="607.0" r="2.35"/>
<circle cx="308.6" cy="602.4" r="2.35"/>
<circle cx="308.6" cy="606.9" r="2.35"/>
<circle cx="308.6" cy="611.7" r="2.35"/>
<circle cx="308.6" cy="603.7" r="2.35"/>
<circle cx="308.6" cy="604.9" r="2.35"/>
<circle cx="321.5" cy="570.5" r="2.35"/>
<circle cx="321.5" cy="595.7" r="2.35"/>
<circle cx="321.5" cy="573.0" r="2.35"/>
<circle cx="321.5" cy="574.2" r="2.35"/>
<circle cx="321.5" cy="592.9" r="2.35"/>
<circle cx="321.5" cy="584.5" r="2.35"/>
<circle cx="321.5" cy="585.6" r="2.35"/>
<circle cx="321.5" cy="579.0" r="2.35"/>
<circle cx="321.5" cy="582.5" r="2.35"/>
<circle cx="321.5" cy="583.7" r="2.35"/>
<circle cx="321.5" cy="581.5" r="2.35"/>
<circle cx="321.5" cy="580.7" r="2.35"/>
<circle cx="321.5" cy="588.8" r="2.35"/>
<circle cx="321.5" cy="582.8" r="2.35"/>
<circle cx="321.5" cy="585.5" r="2.35"/>
<circle cx="321.5" cy="587.8" r="2.35"/>
<circle cx="321.5" cy="575.5" r="2.35"/>
<circle cx="321.5" cy="587.5" r="2.35"/>
<circle cx="321.5" cy="585.8" r="2.35"/>
<circle cx="321.5" cy="590.4" r="2.35"/>
<circle cx="321.5" cy="585.2" r="2.35"/>
<circle cx="321.5" cy="586.3" r="2.35"/>
<circle cx="321.5" cy="586.9" r="2.35"/>
<circle cx="321.5" cy="583.5" r="2.35"/>
<circle cx="321.5" cy="589.7" r="2.35"/>
<circle cx="321.5" cy="581.2" r="2.35"/>
<circle cx="321.5" cy="583.2" r="2.35"/>
<circle cx="321.5" cy="582.7" r="2.35"/>
<circle cx="321.5" cy="588.1" r="2.35"/>
<circle cx="321.5" cy="582.1" r="2.35"/>
<circle cx="321.5" cy="575.9" r="2.35"/>
<circle cx="321.5" cy="584.7" r="2.35"/>
<circle cx="321.5" cy="590.7" r="2.35"/>
<circle cx="321.5" cy="581.2" r="2.35"/>
<circle cx="321.5" cy="583.1" r="2.35"/>
<circle cx="321.5" cy="586.2" r="2.35"/>
<circle cx="321.5" cy="591.2" r="2.35"/>
<circle cx="321.5" cy="579.1" r="2.35"/>
<circle cx="321.5" cy="584.9" r="2.35"/>
<circle cx="321.5" cy="589.1" r="2.35"/>
<circle cx="321.5" cy="582.2" r="2.35"/>
<circle cx="321.5" cy="578.6" r="2.35"/>
<circle cx="321.5" cy="586.9" r="2.35"/>
<circle cx="321.5" cy="582.9" r="2.35"/>
<circle cx="321.5" cy="582.4" r="2.35"/>
<circle cx="321.5" cy="580.9" r="2.35"/>
<circle cx="321.5" cy="586.3" r="2.35"/>
<circle cx="321.5" cy="583.7" r="2.35"/>
<circle cx="321.5" cy="583.5" r="2.35"/>
<circle cx="321.5" cy="579.7" r="2.35"/>
<circle cx="321.5" cy="580.5" r="2.35"/>
<circle cx="321.5" cy="575.6" r="2.35"/>
<circle cx="321.5" cy="586.0" r="2.35"/>
<circle cx="321.5" cy="582.8" r="2.35"/>
<circle cx="321.5" cy="580.2" r="2.35"/>
<circle cx="321.5" cy="583.8" r="2.35"/>
<circle cx="321.5" cy="586.9" r="2.35"/>
<circle cx="321.5" cy="587.2" r="2.35"/>
<circle cx="321.5" cy="582.7" r="2.35"/>
<circle cx="321.5" cy="588.7" r="2.35"/>
<circle cx="321.5" cy="589.6" r="2.35"/>
<circle cx="321.5" cy="577.0" r="2.35"/>
<circle cx="321.5" cy="588.0" r="2.35"/>
<circle cx="321.5" cy="585.3" r="2.35"/>
<circle cx="321.5" cy="587.9" r="2.35"/>
<circle cx="321.5" cy="591.1" r="2.35"/>
<circle cx="321.5" cy="577.2" r="2.35"/>
<circle cx="334.4" cy="566.4" r="2.35"/>
<circle cx="334.4" cy="594.6" r="2.35"/>
<circle cx="334.4" cy="583.9" r="2.35"/>
<circle cx="334.4" cy="593.2" r="2.35"/>
<circle cx="334.4" cy="569.8" r="2.35"/>
<circle cx="334.4" cy="577.3" r="2.35"/>
<circle cx="334.4" cy="577.4" r="2.35"/>
<circle cx="334.4" cy="582.5" r="2.35"/>
<circle cx="334.4" cy="585.0" r="2.35"/>
<circle cx="334.4" cy="577.8" r="2.35"/>
<circle cx="334.4" cy="589.8" r="2.35"/>
<circle cx="334.4" cy="581.5" r="2.35"/>
<circle cx="334.4" cy="573.4" r="2.35"/>
<circle cx="334.4" cy="588.6" r="2.35"/>
<circle cx="334.4" cy="571.9" r="2.35"/>
<circle cx="334.4" cy="576.5" r="2.35"/>
<circle cx="334.4" cy="586.3" r="2.35"/>
<circle cx="334.4" cy="574.9" r="2.35"/>
<circle cx="334.4" cy="580.0" r="2.35"/>
<circle cx="334.4" cy="581.1" r="2.35"/>
<circle cx="334.4" cy="570.0" r="2.35"/>
<circle cx="334.4" cy="582.1" r="2.35"/>
<circle cx="334.4" cy="584.7" r="2.35"/>
<circle cx="334.4" cy="592.2" r="2.35"/>
<circle cx="334.4" cy="571.7" r="2.35"/>
<circle cx="334.4" cy="587.7" r="2.35"/>
<circle cx="334.4" cy="580.2" r="2.35"/>
<circle cx="334.4" cy="588.8" r="2.35"/>
<circle cx="334.4" cy="571.3" r="2.35"/>
<circle cx="334.4" cy="590.7" r="2.35"/>
<circle cx="334.4" cy="578.6" r="2.35"/>
<circle cx="334.4" cy="576.5" r="2.35"/>
<circle cx="334.4" cy="579.6" r="2.35"/>
<circle cx="334.4" cy="583.5" r="2.35"/>
<circle cx="334.4" cy="581.0" r="2.35"/>
<circle cx="334.4" cy="579.0" r="2.35"/>
<circle cx="334.4" cy="583.1" r="2.35"/>
<circle cx="334.4" cy="576.4" r="2.35"/>
<circle cx="334.4" cy="592.6" r="2.35"/>
<circle cx="334.4" cy="582.3" r="2.35"/>
<circle cx="334.4" cy="572.5" r="2.35"/>
<circle cx="334.4" cy="592.5" r="2.35"/>
<circle cx="334.4" cy="583.6" r="2.35"/>
<circle cx="334.4" cy="591.7" r="2.35"/>
<circle cx="334.4" cy="574.7" r="2.35"/>
<circle cx="334.4" cy="582.5" r="2.35"/>
<circle cx="334.4" cy="569.9" r="2.35"/>
<circle cx="334.4" cy="593.3" r="2.35"/>
<circle cx="334.4" cy="581.1" r="2.35"/>
<circle cx="334.4" cy="574.6" r="2.35"/>
<circle cx="334.4" cy="581.8" r="2.35"/>
<circle cx="334.4" cy="588.2" r="2.35"/>
<circle cx="334.4" cy="580.2" r="2.35"/>
<circle cx="334.4" cy="583.5" r="2.35"/>
<circle cx="334.4" cy="588.1" r="2.35"/>
<circle cx="334.4" cy="589.2" r="2.35"/>
<circle cx="334.4" cy="576.5" r="2.35"/>
<circle cx="334.4" cy="582.7" r="2.35"/>
<circle cx="334.4" cy="567.2" r="2.35"/>
<circle cx="334.4" cy="571.1" r="2.35"/>
<circle cx="334.4" cy="575.6" r="2.35"/>
<circle cx="334.4" cy="577.1" r="2.35"/>
<circle cx="334.4" cy="568.9" r="2.35"/>
<circle cx="334.4" cy="586.3" r="2.35"/>
<circle cx="334.4" cy="592.0" r="2.35"/>
<circle cx="334.4" cy="582.4" r="2.35"/>
<circle cx="334.4" cy="586.3" r="2.35"/>
<circle cx="334.4" cy="589.7" r="2.35"/>
<circle cx="334.4" cy="576.0" r="2.35"/>
<circle cx="334.4" cy="588.8" r="2.35"/>
<circle cx="334.4" cy="566.6" r="2.35"/>
<circle cx="334.4" cy="568.8" r="2.35"/>
<circle cx="334.4" cy="567.3" r="2.35"/>
<circle cx="334.4" cy="587.8" r="2.35"/>
<circle cx="334.4" cy="578.9" r="2.35"/>
<circle cx="334.4" cy="581.5" r="2.35"/>
<circle cx="334.4" cy="571.0" r="2.35"/>
<circle cx="334.4" cy="579.7" r="2.35"/>
<circle cx="334.4" cy="567.5" r="2.35"/>
<circle cx="334.4" cy="591.1" r="2.35"/>
<circle cx="334.4" cy="569.9" r="2.35"/>
<circle cx="334.4" cy="581.1" r="2.35"/>
<circle cx="334.4" cy="582.4" r="2.35"/>
<circle cx="334.4" cy="576.6" r="2.35"/>
<circle cx="334.4" cy="579.9" r="2.35"/>
<circle cx="334.4" cy="584.8" r="2.35"/>
<circle cx="334.4" cy="587.5" r="2.35"/>
<circle cx="334.4" cy="580.7" r="2.35"/>
<circle cx="334.4" cy="580.2" r="2.35"/>
<circle cx="334.4" cy="579.6" r="2.35"/>
<circle cx="334.4" cy="581.6" r="2.35"/>
<circle cx="334.4" cy="589.3" r="2.35"/>
<circle cx="334.4" cy="572.4" r="2.35"/>
<circle cx="334.4" cy="586.0" r="2.35"/>
<circle cx="334.4" cy="581.2" r="2.35"/>
<circle cx="334.4" cy="568.6" r="2.35"/>
<circle cx="334.4" cy="598.9" r="2.35"/>
<circle cx="334.4" cy="603.0" r="2.35"/>
<circle cx="372.9" cy="608.6" r="2.35"/>
<circle cx="372.9" cy="621.0" r="2.35"/>
<circle cx="372.9" cy="617.5" r="2.35"/>
<circle cx="372.9" cy="618.4" r="2.35"/>
<circle cx="372.9" cy="610.5" r="2.35"/>
<circle cx="372.9" cy="614.2" r="2.35"/>
<circle cx="372.9" cy="609.9" r="2.35"/>
<circle cx="372.9" cy="617.6" r="2.35"/>
<circle cx="372.9" cy="614.7" r="2.35"/>
<circle cx="372.9" cy="616.5" r="2.35"/>
<circle cx="372.9" cy="617.4" r="2.35"/>
<circle cx="372.9" cy="616.3" r="2.35"/>
<circle cx="372.9" cy="620.6" r="2.35"/>
<circle cx="372.9" cy="618.6" r="2.35"/>
<circle cx="372.9" cy="613.5" r="2.35"/>
<circle cx="372.9" cy="611.1" r="2.35"/>
<circle cx="372.9" cy="616.9" r="2.35"/>
<circle cx="372.9" cy="611.7" r="2.35"/>
<circle cx="372.9" cy="619.6" r="2.35"/>
<circle cx="372.9" cy="619.1" r="2.35"/>
<circle cx="372.9" cy="613.3" r="2.35"/>
<circle cx="372.9" cy="614.2" r="2.35"/>
<circle cx="372.9" cy="619.1" r="2.35"/>
<circle cx="372.9" cy="608.9" r="2.35"/>
<circle cx="372.9" cy="620.0" r="2.35"/>
<circle cx="372.9" cy="615.9" r="2.35"/>
<circle cx="372.9" cy="615.5" r="2.35"/>
<circle cx="372.9" cy="612.7" r="2.35"/>
<circle cx="372.9" cy="612.0" r="2.35"/>
<circle cx="372.9" cy="613.1" r="2.35"/>
<circle cx="372.9" cy="612.5" r="2.35"/>
<circle cx="372.9" cy="615.7" r="2.35"/>
<circle cx="372.9" cy="611.3" r="2.35"/>
<circle cx="372.9" cy="620.9" r="2.35"/>
<circle cx="372.9" cy="618.9" r="2.35"/>
<circle cx="372.9" cy="612.3" r="2.35"/>
<circle cx="372.9" cy="613.7" r="2.35"/>
<circle cx="372.9" cy="617.1" r="2.35"/>
<circle cx="372.9" cy="620.9" r="2.35"/>
<circle cx="372.9" cy="620.3" r="2.35"/>
<circle cx="372.9" cy="619.2" r="2.35"/>
<circle cx="372.9" cy="615.0" r="2.35"/>
<circle cx="372.9" cy="618.6" r="2.35"/>
<circle cx="372.9" cy="609.4" r="2.35"/>
<circle cx="372.9" cy="617.6" r="2.35"/>
<circle cx="372.9" cy="614.6" r="2.35"/>
<circle cx="372.9" cy="613.6" r="2.35"/>
<circle cx="372.9" cy="614.2" r="2.35"/>
<circle cx="372.9" cy="611.3" r="2.35"/>
<circle cx="372.9" cy="613.0" r="2.35"/>
<circle cx="372.9" cy="612.3" r="2.35"/>
<circle cx="372.9" cy="617.5" r="2.35"/>
<circle cx="372.9" cy="612.9" r="2.35"/>
<circle cx="372.9" cy="612.1" r="2.35"/>
<circle cx="372.9" cy="614.6" r="2.35"/>
<circle cx="372.9" cy="617.7" r="2.35"/>
<circle cx="372.9" cy="616.1" r="2.35"/>
<circle cx="372.9" cy="618.5" r="2.35"/>
<circle cx="372.9" cy="612.5" r="2.35"/>
<circle cx="372.9" cy="613.2" r="2.35"/>
<circle cx="372.9" cy="618.8" r="2.35"/>
<circle cx="372.9" cy="614.5" r="2.35"/>
<circle cx="372.9" cy="613.1" r="2.35"/>
<circle cx="372.9" cy="613.1" r="2.35"/>
<circle cx="372.9" cy="613.4" r="2.35"/>
<circle cx="372.9" cy="620.5" r="2.35"/>
<circle cx="372.9" cy="616.6" r="2.35"/>
<circle cx="372.9" cy="618.8" r="2.35"/>
<circle cx="372.9" cy="611.0" r="2.35"/>
<circle cx="372.9" cy="615.6" r="2.35"/>
<circle cx="372.9" cy="617.2" r="2.35"/>
<circle cx="372.9" cy="608.8" r="2.35"/>
<circle cx="385.8" cy="603.2" r="2.35"/>
<circle cx="385.8" cy="617.9" r="2.35"/>
<circle cx="385.8" cy="610.2" r="2.35"/>
<circle cx="385.8" cy="604.5" r="2.35"/>
<circle cx="385.8" cy="617.6" r="2.35"/>
<circle cx="385.8" cy="608.7" r="2.35"/>
<circle cx="385.8" cy="612.3" r="2.35"/>
<circle cx="385.8" cy="611.9" r="2.35"/>
<circle cx="385.8" cy="605.4" r="2.35"/>
<circle cx="385.8" cy="615.0" r="2.35"/>
<circle cx="385.8" cy="610.4" r="2.35"/>
<circle cx="385.8" cy="611.5" r="2.35"/>
<circle cx="385.8" cy="615.6" r="2.35"/>
<circle cx="385.8" cy="611.9" r="2.35"/>
<circle cx="385.8" cy="611.3" r="2.35"/>
<circle cx="385.8" cy="604.9" r="2.35"/>
<circle cx="385.8" cy="615.0" r="2.35"/>
<circle cx="385.8" cy="607.3" r="2.35"/>
<circle cx="385.8" cy="615.7" r="2.35"/>
<circle cx="385.8" cy="614.5" r="2.35"/>
<circle cx="385.8" cy="607.4" r="2.35"/>
<circle cx="385.8" cy="607.0" r="2.35"/>
<circle cx="385.8" cy="614.4" r="2.35"/>
<circle cx="385.8" cy="613.2" r="2.35"/>
<circle cx="385.8" cy="608.9" r="2.35"/>
<circle cx="385.8" cy="612.3" r="2.35"/>
<circle cx="385.8" cy="609.9" r="2.35"/>
<circle cx="385.8" cy="612.7" r="2.35"/>
<circle cx="385.8" cy="610.6" r="2.35"/>
<circle cx="385.8" cy="608.3" r="2.35"/>
<circle cx="385.8" cy="611.5" r="2.35"/>
<circle cx="385.8" cy="608.5" r="2.35"/>
<circle cx="385.8" cy="612.2" r="2.35"/>
<circle cx="385.8" cy="612.4" r="2.35"/>
<circle cx="385.8" cy="610.1" r="2.35"/>
<circle cx="385.8" cy="608.2" r="2.35"/>
<circle cx="385.8" cy="612.4" r="2.35"/>
<circle cx="385.8" cy="612.6" r="2.35"/>
<circle cx="385.8" cy="613.7" r="2.35"/>
<circle cx="385.8" cy="612.1" r="2.35"/>
<circle cx="385.8" cy="608.3" r="2.35"/>
<circle cx="385.8" cy="612.3" r="2.35"/>
<circle cx="385.8" cy="613.7" r="2.35"/>
<circle cx="385.8" cy="611.1" r="2.35"/>
<circle cx="385.8" cy="604.4" r="2.35"/>
<circle cx="385.8" cy="609.0" r="2.35"/>
<circle cx="385.8" cy="613.1" r="2.35"/>
<circle cx="385.8" cy="611.3" r="2.35"/>
<circle cx="385.8" cy="613.9" r="2.35"/>
<circle cx="385.8" cy="613.6" r="2.35"/>
<circle cx="385.8" cy="609.8" r="2.35"/>
<circle cx="385.8" cy="616.0" r="2.35"/>
<circle cx="385.8" cy="606.8" r="2.35"/>
<circle cx="385.8" cy="608.4" r="2.35"/>
<circle cx="385.8" cy="609.0" r="2.35"/>
<circle cx="385.8" cy="616.9" r="2.35"/>
<circle cx="385.8" cy="608.5" r="2.35"/>
<circle cx="385.8" cy="613.2" r="2.35"/>
<circle cx="385.8" cy="613.4" r="2.35"/>
<circle cx="385.8" cy="613.3" r="2.35"/>
<circle cx="385.8" cy="609.8" r="2.35"/>
<circle cx="385.8" cy="612.6" r="2.35"/>
<circle cx="385.8" cy="605.6" r="2.35"/>
<circle cx="385.8" cy="610.6" r="2.35"/>
<circle cx="385.8" cy="615.1" r="2.35"/>
<circle cx="385.8" cy="614.0" r="2.35"/>
<circle cx="385.8" cy="617.4" r="2.35"/>
<circle cx="385.8" cy="609.0" r="2.35"/>
<circle cx="385.8" cy="613.8" r="2.35"/>
<circle cx="385.8" cy="610.4" r="2.35"/>
<circle cx="385.8" cy="605.2" r="2.35"/>
<circle cx="385.8" cy="612.9" r="2.35"/>
<circle cx="398.7" cy="596.9" r="2.35"/>
<circle cx="398.7" cy="613.3" r="2.35"/>
<circle cx="398.7" cy="611.4" r="2.35"/>
<circle cx="398.7" cy="610.8" r="2.35"/>
<circle cx="398.7" cy="604.3" r="2.35"/>
<circle cx="398.7" cy="604.7" r="2.35"/>
<circle cx="398.7" cy="605.9" r="2.35"/>
<circle cx="398.7" cy="599.2" r="2.35"/>
<circle cx="398.7" cy="607.3" r="2.35"/>
<circle cx="398.7" cy="600.4" r="2.35"/>
<circle cx="398.7" cy="600.9" r="2.35"/>
<circle cx="398.7" cy="609.8" r="2.35"/>
<circle cx="398.7" cy="601.2" r="2.35"/>
<circle cx="398.7" cy="610.2" r="2.35"/>
<circle cx="398.7" cy="608.7" r="2.35"/>
<circle cx="398.7" cy="608.1" r="2.35"/>
<circle cx="398.7" cy="610.8" r="2.35"/>
<circle cx="398.7" cy="601.5" r="2.35"/>
<circle cx="398.7" cy="605.3" r="2.35"/>
<circle cx="398.7" cy="600.2" r="2.35"/>
<circle cx="398.7" cy="599.4" r="2.35"/>
<circle cx="398.7" cy="604.5" r="2.35"/>
<circle cx="398.7" cy="605.5" r="2.35"/>
<circle cx="398.7" cy="604.9" r="2.35"/>
<circle cx="398.7" cy="610.6" r="2.35"/>
<circle cx="398.7" cy="611.2" r="2.35"/>
<circle cx="398.7" cy="598.8" r="2.35"/>
<circle cx="398.7" cy="598.0" r="2.35"/>
<circle cx="398.7" cy="612.9" r="2.35"/>
<circle cx="398.7" cy="604.7" r="2.35"/>
<circle cx="398.7" cy="603.9" r="2.35"/>
<circle cx="398.7" cy="603.4" r="2.35"/>
<circle cx="398.7" cy="610.8" r="2.35"/>
<circle cx="398.7" cy="599.1" r="2.35"/>
<circle cx="398.7" cy="599.4" r="2.35"/>
<circle cx="398.7" cy="606.7" r="2.35"/>
<circle cx="398.7" cy="607.5" r="2.35"/>
<circle cx="398.7" cy="608.2" r="2.35"/>
<circle cx="398.7" cy="601.8" r="2.35"/>
<circle cx="398.7" cy="602.4" r="2.35"/>
<circle cx="398.7" cy="609.3" r="2.35"/>
<circle cx="398.7" cy="609.8" r="2.35"/>
<circle cx="398.7" cy="608.5" r="2.35"/>
<circle cx="398.7" cy="607.0" r="2.35"/>
<circle cx="398.7" cy="605.5" r="2.35"/>
<circle cx="398.7" cy="607.6" r="2.35"/>
<circle cx="398.7" cy="609.5" r="2.35"/>
<circle cx="398.7" cy="607.4" r="2.35"/>
<circle cx="398.7" cy="612.0" r="2.35"/>
<circle cx="398.7" cy="611.9" r="2.35"/>
<circle cx="398.7" cy="610.5" r="2.35"/>
<circle cx="398.7" cy="603.5" r="2.35"/>
<circle cx="398.7" cy="607.7" r="2.35"/>
<circle cx="398.7" cy="604.5" r="2.35"/>
<circle cx="398.7" cy="599.5" r="2.35"/>
<circle cx="398.7" cy="611.1" r="2.35"/>
<circle cx="398.7" cy="599.0" r="2.35"/>
<circle cx="398.7" cy="612.0" r="2.35"/>
<circle cx="398.7" cy="610.5" r="2.35"/>
<circle cx="398.7" cy="608.9" r="2.35"/>
<circle cx="398.7" cy="598.1" r="2.35"/>
<circle cx="398.7" cy="598.3" r="2.35"/>
<circle cx="398.7" cy="605.8" r="2.35"/>
<circle cx="398.7" cy="612.2" r="2.35"/>
<circle cx="398.7" cy="598.5" r="2.35"/>
<circle cx="398.7" cy="606.7" r="2.35"/>
<circle cx="398.7" cy="611.1" r="2.35"/>
<circle cx="398.7" cy="604.0" r="2.35"/>
<circle cx="398.7" cy="601.9" r="2.35"/>
<circle cx="398.7" cy="606.6" r="2.35"/>
<circle cx="398.7" cy="604.2" r="2.35"/>
<circle cx="398.7" cy="599.2" r="2.35"/>
<circle cx="398.7" cy="601.3" r="2.35"/>
<circle cx="398.7" cy="603.7" r="2.35"/>
<circle cx="398.7" cy="598.3" r="2.35"/>
<circle cx="398.7" cy="611.8" r="2.35"/>
<circle cx="398.7" cy="609.5" r="2.35"/>
<circle cx="398.7" cy="610.1" r="2.35"/>
<circle cx="398.7" cy="602.2" r="2.35"/>
<circle cx="398.7" cy="608.7" r="2.35"/>
<circle cx="398.7" cy="594.6" r="2.35"/>
<circle cx="398.7" cy="617.2" r="2.35"/>
<circle cx="398.7" cy="619.8" r="2.35"/>
<circle cx="411.5" cy="601.6" r="2.35"/>
<circle cx="411.5" cy="614.9" r="2.35"/>
<circle cx="411.5" cy="607.9" r="2.35"/>
<circle cx="411.5" cy="610.4" r="2.35"/>
<circle cx="411.5" cy="613.9" r="2.35"/>
<circle cx="411.5" cy="608.0" r="2.35"/>
<circle cx="411.5" cy="602.1" r="2.35"/>
<circle cx="411.5" cy="614.0" r="2.35"/>
<circle cx="411.5" cy="611.5" r="2.35"/>
<circle cx="411.5" cy="606.7" r="2.35"/>
<circle cx="411.5" cy="606.7" r="2.35"/>
<circle cx="411.5" cy="612.8" r="2.35"/>
<circle cx="411.5" cy="607.9" r="2.35"/>
<circle cx="411.5" cy="604.9" r="2.35"/>
<circle cx="411.5" cy="602.3" r="2.35"/>
<circle cx="411.5" cy="606.4" r="2.35"/>
<circle cx="411.5" cy="606.8" r="2.35"/>
<circle cx="411.5" cy="605.7" r="2.35"/>
<circle cx="411.5" cy="601.8" r="2.35"/>
<circle cx="411.5" cy="604.7" r="2.35"/>
<circle cx="411.5" cy="613.0" r="2.35"/>
<circle cx="411.5" cy="605.4" r="2.35"/>
<circle cx="411.5" cy="611.7" r="2.35"/>
<circle cx="411.5" cy="604.5" r="2.35"/>
<circle cx="411.5" cy="611.5" r="2.35"/>
<circle cx="411.5" cy="606.6" r="2.35"/>
<circle cx="411.5" cy="614.5" r="2.35"/>
<circle cx="411.5" cy="609.2" r="2.35"/>
<circle cx="411.5" cy="614.4" r="2.35"/>
<circle cx="411.5" cy="606.5" r="2.35"/>
<circle cx="411.5" cy="614.5" r="2.35"/>
<circle cx="411.5" cy="605.4" r="2.35"/>
<circle cx="411.5" cy="612.9" r="2.35"/>
<circle cx="411.5" cy="614.1" r="2.35"/>
<circle cx="411.5" cy="610.1" r="2.35"/>
<circle cx="411.5" cy="603.0" r="2.35"/>
<circle cx="411.5" cy="604.9" r="2.35"/>
<circle cx="411.5" cy="605.8" r="2.35"/>
<circle cx="411.5" cy="607.3" r="2.35"/>
<circle cx="411.5" cy="613.7" r="2.35"/>
<circle cx="411.5" cy="602.3" r="2.35"/>
<circle cx="411.5" cy="607.8" r="2.35"/>
<circle cx="411.5" cy="608.7" r="2.35"/>
<circle cx="411.5" cy="608.6" r="2.35"/>
<circle cx="411.5" cy="603.7" r="2.35"/>
<circle cx="411.5" cy="608.2" r="2.35"/>
<circle cx="411.5" cy="604.3" r="2.35"/>
<circle cx="411.5" cy="608.0" r="2.35"/>
<circle cx="411.5" cy="614.7" r="2.35"/>
<circle cx="411.5" cy="611.5" r="2.35"/>
<circle cx="411.5" cy="614.7" r="2.35"/>
<circle cx="411.5" cy="611.2" r="2.35"/>
<circle cx="411.5" cy="606.2" r="2.35"/>
<circle cx="411.5" cy="603.9" r="2.35"/>
<circle cx="411.5" cy="608.2" r="2.35"/>
<circle cx="411.5" cy="607.2" r="2.35"/>
<circle cx="411.5" cy="604.1" r="2.35"/>
<circle cx="411.5" cy="614.6" r="2.35"/>
<circle cx="411.5" cy="612.4" r="2.35"/>
<circle cx="411.5" cy="606.1" r="2.35"/>
<circle cx="411.5" cy="609.0" r="2.35"/>
<circle cx="411.5" cy="612.3" r="2.35"/>
<circle cx="411.5" cy="607.0" r="2.35"/>
<circle cx="411.5" cy="605.6" r="2.35"/>
<circle cx="411.5" cy="610.1" r="2.35"/>
<circle cx="411.5" cy="613.1" r="2.35"/>
<circle cx="411.5" cy="608.2" r="2.35"/>
<circle cx="411.5" cy="608.7" r="2.35"/>
<circle cx="411.5" cy="604.3" r="2.35"/>
<circle cx="411.5" cy="609.2" r="2.35"/>
<circle cx="411.5" cy="611.2" r="2.35"/>
<circle cx="411.5" cy="602.0" r="2.35"/>
<circle cx="411.5" cy="599.2" r="2.35"/>
<circle cx="411.5" cy="620.7" r="2.35"/>
<circle cx="424.4" cy="597.6" r="2.35"/>
<circle cx="424.4" cy="612.1" r="2.35"/>
<circle cx="424.4" cy="609.2" r="2.35"/>
<circle cx="424.4" cy="603.7" r="2.35"/>
<circle cx="424.4" cy="608.1" r="2.35"/>
<circle cx="424.4" cy="605.3" r="2.35"/>
<circle cx="424.4" cy="607.2" r="2.35"/>
<circle cx="424.4" cy="606.6" r="2.35"/>
<circle cx="424.4" cy="609.6" r="2.35"/>
<circle cx="424.4" cy="601.2" r="2.35"/>
<circle cx="424.4" cy="604.7" r="2.35"/>
<circle cx="424.4" cy="598.7" r="2.35"/>
<circle cx="424.4" cy="605.6" r="2.35"/>
<circle cx="424.4" cy="611.4" r="2.35"/>
<circle cx="424.4" cy="603.7" r="2.35"/>
<circle cx="424.4" cy="611.0" r="2.35"/>
<circle cx="424.4" cy="602.6" r="2.35"/>
<circle cx="424.4" cy="607.3" r="2.35"/>
<circle cx="424.4" cy="607.0" r="2.35"/>
<circle cx="424.4" cy="607.6" r="2.35"/>
<circle cx="424.4" cy="608.9" r="2.35"/>
<circle cx="424.4" cy="610.6" r="2.35"/>
<circle cx="424.4" cy="603.6" r="2.35"/>
<circle cx="424.4" cy="601.1" r="2.35"/>
<circle cx="424.4" cy="609.7" r="2.35"/>
<circle cx="424.4" cy="599.5" r="2.35"/>
<circle cx="424.4" cy="612.0" r="2.35"/>
<circle cx="424.4" cy="602.3" r="2.35"/>
<circle cx="424.4" cy="606.9" r="2.35"/>
<circle cx="424.4" cy="609.8" r="2.35"/>
<circle cx="424.4" cy="599.2" r="2.35"/>
<circle cx="424.4" cy="605.3" r="2.35"/>
<circle cx="424.4" cy="604.1" r="2.35"/>
<circle cx="424.4" cy="599.5" r="2.35"/>
<circle cx="424.4" cy="599.8" r="2.35"/>
<circle cx="424.4" cy="608.4" r="2.35"/>
<circle cx="424.4" cy="602.7" r="2.35"/>
<circle cx="424.4" cy="611.9" r="2.35"/>
<circle cx="424.4" cy="599.9" r="2.35"/>
<circle cx="424.4" cy="607.9" r="2.35"/>
<circle cx="424.4" cy="603.8" r="2.35"/>
<circle cx="424.4" cy="606.8" r="2.35"/>
<circle cx="424.4" cy="602.5" r="2.35"/>
<circle cx="424.4" cy="600.1" r="2.35"/>
<circle cx="424.4" cy="611.7" r="2.35"/>
<circle cx="424.4" cy="602.4" r="2.35"/>
<circle cx="424.4" cy="601.8" r="2.35"/>
<circle cx="424.4" cy="607.0" r="2.35"/>
<circle cx="424.4" cy="605.3" r="2.35"/>
<circle cx="424.4" cy="603.6" r="2.35"/>
<circle cx="424.4" cy="601.9" r="2.35"/>
<circle cx="424.4" cy="610.8" r="2.35"/>
<circle cx="424.4" cy="599.3" r="2.35"/>
<circle cx="424.4" cy="605.0" r="2.35"/>
<circle cx="424.4" cy="609.1" r="2.35"/>
<circle cx="424.4" cy="601.6" r="2.35"/>
<circle cx="424.4" cy="602.2" r="2.35"/>
<circle cx="424.4" cy="600.6" r="2.35"/>
<circle cx="424.4" cy="599.8" r="2.35"/>
<circle cx="424.4" cy="602.0" r="2.35"/>
<circle cx="424.4" cy="609.8" r="2.35"/>
<circle cx="424.4" cy="598.4" r="2.35"/>
<circle cx="424.4" cy="604.5" r="2.35"/>
<circle cx="424.4" cy="610.4" r="2.35"/>
<circle cx="424.4" cy="600.7" r="2.35"/>
<circle cx="424.4" cy="608.4" r="2.35"/>
<circle cx="424.4" cy="611.0" r="2.35"/>
<circle cx="424.4" cy="601.1" r="2.35"/>
<circle cx="424.4" cy="604.0" r="2.35"/>
<circle cx="424.4" cy="610.0" r="2.35"/>
<circle cx="424.4" cy="606.3" r="2.35"/>
<circle cx="424.4" cy="601.8" r="2.35"/>
<circle cx="424.4" cy="604.4" r="2.35"/>
<circle cx="424.4" cy="603.7" r="2.35"/>
<circle cx="424.4" cy="605.6" r="2.35"/>
<circle cx="424.4" cy="606.8" r="2.35"/>
<circle cx="424.4" cy="606.0" r="2.35"/>
<circle cx="424.4" cy="601.8" r="2.35"/>
<circle cx="424.4" cy="605.1" r="2.35"/>
<circle cx="424.4" cy="606.8" r="2.35"/>
<circle cx="424.4" cy="615.6" r="2.35"/>
<circle cx="424.4" cy="619.1" r="2.35"/>
<circle cx="424.4" cy="619.3" r="2.35"/>
<circle cx="437.2" cy="608.6" r="2.35"/>
<circle cx="437.2" cy="625.6" r="2.35"/>
<circle cx="437.2" cy="623.0" r="2.35"/>
<circle cx="437.2" cy="614.2" r="2.35"/>
<circle cx="437.2" cy="611.4" r="2.35"/>
<circle cx="437.2" cy="621.4" r="2.35"/>
<circle cx="437.2" cy="612.0" r="2.35"/>
<circle cx="437.2" cy="616.5" r="2.35"/>
<circle cx="437.2" cy="615.0" r="2.35"/>
<circle cx="437.2" cy="613.4" r="2.35"/>
<circle cx="437.2" cy="616.6" r="2.35"/>
<circle cx="437.2" cy="621.2" r="2.35"/>
<circle cx="437.2" cy="608.9" r="2.35"/>
<circle cx="437.2" cy="616.8" r="2.35"/>
<circle cx="437.2" cy="615.5" r="2.35"/>
<circle cx="437.2" cy="615.9" r="2.35"/>
<circle cx="437.2" cy="615.9" r="2.35"/>
<circle cx="437.2" cy="613.2" r="2.35"/>
<circle cx="437.2" cy="617.5" r="2.35"/>
<circle cx="437.2" cy="617.1" r="2.35"/>
<circle cx="437.2" cy="618.1" r="2.35"/>
<circle cx="437.2" cy="621.6" r="2.35"/>
<circle cx="437.2" cy="608.7" r="2.35"/>
<circle cx="437.2" cy="610.4" r="2.35"/>
<circle cx="437.2" cy="617.2" r="2.35"/>
<circle cx="437.2" cy="615.0" r="2.35"/>
<circle cx="437.2" cy="618.9" r="2.35"/>
<circle cx="437.2" cy="612.4" r="2.35"/>
<circle cx="437.2" cy="614.2" r="2.35"/>
<circle cx="437.2" cy="612.0" r="2.35"/>
<circle cx="437.2" cy="616.4" r="2.35"/>
<circle cx="437.2" cy="617.8" r="2.35"/>
<circle cx="437.2" cy="610.1" r="2.35"/>
<circle cx="437.2" cy="621.1" r="2.35"/>
<circle cx="437.2" cy="617.4" r="2.35"/>
<circle cx="437.2" cy="614.5" r="2.35"/>
<circle cx="437.2" cy="613.9" r="2.35"/>
<circle cx="437.2" cy="618.5" r="2.35"/>
<circle cx="437.2" cy="610.0" r="2.35"/>
<circle cx="437.2" cy="612.5" r="2.35"/>
<circle cx="437.2" cy="620.3" r="2.35"/>
<circle cx="437.2" cy="610.3" r="2.35"/>
<circle cx="437.2" cy="612.4" r="2.35"/>
<circle cx="437.2" cy="619.6" r="2.35"/>
<circle cx="437.2" cy="611.5" r="2.35"/>
<circle cx="437.2" cy="620.8" r="2.35"/>
<circle cx="437.2" cy="611.7" r="2.35"/>
<circle cx="437.2" cy="617.1" r="2.35"/>
<circle cx="437.2" cy="617.6" r="2.35"/>
<circle cx="437.2" cy="609.2" r="2.35"/>
<circle cx="437.2" cy="620.4" r="2.35"/>
<circle cx="437.2" cy="615.4" r="2.35"/>
<circle cx="437.2" cy="616.5" r="2.35"/>
<circle cx="437.2" cy="609.0" r="2.35"/>
<circle cx="437.2" cy="615.4" r="2.35"/>
<circle cx="437.2" cy="619.1" r="2.35"/>
<circle cx="437.2" cy="611.5" r="2.35"/>
<circle cx="437.2" cy="611.8" r="2.35"/>
<circle cx="437.2" cy="611.7" r="2.35"/>
<circle cx="437.2" cy="612.1" r="2.35"/>
<circle cx="437.2" cy="612.2" r="2.35"/>
<circle cx="437.2" cy="618.0" r="2.35"/>
<circle cx="437.2" cy="609.9" r="2.35"/>
<circle cx="450.1" cy="602.3" r="2.35"/>
<circle cx="450.1" cy="617.9" r="2.35"/>
<circle cx="450.1" cy="612.8" r="2.35"/>
<circle cx="450.1" cy="609.5" r="2.35"/>
<circle cx="450.1" cy="605.7" r="2.35"/>
<circle cx="450.1" cy="609.4" r="2.35"/>
<circle cx="450.1" cy="616.8" r="2.35"/>
<circle cx="450.1" cy="605.1" r="2.35"/>
<circle cx="450.1" cy="610.5" r="2.35"/>
<circle cx="450.1" cy="612.4" r="2.35"/>
<circle cx="450.1" cy="608.9" r="2.35"/>
<circle cx="450.1" cy="605.6" r="2.35"/>
<circle cx="450.1" cy="616.4" r="2.35"/>
<circle cx="450.1" cy="604.1" r="2.35"/>
<circle cx="450.1" cy="604.5" r="2.35"/>
<circle cx="450.1" cy="606.7" r="2.35"/>
<circle cx="450.1" cy="612.5" r="2.35"/>
<circle cx="450.1" cy="609.0" r="2.35"/>
<circle cx="450.1" cy="610.6" r="2.35"/>
<circle cx="450.1" cy="607.2" r="2.35"/>
<circle cx="450.1" cy="609.6" r="2.35"/>
<circle cx="450.1" cy="613.1" r="2.35"/>
<circle cx="450.1" cy="614.8" r="2.35"/>
<circle cx="450.1" cy="605.2" r="2.35"/>
<circle cx="450.1" cy="609.4" r="2.35"/>
<circle cx="450.1" cy="605.3" r="2.35"/>
<circle cx="450.1" cy="609.0" r="2.35"/>
<circle cx="450.1" cy="616.1" r="2.35"/>
<circle cx="450.1" cy="614.3" r="2.35"/>
<circle cx="450.1" cy="609.3" r="2.35"/>
<circle cx="450.1" cy="605.8" r="2.35"/>
<circle cx="450.1" cy="607.3" r="2.35"/>
<circle cx="450.1" cy="605.9" r="2.35"/>
<circle cx="450.1" cy="602.4" r="2.35"/>
<circle cx="450.1" cy="602.8" r="2.35"/>
<circle cx="450.1" cy="613.7" r="2.35"/>
<circle cx="450.1" cy="613.9" r="2.35"/>
<circle cx="450.1" cy="613.5" r="2.35"/>
<circle cx="450.1" cy="607.0" r="2.35"/>
<circle cx="450.1" cy="610.6" r="2.35"/>
<circle cx="450.1" cy="610.1" r="2.35"/>
<circle cx="450.1" cy="606.6" r="2.35"/>
<circle cx="450.1" cy="609.2" r="2.35"/>
<circle cx="450.1" cy="608.2" r="2.35"/>
<circle cx="450.1" cy="617.9" r="2.35"/>
<circle cx="450.1" cy="609.5" r="2.35"/>
<circle cx="450.1" cy="609.9" r="2.35"/>
<circle cx="450.1" cy="606.8" r="2.35"/>
<circle cx="450.1" cy="606.1" r="2.35"/>
<circle cx="450.1" cy="605.5" r="2.35"/>
<circle cx="450.1" cy="610.2" r="2.35"/>
<circle cx="450.1" cy="617.1" r="2.35"/>
<circle cx="450.1" cy="611.6" r="2.35"/>
<circle cx="450.1" cy="616.4" r="2.35"/>
<circle cx="450.1" cy="611.4" r="2.35"/>
<circle cx="450.1" cy="609.1" r="2.35"/>
<circle cx="450.1" cy="603.3" r="2.35"/>
<circle cx="450.1" cy="611.7" r="2.35"/>
<circle cx="450.1" cy="608.1" r="2.35"/>
<circle cx="450.1" cy="611.4" r="2.35"/>
<circle cx="450.1" cy="613.2" r="2.35"/>
<circle cx="450.1" cy="611.3" r="2.35"/>
<circle cx="450.1" cy="607.2" r="2.35"/>
<circle cx="450.1" cy="613.0" r="2.35"/>
<circle cx="450.1" cy="616.9" r="2.35"/>
<circle cx="450.1" cy="608.2" r="2.35"/>
<circle cx="450.1" cy="613.3" r="2.35"/>
<circle cx="450.1" cy="616.5" r="2.35"/>
<circle cx="450.1" cy="607.1" r="2.35"/>
<circle cx="450.1" cy="611.2" r="2.35"/>
<circle cx="450.1" cy="605.5" r="2.35"/>
<circle cx="450.1" cy="613.9" r="2.35"/>
<circle cx="450.1" cy="607.8" r="2.35"/>
<circle cx="450.1" cy="617.3" r="2.35"/>
<circle cx="450.1" cy="605.3" r="2.35"/>
<circle cx="450.1" cy="608.2" r="2.35"/>
<circle cx="450.1" cy="604.9" r="2.35"/>
<circle cx="450.1" cy="604.5" r="2.35"/>
<circle cx="450.1" cy="614.2" r="2.35"/>
<circle cx="450.1" cy="604.8" r="2.35"/>
<circle cx="450.1" cy="576.6" r="2.35"/>
<circle cx="450.1" cy="623.3" r="2.35"/>
<circle cx="463.0" cy="606.2" r="2.35"/>
<circle cx="463.0" cy="623.3" r="2.35"/>
<circle cx="463.0" cy="618.3" r="2.35"/>
<circle cx="463.0" cy="614.6" r="2.35"/>
<circle cx="463.0" cy="609.8" r="2.35"/>
<circle cx="463.0" cy="617.7" r="2.35"/>
<circle cx="463.0" cy="611.1" r="2.35"/>
<circle cx="463.0" cy="620.3" r="2.35"/>
<circle cx="463.0" cy="608.2" r="2.35"/>
<circle cx="463.0" cy="612.4" r="2.35"/>
<circle cx="463.0" cy="616.6" r="2.35"/>
<circle cx="463.0" cy="618.0" r="2.35"/>
<circle cx="463.0" cy="606.9" r="2.35"/>
<circle cx="463.0" cy="616.2" r="2.35"/>
<circle cx="463.0" cy="614.0" r="2.35"/>
<circle cx="463.0" cy="621.3" r="2.35"/>
<circle cx="463.0" cy="610.9" r="2.35"/>
<circle cx="463.0" cy="611.3" r="2.35"/>
<circle cx="463.0" cy="612.6" r="2.35"/>
<circle cx="463.0" cy="619.7" r="2.35"/>
<circle cx="463.0" cy="610.5" r="2.35"/>
<circle cx="463.0" cy="609.9" r="2.35"/>
<circle cx="463.0" cy="620.5" r="2.35"/>
<circle cx="463.0" cy="621.7" r="2.35"/>
<circle cx="463.0" cy="621.3" r="2.35"/>
<circle cx="463.0" cy="613.4" r="2.35"/>
<circle cx="463.0" cy="609.1" r="2.35"/>
<circle cx="463.0" cy="613.0" r="2.35"/>
<circle cx="463.0" cy="619.3" r="2.35"/>
<circle cx="463.0" cy="615.6" r="2.35"/>
<circle cx="463.0" cy="618.7" r="2.35"/>
<circle cx="463.0" cy="618.7" r="2.35"/>
<circle cx="463.0" cy="608.7" r="2.35"/>
<circle cx="463.0" cy="608.4" r="2.35"/>
<circle cx="463.0" cy="611.4" r="2.35"/>
<circle cx="463.0" cy="609.0" r="2.35"/>
<circle cx="463.0" cy="608.4" r="2.35"/>
<circle cx="463.0" cy="621.4" r="2.35"/>
<circle cx="463.0" cy="607.0" r="2.35"/>
<circle cx="463.0" cy="608.8" r="2.35"/>
<circle cx="463.0" cy="621.9" r="2.35"/>
<circle cx="463.0" cy="609.1" r="2.35"/>
<circle cx="463.0" cy="615.4" r="2.35"/>
<circle cx="463.0" cy="615.6" r="2.35"/>
<circle cx="463.0" cy="615.1" r="2.35"/>
<circle cx="463.0" cy="610.4" r="2.35"/>
<circle cx="463.0" cy="613.2" r="2.35"/>
<circle cx="463.0" cy="611.3" r="2.35"/>
<circle cx="463.0" cy="614.6" r="2.35"/>
<circle cx="463.0" cy="620.0" r="2.35"/>
<circle cx="463.0" cy="608.5" r="2.35"/>
<circle cx="463.0" cy="614.2" r="2.35"/>
<circle cx="463.0" cy="614.7" r="2.35"/>
<circle cx="463.0" cy="614.4" r="2.35"/>
<circle cx="463.0" cy="621.6" r="2.35"/>
<circle cx="463.0" cy="616.9" r="2.35"/>
<circle cx="463.0" cy="620.6" r="2.35"/>
<circle cx="463.0" cy="613.6" r="2.35"/>
<circle cx="463.0" cy="613.9" r="2.35"/>
<circle cx="463.0" cy="614.4" r="2.35"/>
<circle cx="463.0" cy="622.2" r="2.35"/>
<circle cx="463.0" cy="607.9" r="2.35"/>
<circle cx="463.0" cy="619.3" r="2.35"/>
<circle cx="463.0" cy="615.1" r="2.35"/>
<circle cx="463.0" cy="620.3" r="2.35"/>
<circle cx="463.0" cy="613.2" r="2.35"/>
<circle cx="463.0" cy="608.7" r="2.35"/>
<circle cx="463.0" cy="614.2" r="2.35"/>
<circle cx="463.0" cy="621.6" r="2.35"/>
<circle cx="463.0" cy="613.3" r="2.35"/>
<circle cx="463.0" cy="613.9" r="2.35"/>
<circle cx="463.0" cy="612.3" r="2.35"/>
<circle cx="463.0" cy="622.0" r="2.35"/>
<circle cx="463.0" cy="614.3" r="2.35"/>
<circle cx="463.0" cy="618.6" r="2.35"/>
<circle cx="463.0" cy="608.1" r="2.35"/>
<circle cx="463.0" cy="622.3" r="2.35"/>
<circle cx="463.0" cy="608.5" r="2.35"/>
<circle cx="463.0" cy="614.4" r="2.35"/>
<circle cx="463.0" cy="612.4" r="2.35"/>
<circle cx="475.8" cy="610.9" r="2.35"/>
<circle cx="475.8" cy="626.1" r="2.35"/>
<circle cx="475.8" cy="615.5" r="2.35"/>
<circle cx="475.8" cy="617.3" r="2.35"/>
<circle cx="475.8" cy="618.4" r="2.35"/>
<circle cx="475.8" cy="621.9" r="2.35"/>
<circle cx="475.8" cy="620.4" r="2.35"/>
<circle cx="475.8" cy="621.4" r="2.35"/>
<circle cx="475.8" cy="612.7" r="2.35"/>
<circle cx="475.8" cy="622.3" r="2.35"/>
<circle cx="475.8" cy="624.6" r="2.35"/>
<circle cx="475.8" cy="611.5" r="2.35"/>
<circle cx="475.8" cy="615.0" r="2.35"/>
<circle cx="475.8" cy="612.0" r="2.35"/>
<circle cx="475.8" cy="622.5" r="2.35"/>
<circle cx="475.8" cy="620.6" r="2.35"/>
<circle cx="475.8" cy="618.7" r="2.35"/>
<circle cx="475.8" cy="614.5" r="2.35"/>
<circle cx="475.8" cy="620.6" r="2.35"/>
<circle cx="475.8" cy="618.7" r="2.35"/>
<circle cx="475.8" cy="614.0" r="2.35"/>
<circle cx="475.8" cy="620.5" r="2.35"/>
<circle cx="475.8" cy="614.5" r="2.35"/>
<circle cx="475.8" cy="624.3" r="2.35"/>
<circle cx="475.8" cy="622.3" r="2.35"/>
<circle cx="475.8" cy="614.3" r="2.35"/>
<circle cx="475.8" cy="622.1" r="2.35"/>
<circle cx="475.8" cy="618.9" r="2.35"/>
<circle cx="475.8" cy="614.2" r="2.35"/>
<circle cx="475.8" cy="612.9" r="2.35"/>
<circle cx="475.8" cy="611.6" r="2.35"/>
<circle cx="475.8" cy="620.6" r="2.35"/>
<circle cx="475.8" cy="625.8" r="2.35"/>
<circle cx="475.8" cy="614.7" r="2.35"/>
<circle cx="475.8" cy="619.5" r="2.35"/>
<circle cx="475.8" cy="620.6" r="2.35"/>
<circle cx="475.8" cy="623.2" r="2.35"/>
<circle cx="475.8" cy="621.2" r="2.35"/>
<circle cx="475.8" cy="626.0" r="2.35"/>
<circle cx="475.8" cy="623.2" r="2.35"/>
<circle cx="475.8" cy="613.9" r="2.35"/>
<circle cx="475.8" cy="620.9" r="2.35"/>
<circle cx="475.8" cy="617.4" r="2.35"/>
<circle cx="475.8" cy="618.6" r="2.35"/>
<circle cx="475.8" cy="622.0" r="2.35"/>
<circle cx="475.8" cy="616.7" r="2.35"/>
<circle cx="475.8" cy="623.6" r="2.35"/>
<circle cx="475.8" cy="613.4" r="2.35"/>
<circle cx="475.8" cy="615.2" r="2.35"/>
<circle cx="475.8" cy="620.1" r="2.35"/>
<circle cx="475.8" cy="621.5" r="2.35"/>
<circle cx="475.8" cy="619.4" r="2.35"/>
<circle cx="475.8" cy="623.6" r="2.35"/>
<circle cx="475.8" cy="611.3" r="2.35"/>
<circle cx="475.8" cy="623.2" r="2.35"/>
<circle cx="475.8" cy="625.6" r="2.35"/>
<circle cx="475.8" cy="625.2" r="2.35"/>
<circle cx="475.8" cy="621.1" r="2.35"/>
<circle cx="475.8" cy="617.1" r="2.35"/>
<circle cx="475.8" cy="620.9" r="2.35"/>
<circle cx="475.8" cy="618.0" r="2.35"/>
<circle cx="475.8" cy="614.8" r="2.35"/>
<circle cx="475.8" cy="618.3" r="2.35"/>
<circle cx="475.8" cy="615.4" r="2.35"/>
<circle cx="475.8" cy="612.8" r="2.35"/>
<circle cx="475.8" cy="617.1" r="2.35"/>
<circle cx="475.8" cy="616.2" r="2.35"/>
<circle cx="475.8" cy="618.9" r="2.35"/>
<circle cx="475.8" cy="618.2" r="2.35"/>
<circle cx="475.8" cy="619.5" r="2.35"/>
<circle cx="475.8" cy="624.5" r="2.35"/>
<circle cx="475.8" cy="619.3" r="2.35"/>
<circle cx="475.8" cy="621.0" r="2.35"/>
<circle cx="475.8" cy="611.1" r="2.35"/>
<circle cx="475.8" cy="616.1" r="2.35"/>
<circle cx="475.8" cy="622.6" r="2.35"/>
<circle cx="475.8" cy="616.4" r="2.35"/>
<circle cx="475.8" cy="614.7" r="2.35"/>
<circle cx="475.8" cy="611.0" r="2.35"/>
<circle cx="475.8" cy="623.9" r="2.35"/>
<circle cx="488.7" cy="606.2" r="2.35"/>
<circle cx="488.7" cy="621.9" r="2.35"/>
<circle cx="488.7" cy="610.7" r="2.35"/>
<circle cx="488.7" cy="615.6" r="2.35"/>
<circle cx="488.7" cy="621.2" r="2.35"/>
<circle cx="488.7" cy="617.4" r="2.35"/>
<circle cx="488.7" cy="613.2" r="2.35"/>
<circle cx="488.7" cy="620.1" r="2.35"/>
<circle cx="488.7" cy="618.4" r="2.35"/>
<circle cx="488.7" cy="609.9" r="2.35"/>
<circle cx="488.7" cy="614.3" r="2.35"/>
<circle cx="488.7" cy="610.5" r="2.35"/>
<circle cx="488.7" cy="607.6" r="2.35"/>
<circle cx="488.7" cy="615.9" r="2.35"/>
<circle cx="488.7" cy="609.2" r="2.35"/>
<circle cx="488.7" cy="609.4" r="2.35"/>
<circle cx="488.7" cy="610.6" r="2.35"/>
<circle cx="488.7" cy="614.6" r="2.35"/>
<circle cx="488.7" cy="610.8" r="2.35"/>
<circle cx="488.7" cy="614.4" r="2.35"/>
<circle cx="488.7" cy="610.2" r="2.35"/>
<circle cx="488.7" cy="616.8" r="2.35"/>
<circle cx="488.7" cy="615.0" r="2.35"/>
<circle cx="488.7" cy="611.1" r="2.35"/>
<circle cx="488.7" cy="613.1" r="2.35"/>
<circle cx="488.7" cy="615.9" r="2.35"/>
<circle cx="488.7" cy="609.0" r="2.35"/>
<circle cx="488.7" cy="608.5" r="2.35"/>
<circle cx="488.7" cy="607.4" r="2.35"/>
<circle cx="488.7" cy="621.4" r="2.35"/>
<circle cx="488.7" cy="611.1" r="2.35"/>
<circle cx="488.7" cy="613.6" r="2.35"/>
<circle cx="488.7" cy="614.3" r="2.35"/>
<circle cx="488.7" cy="619.5" r="2.35"/>
<circle cx="488.7" cy="619.9" r="2.35"/>
<circle cx="488.7" cy="607.3" r="2.35"/>
<circle cx="488.7" cy="621.2" r="2.35"/>
<circle cx="488.7" cy="613.4" r="2.35"/>
<circle cx="488.7" cy="611.0" r="2.35"/>
<circle cx="488.7" cy="607.2" r="2.35"/>
<circle cx="488.7" cy="620.4" r="2.35"/>
<circle cx="488.7" cy="615.9" r="2.35"/>
<circle cx="488.7" cy="614.1" r="2.35"/>
<circle cx="488.7" cy="606.3" r="2.35"/>
<circle cx="488.7" cy="619.5" r="2.35"/>
<circle cx="488.7" cy="613.9" r="2.35"/>
<circle cx="488.7" cy="608.1" r="2.35"/>
<circle cx="488.7" cy="619.6" r="2.35"/>
<circle cx="488.7" cy="607.8" r="2.35"/>
<circle cx="488.7" cy="612.3" r="2.35"/>
<circle cx="488.7" cy="621.7" r="2.35"/>
<circle cx="488.7" cy="611.4" r="2.35"/>
<circle cx="488.7" cy="616.6" r="2.35"/>
<circle cx="488.7" cy="621.2" r="2.35"/>
<circle cx="488.7" cy="608.4" r="2.35"/>
<circle cx="488.7" cy="614.7" r="2.35"/>
<circle cx="488.7" cy="608.8" r="2.35"/>
<circle cx="488.7" cy="619.4" r="2.35"/>
<circle cx="488.7" cy="610.3" r="2.35"/>
<circle cx="488.7" cy="611.7" r="2.35"/>
<circle cx="488.7" cy="612.8" r="2.35"/>
<circle cx="488.7" cy="621.4" r="2.35"/>
<circle cx="488.7" cy="607.5" r="2.35"/>
<circle cx="488.7" cy="613.9" r="2.35"/>
<circle cx="488.7" cy="612.0" r="2.35"/>
<circle cx="488.7" cy="610.6" r="2.35"/>
<circle cx="488.7" cy="609.1" r="2.35"/>
<circle cx="488.7" cy="613.0" r="2.35"/>
<circle cx="488.7" cy="615.3" r="2.35"/>
<circle cx="488.7" cy="615.5" r="2.35"/>
<circle cx="488.7" cy="606.6" r="2.35"/>
<circle cx="488.7" cy="614.1" r="2.35"/>
<circle cx="488.7" cy="608.0" r="2.35"/>
<circle cx="488.7" cy="613.6" r="2.35"/>
<circle cx="488.7" cy="612.5" r="2.35"/>
<circle cx="488.7" cy="620.2" r="2.35"/>
<circle cx="488.7" cy="611.1" r="2.35"/>
<circle cx="488.7" cy="615.2" r="2.35"/>
<circle cx="488.7" cy="615.6" r="2.35"/>
<circle cx="488.7" cy="620.8" r="2.35"/>
<circle cx="501.5" cy="546.7" r="2.35"/>
<circle cx="501.5" cy="580.5" r="2.35"/>
<circle cx="501.5" cy="578.0" r="2.35"/>
<circle cx="501.5" cy="576.7" r="2.35"/>
<circle cx="501.5" cy="575.5" r="2.35"/>
<circle cx="501.5" cy="574.6" r="2.35"/>
<circle cx="501.5" cy="573.3" r="2.35"/>
<circle cx="501.5" cy="561.6" r="2.35"/>
<circle cx="501.5" cy="566.9" r="2.35"/>
<circle cx="501.5" cy="562.8" r="2.35"/>
<circle cx="501.5" cy="553.0" r="2.35"/>
<circle cx="501.5" cy="556.7" r="2.35"/>
<circle cx="501.5" cy="551.9" r="2.35"/>
<circle cx="501.5" cy="568.7" r="2.35"/>
<circle cx="501.5" cy="563.2" r="2.35"/>
<circle cx="501.5" cy="564.9" r="2.35"/>
<circle cx="501.5" cy="557.2" r="2.35"/>
<circle cx="501.5" cy="555.7" r="2.35"/>
<circle cx="501.5" cy="560.8" r="2.35"/>
<circle cx="501.5" cy="568.9" r="2.35"/>
<circle cx="501.5" cy="571.2" r="2.35"/>
<circle cx="501.5" cy="558.6" r="2.35"/>
<circle cx="501.5" cy="547.7" r="2.35"/>
<circle cx="501.5" cy="554.0" r="2.35"/>
<circle cx="501.5" cy="565.6" r="2.35"/>
<circle cx="501.5" cy="560.9" r="2.35"/>
<circle cx="501.5" cy="547.3" r="2.35"/>
<circle cx="501.5" cy="567.1" r="2.35"/>
<circle cx="501.5" cy="551.4" r="2.35"/>
<circle cx="501.5" cy="551.7" r="2.35"/>
<circle cx="501.5" cy="563.9" r="2.35"/>
<circle cx="501.5" cy="566.1" r="2.35"/>
<circle cx="501.5" cy="558.5" r="2.35"/>
<circle cx="501.5" cy="564.2" r="2.35"/>
<circle cx="501.5" cy="566.6" r="2.35"/>
<circle cx="501.5" cy="550.1" r="2.35"/>
<circle cx="501.5" cy="549.7" r="2.35"/>
<circle cx="501.5" cy="568.0" r="2.35"/>
<circle cx="501.5" cy="552.7" r="2.35"/>
<circle cx="501.5" cy="565.9" r="2.35"/>
<circle cx="501.5" cy="555.9" r="2.35"/>
<circle cx="501.5" cy="563.3" r="2.35"/>
<circle cx="501.5" cy="568.7" r="2.35"/>
<circle cx="501.5" cy="553.2" r="2.35"/>
<circle cx="501.5" cy="548.5" r="2.35"/>
<circle cx="501.5" cy="567.9" r="2.35"/>
<circle cx="501.5" cy="559.5" r="2.35"/>
<circle cx="501.5" cy="561.7" r="2.35"/>
<circle cx="501.5" cy="551.8" r="2.35"/>
<circle cx="501.5" cy="566.0" r="2.35"/>
<circle cx="501.5" cy="569.5" r="2.35"/>
<circle cx="501.5" cy="560.3" r="2.35"/>
<circle cx="501.5" cy="560.3" r="2.35"/>
<circle cx="501.5" cy="550.3" r="2.35"/>
<circle cx="501.5" cy="553.4" r="2.35"/>
<circle cx="501.5" cy="560.4" r="2.35"/>
<circle cx="501.5" cy="561.5" r="2.35"/>
<circle cx="501.5" cy="553.1" r="2.35"/>
<circle cx="501.5" cy="547.0" r="2.35"/>
<circle cx="501.5" cy="557.7" r="2.35"/>
<circle cx="501.5" cy="566.2" r="2.35"/>
<circle cx="501.5" cy="561.0" r="2.35"/>
<circle cx="501.5" cy="551.5" r="2.35"/>
<circle cx="501.5" cy="555.5" r="2.35"/>
<circle cx="501.5" cy="568.5" r="2.35"/>
<circle cx="501.5" cy="561.7" r="2.35"/>
<circle cx="501.5" cy="551.0" r="2.35"/>
<circle cx="501.5" cy="548.6" r="2.35"/>
<circle cx="501.5" cy="554.3" r="2.35"/>
<circle cx="501.5" cy="559.3" r="2.35"/>
<circle cx="501.5" cy="561.7" r="2.35"/>
<circle cx="501.5" cy="568.3" r="2.35"/>
<circle cx="501.5" cy="551.1" r="2.35"/>
<circle cx="501.5" cy="564.5" r="2.35"/>
<circle cx="501.5" cy="563.8" r="2.35"/>
<circle cx="501.5" cy="556.6" r="2.35"/>
<circle cx="501.5" cy="567.2" r="2.35"/>
<circle cx="501.5" cy="558.9" r="2.35"/>
<circle cx="501.5" cy="564.4" r="2.35"/>
<circle cx="501.5" cy="553.6" r="2.35"/>
<circle cx="501.5" cy="551.0" r="2.35"/>
<circle cx="501.5" cy="554.4" r="2.35"/>
<circle cx="501.5" cy="564.0" r="2.35"/>
<circle cx="501.5" cy="562.6" r="2.35"/>
<circle cx="501.5" cy="552.0" r="2.35"/>
<circle cx="501.5" cy="590.4" r="2.35"/>
<circle cx="501.5" cy="599.7" r="2.35"/>
<circle cx="655.9" cy="533.7" r="2.35"/>
<circle cx="655.9" cy="565.8" r="2.35"/>
<circle cx="655.9" cy="563.6" r="2.35"/>
<circle cx="655.9" cy="562.1" r="2.35"/>
<circle cx="655.9" cy="561.3" r="2.35"/>
<circle cx="655.9" cy="559.3" r="2.35"/>
<circle cx="655.9" cy="558.3" r="2.35"/>
<circle cx="655.9" cy="556.9" r="2.35"/>
<circle cx="655.9" cy="533.9" r="2.35"/>
<circle cx="655.9" cy="533.9" r="2.35"/>
<circle cx="655.9" cy="550.8" r="2.35"/>
<circle cx="655.9" cy="535.4" r="2.35"/>
<circle cx="655.9" cy="555.1" r="2.35"/>
<circle cx="655.9" cy="550.2" r="2.35"/>
<circle cx="655.9" cy="548.9" r="2.35"/>
<circle cx="655.9" cy="544.9" r="2.35"/>
<circle cx="655.9" cy="535.2" r="2.35"/>
<circle cx="655.9" cy="548.6" r="2.35"/>
<circle cx="655.9" cy="544.6" r="2.35"/>
<circle cx="655.9" cy="538.8" r="2.35"/>
<circle cx="655.9" cy="546.2" r="2.35"/>
<circle cx="655.9" cy="548.7" r="2.35"/>
<circle cx="655.9" cy="544.8" r="2.35"/>
<circle cx="655.9" cy="551.9" r="2.35"/>
<circle cx="655.9" cy="549.3" r="2.35"/>
<circle cx="655.9" cy="535.2" r="2.35"/>
<circle cx="655.9" cy="549.1" r="2.35"/>
<circle cx="655.9" cy="541.4" r="2.35"/>
<circle cx="655.9" cy="542.2" r="2.35"/>
<circle cx="655.9" cy="549.9" r="2.35"/>
<circle cx="655.9" cy="554.0" r="2.35"/>
<circle cx="655.9" cy="536.2" r="2.35"/>
<circle cx="655.9" cy="545.1" r="2.35"/>
<circle cx="655.9" cy="548.6" r="2.35"/>
<circle cx="655.9" cy="540.1" r="2.35"/>
<circle cx="655.9" cy="550.7" r="2.35"/>
<circle cx="655.9" cy="539.0" r="2.35"/>
<circle cx="655.9" cy="538.5" r="2.35"/>
<circle cx="655.9" cy="555.2" r="2.35"/>
<circle cx="655.9" cy="538.1" r="2.35"/>
<circle cx="655.9" cy="541.9" r="2.35"/>
<circle cx="655.9" cy="541.8" r="2.35"/>
<circle cx="655.9" cy="547.9" r="2.35"/>
<circle cx="655.9" cy="538.7" r="2.35"/>
<circle cx="655.9" cy="535.7" r="2.35"/>
<circle cx="655.9" cy="541.1" r="2.35"/>
<circle cx="655.9" cy="551.7" r="2.35"/>
<circle cx="655.9" cy="549.3" r="2.35"/>
<circle cx="655.9" cy="538.1" r="2.35"/>
<circle cx="655.9" cy="555.7" r="2.35"/>
<circle cx="655.9" cy="539.0" r="2.35"/>
<circle cx="655.9" cy="551.6" r="2.35"/>
<circle cx="655.9" cy="551.6" r="2.35"/>
<circle cx="655.9" cy="539.8" r="2.35"/>
<circle cx="655.9" cy="536.5" r="2.35"/>
<circle cx="655.9" cy="539.4" r="2.35"/>
<circle cx="655.9" cy="548.3" r="2.35"/>
<circle cx="655.9" cy="547.2" r="2.35"/>
<circle cx="655.9" cy="535.3" r="2.35"/>
<circle cx="655.9" cy="549.0" r="2.35"/>
<circle cx="655.9" cy="537.3" r="2.35"/>
<circle cx="655.9" cy="544.5" r="2.35"/>
<circle cx="655.9" cy="542.6" r="2.35"/>
<circle cx="655.9" cy="549.0" r="2.35"/>
<circle cx="655.9" cy="539.3" r="2.35"/>
<circle cx="655.9" cy="534.8" r="2.35"/>
<circle cx="655.9" cy="544.9" r="2.35"/>
<circle cx="655.9" cy="546.5" r="2.35"/>
<circle cx="655.9" cy="549.9" r="2.35"/>
<circle cx="655.9" cy="536.4" r="2.35"/>
<circle cx="655.9" cy="534.0" r="2.35"/>
<circle cx="655.9" cy="544.1" r="2.35"/>
<circle cx="655.9" cy="552.7" r="2.35"/>
<circle cx="655.9" cy="553.9" r="2.35"/>
<circle cx="655.9" cy="549.7" r="2.35"/>
<circle cx="655.9" cy="554.0" r="2.35"/>
<circle cx="655.9" cy="540.4" r="2.35"/>
<circle cx="655.9" cy="555.0" r="2.35"/>
<circle cx="655.9" cy="551.5" r="2.35"/>
<circle cx="655.9" cy="552.3" r="2.35"/>
<circle cx="655.9" cy="529.8" r="2.35"/>
<circle cx="655.9" cy="574.0" r="2.35"/>
<circle cx="655.9" cy="578.3" r="2.35"/>
<circle cx="231.5" cy="394.9" r="2.35"/>
<circle cx="231.5" cy="399.2" r="2.35"/>
<circle cx="231.5" cy="411.7" r="2.35"/>
<circle cx="231.5" cy="411.8" r="2.35"/>
<circle cx="231.5" cy="413.2" r="2.35"/>
<circle cx="231.5" cy="414.6" r="2.35"/>
<circle cx="231.5" cy="414.8" r="2.35"/>
<circle cx="231.5" cy="419.0" r="2.35"/>
<circle cx="231.5" cy="422.7" r="2.35"/>
<circle cx="231.5" cy="425.5" r="2.35"/>
<circle cx="231.5" cy="431.0" r="2.35"/>
<circle cx="231.5" cy="431.1" r="2.35"/>
<circle cx="231.5" cy="431.3" r="2.35"/>
<circle cx="231.5" cy="434.3" r="2.35"/>
<circle cx="231.5" cy="438.7" r="2.35"/>
<circle cx="231.5" cy="438.8" r="2.35"/>
<circle cx="231.5" cy="440.0" r="2.35"/>
<circle cx="231.5" cy="441.5" r="2.35"/>
<circle cx="231.5" cy="441.6" r="2.35"/>
<circle cx="231.5" cy="447.5" r="2.35"/>
<circle cx="231.5" cy="447.6" r="2.35"/>
<circle cx="231.5" cy="447.8" r="2.35"/>
<circle cx="231.5" cy="449.7" r="2.35"/>
<circle cx="231.5" cy="449.8" r="2.35"/>
<circle cx="231.5" cy="452.9" r="2.35"/>
<circle cx="231.5" cy="453.0" r="2.35"/>
<circle cx="231.5" cy="453.2" r="2.35"/>
<circle cx="231.5" cy="456.2" r="2.35"/>
<circle cx="231.5" cy="456.3" r="2.35"/>
<circle cx="231.5" cy="459.5" r="2.35"/>
<circle cx="231.5" cy="459.6" r="2.35"/>
<circle cx="231.5" cy="462.8" r="2.35"/>
<circle cx="231.5" cy="462.9" r="2.35"/>
<circle cx="231.5" cy="466.1" r="2.35"/>
<circle cx="231.5" cy="469.4" r="2.35"/>
<circle cx="231.5" cy="469.5" r="2.35"/>
<circle cx="231.5" cy="472.7" r="2.35"/>
<circle cx="231.5" cy="472.8" r="2.35"/>
<circle cx="231.5" cy="475.3" r="2.35"/>
<circle cx="231.5" cy="475.4" r="2.35"/>
<circle cx="231.5" cy="478.2" r="2.35"/>
<circle cx="231.5" cy="478.3" r="2.35"/>
<circle cx="231.5" cy="479.7" r="2.35"/>
<circle cx="231.5" cy="479.8" r="2.35"/>
<circle cx="231.5" cy="483.6" r="2.35"/>
<circle cx="231.5" cy="483.8" r="2.35"/>
<circle cx="231.5" cy="486.3" r="2.35"/>
<circle cx="231.5" cy="486.4" r="2.35"/>
<circle cx="231.5" cy="489.1" r="2.35"/>
<circle cx="231.5" cy="492.0" r="2.35"/>
<circle cx="231.5" cy="492.1" r="2.35"/>
<circle cx="231.5" cy="492.3" r="2.35"/>
<circle cx="231.5" cy="496.8" r="2.35"/>
<circle cx="231.5" cy="496.9" r="2.35"/>
<circle cx="231.5" cy="499.4" r="2.35"/>
<circle cx="231.5" cy="499.5" r="2.35"/>
<circle cx="231.5" cy="502.9" r="2.35"/>
<circle cx="231.5" cy="505.5" r="2.35"/>
<circle cx="231.5" cy="508.2" r="2.35"/>
<circle cx="231.5" cy="512.6" r="2.35"/>
<circle cx="231.5" cy="512.8" r="2.35"/>
<circle cx="231.5" cy="526.4" r="2.35"/>
<circle cx="231.5" cy="530.8" r="2.35"/>
</g>
<path d="M48.2 383.75H684.5" fill="none" stroke="#333" stroke-width="0.7"/>
<path d="M684.5 383.5V638.8" fill="none" stroke="#484848" stroke-width="1"/>
<path d="M48.2 383.2V638.8H685.5" fill="none" stroke="#222" stroke-width="1.8" stroke-linejoin="miter"/>
<path d="M115.8 638.8v4.2" stroke="#3a3a3a" stroke-width="1.6"/>
<text transform="translate(113.1 660.7) scale(0.971,1)" text-anchor="middle" class="tk">40</text>
<path d="M244.3 638.8v4.2" stroke="#3a3a3a" stroke-width="1.6"/>
<text transform="translate(241.7 660.7) scale(0.971,1)" text-anchor="middle" class="tk">50</text>
<path d="M372.9 638.8v4.2" stroke="#3a3a3a" stroke-width="1.6"/>
<text transform="translate(370.3 660.7) scale(0.971,1)" text-anchor="middle" class="tk">60</text>
<path d="M501.5 638.8v4.2" stroke="#3a3a3a" stroke-width="1.6"/>
<text transform="translate(498.9 660.7) scale(0.971,1)" text-anchor="middle" class="tk">70</text>
<path d="M630.1 638.8v4.2" stroke="#3a3a3a" stroke-width="1.6"/>
<text transform="translate(627.5 660.7) scale(0.971,1)" text-anchor="middle" class="tk">80</text>
<path d="M48.2 597.0h-4.3" stroke="#3a3a3a" stroke-width="1.6"/>
<text transform="translate(38.4 604.4) scale(0.971,1)" text-anchor="end" class="tk">2</text>
<path d="M48.2 530.4h-4.3" stroke="#3a3a3a" stroke-width="1.6"/>
<text transform="translate(38.4 537.8) scale(0.971,1)" text-anchor="end" class="tk">3</text>
<path d="M48.2 463.8h-4.3" stroke="#3a3a3a" stroke-width="1.6"/>
<text transform="translate(38.4 471.2) scale(0.971,1)" text-anchor="end" class="tk">4</text>
<path d="M48.2 397.2h-4.3" stroke="#3a3a3a" stroke-width="1.6"/>
<text transform="translate(38.4 404.6) scale(0.971,1)" text-anchor="end" class="tk">5</text>
<text transform="translate(363.8 682.2) scale(0.9225,1)" text-anchor="middle" class="tt">Screen position</text>
<text transform="translate(19.4 511.6) rotate(-90) scale(0.9225,1)" text-anchor="middle" class="tt">Median time per item</text>
</svg>
<div class="cap" style="top:322.6px">(a) Booklet 1</div>
<div class="cap" style="top:705.0px">(b) Booklet 2</div>
</body></html>
